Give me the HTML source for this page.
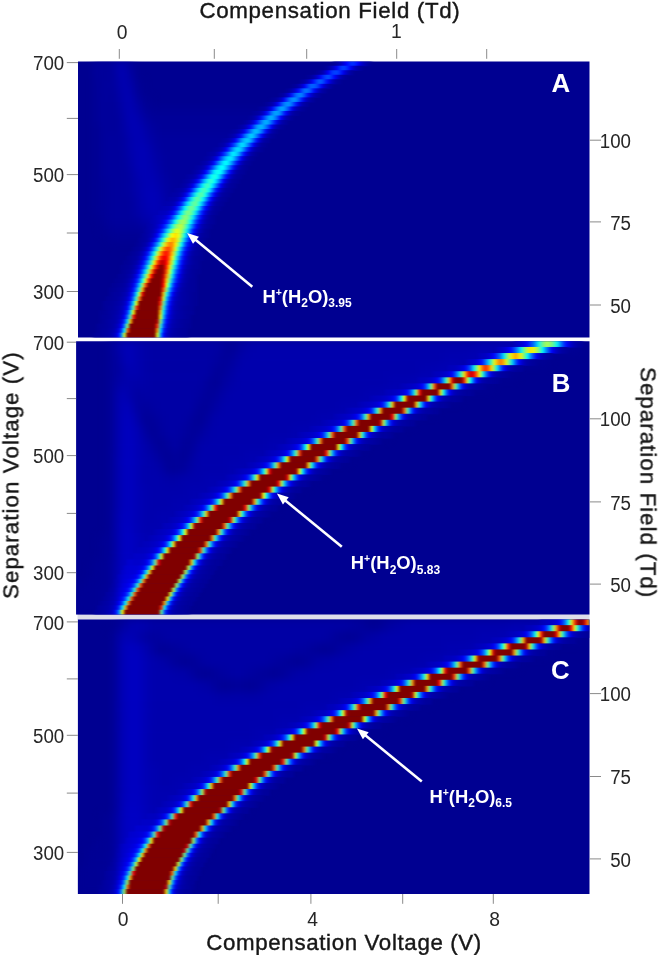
<!DOCTYPE html>
<html><head><meta charset="utf-8"><title>Dispersion plots</title>
<style>html,body{margin:0;padding:0;background:#fff}svg{display:block}text{font-family:"Liberation Sans",Arial,sans-serif}</style></head><body>
<svg width="660" height="958" viewBox="0 0 660 958">
<defs>
<clipPath id="cpA"><rect x="78.0" y="61.5" width="511.5" height="276.0"/></clipPath>
<clipPath id="cpB"><rect x="76.1" y="341.2" width="513.4" height="273.3"/></clipPath>
<clipPath id="cpC"><rect x="77.9" y="619.4" width="511.6" height="274.6"/></clipPath>
<filter id="bl" x="-5%" y="-5%" width="110%" height="110%" color-interpolation-filters="sRGB"><feGaussianBlur stdDeviation="1.6 0.7"/></filter>
<filter id="hb" x="-5%" y="-5%" width="110%" height="110%" color-interpolation-filters="sRGB"><feGaussianBlur stdDeviation="4"/></filter>
<filter id="tb" x="-10%" y="-10%" width="120%" height="120%"><feGaussianBlur stdDeviation="0.45"/></filter>
</defs>
<rect width="660" height="958" fill="#fff"/>
<rect x="77.5" y="614" width="512.0" height="6" fill="#dedeea"/>
<g clip-path="url(#cpA)">
<rect x="73.0" y="56.5" width="521.5" height="286.0" fill="#000091"/>
<g filter="url(#hb)">
<rect x="93.7" y="61.2" width="8.6" height="9.6" fill="#00009d"/>
<rect x="101.7" y="61.2" width="8.6" height="9.6" fill="#000099"/>
<rect x="109.7" y="61.2" width="8.6" height="9.6" fill="#0000a1"/>
<rect x="117.7" y="61.2" width="8.6" height="9.6" fill="#0000b5"/>
<rect x="125.7" y="61.2" width="8.6" height="9.6" fill="#00009d"/>
<rect x="93.7" y="70.2" width="8.6" height="9.6" fill="#00009d"/>
<rect x="101.7" y="70.2" width="8.6" height="9.6" fill="#000099"/>
<rect x="109.7" y="70.2" width="8.6" height="9.6" fill="#00009d"/>
<rect x="117.7" y="70.2" width="8.6" height="9.6" fill="#0000b5"/>
<rect x="125.7" y="70.2" width="8.6" height="9.6" fill="#0000a5"/>
<rect x="93.7" y="79.3" width="8.6" height="9.6" fill="#000099"/>
<rect x="101.7" y="79.3" width="16.6" height="9.6" fill="#00009d"/>
<rect x="117.7" y="79.3" width="8.6" height="9.6" fill="#0000b1"/>
<rect x="125.7" y="79.3" width="8.6" height="9.6" fill="#0000ad"/>
<rect x="133.7" y="79.3" width="8.6" height="9.6" fill="#000095"/>
<rect x="93.7" y="88.3" width="8.6" height="9.6" fill="#000099"/>
<rect x="101.7" y="88.3" width="8.6" height="9.6" fill="#00009d"/>
<rect x="109.7" y="88.3" width="8.6" height="9.6" fill="#000099"/>
<rect x="117.7" y="88.3" width="8.6" height="9.6" fill="#0000ad"/>
<rect x="125.7" y="88.3" width="8.6" height="9.6" fill="#0000b1"/>
<rect x="133.7" y="88.3" width="8.6" height="9.6" fill="#000099"/>
<rect x="93.7" y="97.4" width="8.6" height="9.6" fill="#000099"/>
<rect x="101.7" y="97.4" width="8.6" height="9.6" fill="#00009d"/>
<rect x="109.7" y="97.4" width="8.6" height="9.6" fill="#000099"/>
<rect x="117.7" y="97.4" width="8.6" height="9.6" fill="#0000a9"/>
<rect x="125.7" y="97.4" width="8.6" height="9.6" fill="#0000b5"/>
<rect x="133.7" y="97.4" width="8.6" height="9.6" fill="#0000a1"/>
<rect x="141.7" y="97.4" width="8.6" height="9.6" fill="#000095"/>
<rect x="93.7" y="106.4" width="8.6" height="9.6" fill="#000099"/>
<rect x="101.7" y="106.4" width="8.6" height="9.6" fill="#00009d"/>
<rect x="109.7" y="106.4" width="8.6" height="9.6" fill="#000099"/>
<rect x="117.7" y="106.4" width="8.6" height="9.6" fill="#0000a5"/>
<rect x="125.7" y="106.4" width="8.6" height="9.6" fill="#0000b5"/>
<rect x="133.7" y="106.4" width="8.6" height="9.6" fill="#0000a9"/>
<rect x="141.7" y="106.4" width="8.6" height="9.6" fill="#000099"/>
<rect x="149.7" y="106.4" width="120.6" height="9.6" fill="#000095"/>
<rect x="93.7" y="115.5" width="8.6" height="9.6" fill="#000099"/>
<rect x="101.7" y="115.5" width="8.6" height="9.6" fill="#00009d"/>
<rect x="109.7" y="115.5" width="8.6" height="9.6" fill="#000099"/>
<rect x="117.7" y="115.5" width="8.6" height="9.6" fill="#0000a1"/>
<rect x="125.7" y="115.5" width="8.6" height="9.6" fill="#0000b5"/>
<rect x="133.7" y="115.5" width="8.6" height="9.6" fill="#0000b1"/>
<rect x="141.7" y="115.5" width="8.6" height="9.6" fill="#0000a1"/>
<rect x="149.7" y="115.5" width="104.6" height="9.6" fill="#000099"/>
<rect x="253.7" y="115.5" width="8.6" height="9.6" fill="#000095"/>
<rect x="93.7" y="124.5" width="8.6" height="9.6" fill="#000095"/>
<rect x="101.7" y="124.5" width="8.6" height="9.6" fill="#00009d"/>
<rect x="109.7" y="124.5" width="8.6" height="9.6" fill="#000099"/>
<rect x="117.7" y="124.5" width="8.6" height="9.6" fill="#0000a1"/>
<rect x="125.7" y="124.5" width="8.6" height="9.6" fill="#0000b1"/>
<rect x="133.7" y="124.5" width="8.6" height="9.6" fill="#0000b5"/>
<rect x="141.7" y="124.5" width="8.6" height="9.6" fill="#0000a9"/>
<rect x="149.7" y="124.5" width="8.6" height="9.6" fill="#00009d"/>
<rect x="157.7" y="124.5" width="88.6" height="9.6" fill="#000099"/>
<rect x="245.7" y="124.5" width="8.6" height="9.6" fill="#000095"/>
<rect x="93.7" y="133.6" width="8.6" height="9.6" fill="#000095"/>
<rect x="101.7" y="133.6" width="24.6" height="9.6" fill="#00009d"/>
<rect x="125.7" y="133.6" width="8.6" height="9.6" fill="#0000ad"/>
<rect x="133.7" y="133.6" width="8.6" height="9.6" fill="#0000b5"/>
<rect x="141.7" y="133.6" width="8.6" height="9.6" fill="#0000ad"/>
<rect x="149.7" y="133.6" width="8.6" height="9.6" fill="#0000a1"/>
<rect x="157.7" y="133.6" width="80.6" height="9.6" fill="#00009d"/>
<rect x="237.7" y="133.6" width="8.6" height="9.6" fill="#000095"/>
<rect x="93.7" y="142.6" width="8.6" height="9.6" fill="#000095"/>
<rect x="101.7" y="142.6" width="24.6" height="9.6" fill="#00009d"/>
<rect x="125.7" y="142.6" width="8.6" height="9.6" fill="#0000ad"/>
<rect x="133.7" y="142.6" width="16.6" height="9.6" fill="#0000b5"/>
<rect x="149.7" y="142.6" width="8.6" height="9.6" fill="#0000a5"/>
<rect x="157.7" y="142.6" width="72.6" height="9.6" fill="#00009d"/>
<rect x="229.7" y="142.6" width="8.6" height="9.6" fill="#000095"/>
<rect x="93.7" y="151.7" width="8.6" height="9.6" fill="#000095"/>
<rect x="101.7" y="151.7" width="24.6" height="9.6" fill="#00009d"/>
<rect x="125.7" y="151.7" width="8.6" height="9.6" fill="#0000a9"/>
<rect x="133.7" y="151.7" width="16.6" height="9.6" fill="#0000b5"/>
<rect x="149.7" y="151.7" width="8.6" height="9.6" fill="#0000a9"/>
<rect x="157.7" y="151.7" width="8.6" height="9.6" fill="#0000a1"/>
<rect x="165.7" y="151.7" width="56.6" height="9.6" fill="#00009d"/>
<rect x="221.7" y="151.7" width="8.6" height="9.6" fill="#000095"/>
<rect x="93.7" y="160.7" width="8.6" height="9.6" fill="#000095"/>
<rect x="101.7" y="160.7" width="24.6" height="9.6" fill="#00009d"/>
<rect x="125.7" y="160.7" width="8.6" height="9.6" fill="#0000a5"/>
<rect x="133.7" y="160.7" width="16.6" height="9.6" fill="#0000b5"/>
<rect x="149.7" y="160.7" width="8.6" height="9.6" fill="#0000ad"/>
<rect x="157.7" y="160.7" width="8.6" height="9.6" fill="#0000a1"/>
<rect x="165.7" y="160.7" width="48.6" height="9.6" fill="#00009d"/>
<rect x="213.7" y="160.7" width="8.6" height="9.6" fill="#000095"/>
<rect x="93.7" y="169.8" width="8.6" height="9.6" fill="#000095"/>
<rect x="101.7" y="169.8" width="24.6" height="9.6" fill="#00009d"/>
<rect x="125.7" y="169.8" width="8.6" height="9.6" fill="#0000a1"/>
<rect x="133.7" y="169.8" width="8.6" height="9.6" fill="#0000b1"/>
<rect x="141.7" y="169.8" width="8.6" height="9.6" fill="#0000b5"/>
<rect x="149.7" y="169.8" width="8.6" height="9.6" fill="#0000b1"/>
<rect x="157.7" y="169.8" width="8.6" height="9.6" fill="#0000a5"/>
<rect x="165.7" y="169.8" width="40.6" height="9.6" fill="#00009d"/>
<rect x="205.7" y="169.8" width="8.6" height="9.6" fill="#000095"/>
<rect x="93.7" y="178.8" width="8.6" height="9.6" fill="#000095"/>
<rect x="101.7" y="178.8" width="8.6" height="9.6" fill="#000099"/>
<rect x="109.7" y="178.8" width="16.6" height="9.6" fill="#00009d"/>
<rect x="125.7" y="178.8" width="8.6" height="9.6" fill="#0000a1"/>
<rect x="133.7" y="178.8" width="8.6" height="9.6" fill="#0000ad"/>
<rect x="141.7" y="178.8" width="16.6" height="9.6" fill="#0000b5"/>
<rect x="157.7" y="178.8" width="8.6" height="9.6" fill="#0000a9"/>
<rect x="165.7" y="178.8" width="8.6" height="9.6" fill="#0000a1"/>
<rect x="173.7" y="178.8" width="24.6" height="9.6" fill="#00009d"/>
<rect x="197.7" y="178.8" width="8.6" height="9.6" fill="#000095"/>
<rect x="93.7" y="187.9" width="8.6" height="9.6" fill="#000095"/>
<rect x="101.7" y="187.9" width="8.6" height="9.6" fill="#000099"/>
<rect x="109.7" y="187.9" width="16.6" height="9.6" fill="#00009d"/>
<rect x="125.7" y="187.9" width="8.6" height="9.6" fill="#0000a1"/>
<rect x="133.7" y="187.9" width="8.6" height="9.6" fill="#0000ad"/>
<rect x="141.7" y="187.9" width="8.6" height="9.6" fill="#0000b5"/>
<rect x="149.7" y="187.9" width="8.6" height="9.6" fill="#0000b9"/>
<rect x="157.7" y="187.9" width="8.6" height="9.6" fill="#0000ad"/>
<rect x="165.7" y="187.9" width="8.6" height="9.6" fill="#0000a1"/>
<rect x="173.7" y="187.9" width="16.6" height="9.6" fill="#00009d"/>
<rect x="189.7" y="187.9" width="8.6" height="9.6" fill="#000099"/>
<rect x="93.7" y="196.9" width="8.6" height="9.6" fill="#000095"/>
<rect x="101.7" y="196.9" width="8.6" height="9.6" fill="#000099"/>
<rect x="109.7" y="196.9" width="24.6" height="9.6" fill="#00009d"/>
<rect x="133.7" y="196.9" width="8.6" height="9.6" fill="#0000a9"/>
<rect x="141.7" y="196.9" width="8.6" height="9.6" fill="#0000b5"/>
<rect x="149.7" y="196.9" width="8.6" height="9.6" fill="#0000b9"/>
<rect x="157.7" y="196.9" width="8.6" height="9.6" fill="#0000b1"/>
<rect x="165.7" y="196.9" width="8.6" height="9.6" fill="#0000a5"/>
<rect x="173.7" y="196.9" width="8.6" height="9.6" fill="#00009d"/>
<rect x="181.7" y="196.9" width="8.6" height="9.6" fill="#000099"/>
<rect x="93.7" y="206.0" width="8.6" height="9.6" fill="#000095"/>
<rect x="101.7" y="206.0" width="8.6" height="9.6" fill="#000099"/>
<rect x="109.7" y="206.0" width="24.6" height="9.6" fill="#00009d"/>
<rect x="133.7" y="206.0" width="8.6" height="9.6" fill="#0000a9"/>
<rect x="141.7" y="206.0" width="8.6" height="9.6" fill="#0000b1"/>
<rect x="149.7" y="206.0" width="8.6" height="9.6" fill="#0000b9"/>
<rect x="157.7" y="206.0" width="8.6" height="9.6" fill="#0000b5"/>
<rect x="165.7" y="206.0" width="8.6" height="9.6" fill="#0000a5"/>
<rect x="173.7" y="206.0" width="8.6" height="9.6" fill="#00009d"/>
<rect x="181.7" y="206.0" width="8.6" height="9.6" fill="#000095"/>
<rect x="101.7" y="215.0" width="8.6" height="9.6" fill="#000099"/>
<rect x="109.7" y="215.0" width="24.6" height="9.6" fill="#00009d"/>
<rect x="133.7" y="215.0" width="8.6" height="9.6" fill="#0000a1"/>
<rect x="141.7" y="215.0" width="8.6" height="9.6" fill="#0000ad"/>
<rect x="149.7" y="215.0" width="8.6" height="9.6" fill="#0000b1"/>
<rect x="157.7" y="215.0" width="8.6" height="9.6" fill="#0000b5"/>
<rect x="165.7" y="215.0" width="8.6" height="9.6" fill="#0000a9"/>
<rect x="173.7" y="215.0" width="8.6" height="9.6" fill="#000099"/>
<rect x="101.7" y="224.1" width="8.6" height="9.6" fill="#000095"/>
<rect x="109.7" y="224.1" width="32.6" height="9.6" fill="#000099"/>
<rect x="141.7" y="224.1" width="8.6" height="9.6" fill="#0000a1"/>
<rect x="149.7" y="224.1" width="8.6" height="9.6" fill="#0000a5"/>
<rect x="157.7" y="224.1" width="8.6" height="9.6" fill="#0000ad"/>
<rect x="165.7" y="224.1" width="8.6" height="9.6" fill="#0000a1"/>
<rect x="173.7" y="224.1" width="8.6" height="9.6" fill="#000095"/>
<rect x="109.7" y="233.1" width="32.6" height="9.6" fill="#000095"/>
<rect x="141.7" y="233.1" width="16.6" height="9.6" fill="#000099"/>
<rect x="157.7" y="233.1" width="8.6" height="9.6" fill="#0000a1"/>
<rect x="165.7" y="233.1" width="8.6" height="9.6" fill="#000099"/>
<rect x="157.7" y="242.2" width="8.6" height="9.6" fill="#000095"/>
</g>
<g filter="url(#bl)">
<rect x="333.0" y="61.20" width="3.0" height="5.12" fill="#000097"/>
<rect x="336.0" y="61.20" width="3.0" height="5.12" fill="#0000a3"/>
<rect x="339.0" y="61.20" width="3.0" height="5.12" fill="#0000b7"/>
<rect x="342.0" y="61.20" width="3.0" height="5.12" fill="#0000d7"/>
<rect x="345.0" y="61.20" width="3.0" height="5.12" fill="#0000ff"/>
<rect x="348.0" y="61.20" width="3.0" height="5.12" fill="#0020ff"/>
<rect x="351.0" y="61.20" width="3.0" height="5.12" fill="#0030ff"/>
<rect x="354.0" y="61.20" width="3.0" height="5.12" fill="#0020ff"/>
<rect x="357.0" y="61.20" width="3.0" height="5.12" fill="#0000fb"/>
<rect x="360.0" y="61.20" width="3.0" height="5.12" fill="#0000cf"/>
<rect x="363.0" y="61.20" width="3.0" height="5.12" fill="#0000b3"/>
<rect x="366.0" y="61.20" width="3.0" height="5.12" fill="#00009f"/>
<rect x="369.0" y="61.20" width="3.0" height="5.12" fill="#000097"/>
<rect x="324.0" y="65.72" width="3.0" height="5.12" fill="#000097"/>
<rect x="327.0" y="65.72" width="3.0" height="5.12" fill="#0000a3"/>
<rect x="330.0" y="65.72" width="3.0" height="5.12" fill="#0000b7"/>
<rect x="333.0" y="65.72" width="3.0" height="5.12" fill="#0000d7"/>
<rect x="336.0" y="65.72" width="3.0" height="5.12" fill="#0004ff"/>
<rect x="339.0" y="65.72" width="3.0" height="5.12" fill="#0030ff"/>
<rect x="342.0" y="65.72" width="3.0" height="5.12" fill="#0040ff"/>
<rect x="345.0" y="65.72" width="3.0" height="5.12" fill="#0030ff"/>
<rect x="348.0" y="65.72" width="3.0" height="5.12" fill="#0008ff"/>
<rect x="351.0" y="65.72" width="3.0" height="5.12" fill="#0000db"/>
<rect x="354.0" y="65.72" width="3.0" height="5.12" fill="#0000b7"/>
<rect x="357.0" y="65.72" width="3.0" height="5.12" fill="#0000a3"/>
<rect x="360.0" y="65.72" width="3.0" height="5.12" fill="#00009b"/>
<rect x="315.0" y="70.25" width="3.0" height="5.12" fill="#000097"/>
<rect x="318.0" y="70.25" width="3.0" height="5.12" fill="#00009f"/>
<rect x="321.0" y="70.25" width="3.0" height="5.12" fill="#0000af"/>
<rect x="324.0" y="70.25" width="3.0" height="5.12" fill="#0000cf"/>
<rect x="327.0" y="70.25" width="3.0" height="5.12" fill="#0000fb"/>
<rect x="330.0" y="70.25" width="3.0" height="5.12" fill="#0030ff"/>
<rect x="333.0" y="70.25" width="6.0" height="5.12" fill="#0040ff"/>
<rect x="339.0" y="70.25" width="3.0" height="5.12" fill="#0020ff"/>
<rect x="342.0" y="70.25" width="3.0" height="5.12" fill="#0000eb"/>
<rect x="345.0" y="70.25" width="3.0" height="5.12" fill="#0000c3"/>
<rect x="348.0" y="70.25" width="3.0" height="5.12" fill="#0000a7"/>
<rect x="351.0" y="70.25" width="3.0" height="5.12" fill="#00009b"/>
<rect x="306.0" y="74.77" width="3.0" height="5.12" fill="#000097"/>
<rect x="309.0" y="74.77" width="3.0" height="5.12" fill="#00009b"/>
<rect x="312.0" y="74.77" width="3.0" height="5.12" fill="#0000ab"/>
<rect x="315.0" y="74.77" width="3.0" height="5.12" fill="#0000c3"/>
<rect x="318.0" y="74.77" width="3.0" height="5.12" fill="#0000ef"/>
<rect x="321.0" y="74.77" width="3.0" height="5.12" fill="#0020ff"/>
<rect x="324.0" y="74.77" width="3.0" height="5.12" fill="#0040ff"/>
<rect x="327.0" y="74.77" width="3.0" height="5.12" fill="#0050ff"/>
<rect x="330.0" y="74.77" width="3.0" height="5.12" fill="#0030ff"/>
<rect x="333.0" y="74.77" width="3.0" height="5.12" fill="#0004ff"/>
<rect x="336.0" y="74.77" width="3.0" height="5.12" fill="#0000d3"/>
<rect x="339.0" y="74.77" width="3.0" height="5.12" fill="#0000b3"/>
<rect x="342.0" y="74.77" width="3.0" height="5.12" fill="#00009f"/>
<rect x="345.0" y="74.77" width="3.0" height="5.12" fill="#000097"/>
<rect x="300.0" y="79.30" width="3.0" height="5.12" fill="#00009b"/>
<rect x="303.0" y="79.30" width="3.0" height="5.12" fill="#0000a3"/>
<rect x="306.0" y="79.30" width="3.0" height="5.12" fill="#0000b7"/>
<rect x="309.0" y="79.30" width="3.0" height="5.12" fill="#0000db"/>
<rect x="312.0" y="79.30" width="3.0" height="5.12" fill="#0010ff"/>
<rect x="315.0" y="79.30" width="3.0" height="5.12" fill="#0040ff"/>
<rect x="318.0" y="79.30" width="3.0" height="5.12" fill="#0060ff"/>
<rect x="321.0" y="79.30" width="3.0" height="5.12" fill="#0050ff"/>
<rect x="324.0" y="79.30" width="3.0" height="5.12" fill="#0020ff"/>
<rect x="327.0" y="79.30" width="3.0" height="5.12" fill="#0000f3"/>
<rect x="330.0" y="79.30" width="3.0" height="5.12" fill="#0000c7"/>
<rect x="333.0" y="79.30" width="3.0" height="5.12" fill="#0000ab"/>
<rect x="336.0" y="79.30" width="3.0" height="5.12" fill="#00009b"/>
<rect x="339.0" y="79.30" width="3.0" height="5.12" fill="#000097"/>
<rect x="291.0" y="83.82" width="3.0" height="5.12" fill="#000097"/>
<rect x="294.0" y="83.82" width="3.0" height="5.12" fill="#00009b"/>
<rect x="297.0" y="83.82" width="3.0" height="5.12" fill="#0000ab"/>
<rect x="300.0" y="83.82" width="3.0" height="5.12" fill="#0000c7"/>
<rect x="303.0" y="83.82" width="3.0" height="5.12" fill="#0000f3"/>
<rect x="306.0" y="83.82" width="3.0" height="5.12" fill="#0030ff"/>
<rect x="309.0" y="83.82" width="6.0" height="5.12" fill="#0060ff"/>
<rect x="315.0" y="83.82" width="3.0" height="5.12" fill="#0050ff"/>
<rect x="318.0" y="83.82" width="3.0" height="5.12" fill="#0020ff"/>
<rect x="321.0" y="83.82" width="3.0" height="5.12" fill="#0000e7"/>
<rect x="324.0" y="83.82" width="3.0" height="5.12" fill="#0000bf"/>
<rect x="327.0" y="83.82" width="3.0" height="5.12" fill="#0000a7"/>
<rect x="330.0" y="83.82" width="3.0" height="5.12" fill="#00009b"/>
<rect x="285.0" y="88.35" width="3.0" height="5.12" fill="#000097"/>
<rect x="288.0" y="88.35" width="3.0" height="5.12" fill="#00009f"/>
<rect x="291.0" y="88.35" width="3.0" height="5.12" fill="#0000b3"/>
<rect x="294.0" y="88.35" width="3.0" height="5.12" fill="#0000d3"/>
<rect x="297.0" y="88.35" width="3.0" height="5.12" fill="#0008ff"/>
<rect x="300.0" y="88.35" width="3.0" height="5.12" fill="#0040ff"/>
<rect x="303.0" y="88.35" width="6.0" height="5.12" fill="#0070ff"/>
<rect x="309.0" y="88.35" width="3.0" height="5.12" fill="#0050ff"/>
<rect x="312.0" y="88.35" width="3.0" height="5.12" fill="#0010ff"/>
<rect x="315.0" y="88.35" width="3.0" height="5.12" fill="#0000df"/>
<rect x="318.0" y="88.35" width="3.0" height="5.12" fill="#0000b7"/>
<rect x="321.0" y="88.35" width="3.0" height="5.12" fill="#0000a3"/>
<rect x="324.0" y="88.35" width="3.0" height="5.12" fill="#00009b"/>
<rect x="279.0" y="92.87" width="3.0" height="5.12" fill="#00009b"/>
<rect x="282.0" y="92.87" width="3.0" height="5.12" fill="#0000a3"/>
<rect x="285.0" y="92.87" width="3.0" height="5.12" fill="#0000bb"/>
<rect x="288.0" y="92.87" width="3.0" height="5.12" fill="#0000e3"/>
<rect x="291.0" y="92.87" width="3.0" height="5.12" fill="#0020ff"/>
<rect x="294.0" y="92.87" width="3.0" height="5.12" fill="#0060ff"/>
<rect x="297.0" y="92.87" width="6.0" height="5.12" fill="#0080ff"/>
<rect x="303.0" y="92.87" width="3.0" height="5.12" fill="#0050ff"/>
<rect x="306.0" y="92.87" width="3.0" height="5.12" fill="#0010ff"/>
<rect x="309.0" y="92.87" width="3.0" height="5.12" fill="#0000db"/>
<rect x="312.0" y="92.87" width="3.0" height="5.12" fill="#0000b7"/>
<rect x="315.0" y="92.87" width="3.0" height="5.12" fill="#0000a3"/>
<rect x="318.0" y="92.87" width="3.0" height="5.12" fill="#00009b"/>
<rect x="270.0" y="97.40" width="3.0" height="5.12" fill="#000097"/>
<rect x="273.0" y="97.40" width="3.0" height="5.12" fill="#00009b"/>
<rect x="276.0" y="97.40" width="3.0" height="5.12" fill="#0000a7"/>
<rect x="279.0" y="97.40" width="3.0" height="5.12" fill="#0000bf"/>
<rect x="282.0" y="97.40" width="3.0" height="5.12" fill="#0000eb"/>
<rect x="285.0" y="97.40" width="3.0" height="5.12" fill="#0030ff"/>
<rect x="288.0" y="97.40" width="3.0" height="5.12" fill="#0070ff"/>
<rect x="291.0" y="97.40" width="6.0" height="5.12" fill="#008fff"/>
<rect x="297.0" y="97.40" width="3.0" height="5.12" fill="#0060ff"/>
<rect x="300.0" y="97.40" width="3.0" height="5.12" fill="#0020ff"/>
<rect x="303.0" y="97.40" width="3.0" height="5.12" fill="#0000df"/>
<rect x="306.0" y="97.40" width="3.0" height="5.12" fill="#0000b7"/>
<rect x="309.0" y="97.40" width="3.0" height="5.12" fill="#0000a3"/>
<rect x="312.0" y="97.40" width="3.0" height="5.12" fill="#00009b"/>
<rect x="264.0" y="101.92" width="3.0" height="5.12" fill="#000097"/>
<rect x="267.0" y="101.92" width="3.0" height="5.12" fill="#00009f"/>
<rect x="270.0" y="101.92" width="3.0" height="5.12" fill="#0000a7"/>
<rect x="273.0" y="101.92" width="3.0" height="5.12" fill="#0000c3"/>
<rect x="276.0" y="101.92" width="3.0" height="5.12" fill="#0000ef"/>
<rect x="279.0" y="101.92" width="3.0" height="5.12" fill="#0030ff"/>
<rect x="282.0" y="101.92" width="3.0" height="5.12" fill="#0070ff"/>
<rect x="285.0" y="101.92" width="6.0" height="5.12" fill="#008fff"/>
<rect x="291.0" y="101.92" width="3.0" height="5.12" fill="#0060ff"/>
<rect x="294.0" y="101.92" width="3.0" height="5.12" fill="#0020ff"/>
<rect x="297.0" y="101.92" width="3.0" height="5.12" fill="#0000e3"/>
<rect x="300.0" y="101.92" width="3.0" height="5.12" fill="#0000b7"/>
<rect x="303.0" y="101.92" width="3.0" height="5.12" fill="#0000a3"/>
<rect x="306.0" y="101.92" width="3.0" height="5.12" fill="#00009b"/>
<rect x="258.0" y="106.45" width="3.0" height="5.12" fill="#00009b"/>
<rect x="261.0" y="106.45" width="3.0" height="5.12" fill="#00009f"/>
<rect x="264.0" y="106.45" width="3.0" height="5.12" fill="#0000a7"/>
<rect x="267.0" y="106.45" width="3.0" height="5.12" fill="#0000c3"/>
<rect x="270.0" y="106.45" width="3.0" height="5.12" fill="#0000ef"/>
<rect x="273.0" y="106.45" width="3.0" height="5.12" fill="#0030ff"/>
<rect x="276.0" y="106.45" width="3.0" height="5.12" fill="#0070ff"/>
<rect x="279.0" y="106.45" width="6.0" height="5.12" fill="#009fff"/>
<rect x="285.0" y="106.45" width="3.0" height="5.12" fill="#0070ff"/>
<rect x="288.0" y="106.45" width="3.0" height="5.12" fill="#0030ff"/>
<rect x="291.0" y="106.45" width="3.0" height="5.12" fill="#0000e7"/>
<rect x="294.0" y="106.45" width="3.0" height="5.12" fill="#0000bb"/>
<rect x="297.0" y="106.45" width="3.0" height="5.12" fill="#0000a7"/>
<rect x="300.0" y="106.45" width="3.0" height="5.12" fill="#00009b"/>
<rect x="303.0" y="106.45" width="3.0" height="5.12" fill="#000097"/>
<rect x="252.0" y="110.97" width="3.0" height="5.12" fill="#00009b"/>
<rect x="255.0" y="110.97" width="3.0" height="5.12" fill="#00009f"/>
<rect x="258.0" y="110.97" width="3.0" height="5.12" fill="#0000a7"/>
<rect x="261.0" y="110.97" width="3.0" height="5.12" fill="#0000bf"/>
<rect x="264.0" y="110.97" width="3.0" height="5.12" fill="#0000e7"/>
<rect x="267.0" y="110.97" width="3.0" height="5.12" fill="#0020ff"/>
<rect x="270.0" y="110.97" width="3.0" height="5.12" fill="#0070ff"/>
<rect x="273.0" y="110.97" width="6.0" height="5.12" fill="#009fff"/>
<rect x="279.0" y="110.97" width="3.0" height="5.12" fill="#0080ff"/>
<rect x="282.0" y="110.97" width="3.0" height="5.12" fill="#0030ff"/>
<rect x="285.0" y="110.97" width="3.0" height="5.12" fill="#0000f3"/>
<rect x="288.0" y="110.97" width="3.0" height="5.12" fill="#0000c3"/>
<rect x="291.0" y="110.97" width="3.0" height="5.12" fill="#0000a7"/>
<rect x="294.0" y="110.97" width="3.0" height="5.12" fill="#00009b"/>
<rect x="297.0" y="110.97" width="3.0" height="5.12" fill="#000097"/>
<rect x="249.0" y="115.50" width="3.0" height="5.12" fill="#00009f"/>
<rect x="252.0" y="115.50" width="3.0" height="5.12" fill="#0000a7"/>
<rect x="255.0" y="115.50" width="3.0" height="5.12" fill="#0000bb"/>
<rect x="258.0" y="115.50" width="3.0" height="5.12" fill="#0000e3"/>
<rect x="261.0" y="115.50" width="3.0" height="5.12" fill="#0020ff"/>
<rect x="264.0" y="115.50" width="3.0" height="5.12" fill="#0060ff"/>
<rect x="267.0" y="115.50" width="3.0" height="5.12" fill="#009fff"/>
<rect x="270.0" y="115.50" width="3.0" height="5.12" fill="#00afff"/>
<rect x="273.0" y="115.50" width="3.0" height="5.12" fill="#008fff"/>
<rect x="276.0" y="115.50" width="3.0" height="5.12" fill="#0050ff"/>
<rect x="279.0" y="115.50" width="3.0" height="5.12" fill="#0004ff"/>
<rect x="282.0" y="115.50" width="3.0" height="5.12" fill="#0000cf"/>
<rect x="285.0" y="115.50" width="3.0" height="5.12" fill="#0000af"/>
<rect x="288.0" y="115.50" width="3.0" height="5.12" fill="#00009f"/>
<rect x="291.0" y="115.50" width="3.0" height="5.12" fill="#000097"/>
<rect x="243.0" y="120.02" width="3.0" height="5.12" fill="#00009f"/>
<rect x="246.0" y="120.02" width="3.0" height="5.12" fill="#0000a7"/>
<rect x="249.0" y="120.02" width="3.0" height="5.12" fill="#0000b7"/>
<rect x="252.0" y="120.02" width="3.0" height="5.12" fill="#0000d7"/>
<rect x="255.0" y="120.02" width="3.0" height="5.12" fill="#0010ff"/>
<rect x="258.0" y="120.02" width="3.0" height="5.12" fill="#0050ff"/>
<rect x="261.0" y="120.02" width="3.0" height="5.12" fill="#008fff"/>
<rect x="264.0" y="120.02" width="3.0" height="5.12" fill="#00afff"/>
<rect x="267.0" y="120.02" width="3.0" height="5.12" fill="#009fff"/>
<rect x="270.0" y="120.02" width="3.0" height="5.12" fill="#0060ff"/>
<rect x="273.0" y="120.02" width="3.0" height="5.12" fill="#0020ff"/>
<rect x="276.0" y="120.02" width="3.0" height="5.12" fill="#0000df"/>
<rect x="279.0" y="120.02" width="3.0" height="5.12" fill="#0000b7"/>
<rect x="282.0" y="120.02" width="3.0" height="5.12" fill="#0000a3"/>
<rect x="285.0" y="120.02" width="3.0" height="5.12" fill="#00009b"/>
<rect x="237.0" y="124.54" width="3.0" height="5.12" fill="#00009f"/>
<rect x="240.0" y="124.54" width="3.0" height="5.12" fill="#0000a7"/>
<rect x="243.0" y="124.54" width="3.0" height="5.12" fill="#0000b3"/>
<rect x="246.0" y="124.54" width="3.0" height="5.12" fill="#0000cf"/>
<rect x="249.0" y="124.54" width="3.0" height="5.12" fill="#0000ff"/>
<rect x="252.0" y="124.54" width="3.0" height="5.12" fill="#0040ff"/>
<rect x="255.0" y="124.54" width="3.0" height="5.12" fill="#008fff"/>
<rect x="258.0" y="124.54" width="6.0" height="5.12" fill="#00afff"/>
<rect x="264.0" y="124.54" width="3.0" height="5.12" fill="#0080ff"/>
<rect x="267.0" y="124.54" width="3.0" height="5.12" fill="#0040ff"/>
<rect x="270.0" y="124.54" width="3.0" height="5.12" fill="#0000f3"/>
<rect x="273.0" y="124.54" width="3.0" height="5.12" fill="#0000c3"/>
<rect x="276.0" y="124.54" width="3.0" height="5.12" fill="#0000a7"/>
<rect x="279.0" y="124.54" width="3.0" height="5.12" fill="#00009b"/>
<rect x="282.0" y="124.54" width="3.0" height="5.12" fill="#000097"/>
<rect x="231.0" y="129.07" width="3.0" height="5.12" fill="#00009f"/>
<rect x="234.0" y="129.07" width="3.0" height="5.12" fill="#0000a3"/>
<rect x="237.0" y="129.07" width="3.0" height="5.12" fill="#0000af"/>
<rect x="240.0" y="129.07" width="3.0" height="5.12" fill="#0000c3"/>
<rect x="243.0" y="129.07" width="3.0" height="5.12" fill="#0000eb"/>
<rect x="246.0" y="129.07" width="3.0" height="5.12" fill="#0030ff"/>
<rect x="249.0" y="129.07" width="3.0" height="5.12" fill="#0070ff"/>
<rect x="252.0" y="129.07" width="3.0" height="5.12" fill="#00afff"/>
<rect x="255.0" y="129.07" width="3.0" height="5.12" fill="#00bfff"/>
<rect x="258.0" y="129.07" width="3.0" height="5.12" fill="#009fff"/>
<rect x="261.0" y="129.07" width="3.0" height="5.12" fill="#0060ff"/>
<rect x="264.0" y="129.07" width="3.0" height="5.12" fill="#0010ff"/>
<rect x="267.0" y="129.07" width="3.0" height="5.12" fill="#0000d3"/>
<rect x="270.0" y="129.07" width="3.0" height="5.12" fill="#0000af"/>
<rect x="273.0" y="129.07" width="3.0" height="5.12" fill="#00009f"/>
<rect x="276.0" y="129.07" width="3.0" height="5.12" fill="#000097"/>
<rect x="228.0" y="133.59" width="3.0" height="5.12" fill="#0000a3"/>
<rect x="231.0" y="133.59" width="3.0" height="5.12" fill="#0000ab"/>
<rect x="234.0" y="133.59" width="3.0" height="5.12" fill="#0000bb"/>
<rect x="237.0" y="133.59" width="3.0" height="5.12" fill="#0000db"/>
<rect x="240.0" y="133.59" width="3.0" height="5.12" fill="#0010ff"/>
<rect x="243.0" y="133.59" width="3.0" height="5.12" fill="#0060ff"/>
<rect x="246.0" y="133.59" width="3.0" height="5.12" fill="#009fff"/>
<rect x="249.0" y="133.59" width="3.0" height="5.12" fill="#00cfff"/>
<rect x="252.0" y="133.59" width="3.0" height="5.12" fill="#00bfff"/>
<rect x="255.0" y="133.59" width="3.0" height="5.12" fill="#0080ff"/>
<rect x="258.0" y="133.59" width="3.0" height="5.12" fill="#0030ff"/>
<rect x="261.0" y="133.59" width="3.0" height="5.12" fill="#0000ef"/>
<rect x="264.0" y="133.59" width="3.0" height="5.12" fill="#0000bf"/>
<rect x="267.0" y="133.59" width="3.0" height="5.12" fill="#0000a7"/>
<rect x="270.0" y="133.59" width="3.0" height="5.12" fill="#00009b"/>
<rect x="273.0" y="133.59" width="3.0" height="5.12" fill="#000097"/>
<rect x="222.0" y="138.12" width="3.0" height="5.12" fill="#0000a3"/>
<rect x="225.0" y="138.12" width="3.0" height="5.12" fill="#0000a7"/>
<rect x="228.0" y="138.12" width="3.0" height="5.12" fill="#0000b3"/>
<rect x="231.0" y="138.12" width="3.0" height="5.12" fill="#0000cb"/>
<rect x="234.0" y="138.12" width="3.0" height="5.12" fill="#0000f7"/>
<rect x="237.0" y="138.12" width="3.0" height="5.12" fill="#0040ff"/>
<rect x="240.0" y="138.12" width="3.0" height="5.12" fill="#008fff"/>
<rect x="243.0" y="138.12" width="3.0" height="5.12" fill="#00bfff"/>
<rect x="246.0" y="138.12" width="3.0" height="5.12" fill="#00cfff"/>
<rect x="249.0" y="138.12" width="3.0" height="5.12" fill="#00afff"/>
<rect x="252.0" y="138.12" width="3.0" height="5.12" fill="#0060ff"/>
<rect x="255.0" y="138.12" width="3.0" height="5.12" fill="#0010ff"/>
<rect x="258.0" y="138.12" width="3.0" height="5.12" fill="#0000d3"/>
<rect x="261.0" y="138.12" width="3.0" height="5.12" fill="#0000af"/>
<rect x="264.0" y="138.12" width="3.0" height="5.12" fill="#00009f"/>
<rect x="267.0" y="138.12" width="3.0" height="5.12" fill="#00009b"/>
<rect x="219.0" y="142.64" width="3.0" height="5.12" fill="#0000a7"/>
<rect x="222.0" y="142.64" width="3.0" height="5.12" fill="#0000ab"/>
<rect x="225.0" y="142.64" width="3.0" height="5.12" fill="#0000bf"/>
<rect x="228.0" y="142.64" width="3.0" height="5.12" fill="#0000df"/>
<rect x="231.0" y="142.64" width="3.0" height="5.12" fill="#0020ff"/>
<rect x="234.0" y="142.64" width="3.0" height="5.12" fill="#0060ff"/>
<rect x="237.0" y="142.64" width="3.0" height="5.12" fill="#00afff"/>
<rect x="240.0" y="142.64" width="3.0" height="5.12" fill="#00dfff"/>
<rect x="243.0" y="142.64" width="3.0" height="5.12" fill="#00cfff"/>
<rect x="246.0" y="142.64" width="3.0" height="5.12" fill="#008fff"/>
<rect x="249.0" y="142.64" width="3.0" height="5.12" fill="#0040ff"/>
<rect x="252.0" y="142.64" width="3.0" height="5.12" fill="#0000f3"/>
<rect x="255.0" y="142.64" width="3.0" height="5.12" fill="#0000c3"/>
<rect x="258.0" y="142.64" width="3.0" height="5.12" fill="#0000a7"/>
<rect x="261.0" y="142.64" width="3.0" height="5.12" fill="#00009b"/>
<rect x="264.0" y="142.64" width="3.0" height="5.12" fill="#000097"/>
<rect x="213.0" y="147.17" width="3.0" height="5.12" fill="#0000a3"/>
<rect x="216.0" y="147.17" width="3.0" height="5.12" fill="#0000a7"/>
<rect x="219.0" y="147.17" width="3.0" height="5.12" fill="#0000b3"/>
<rect x="222.0" y="147.17" width="3.0" height="5.12" fill="#0000cb"/>
<rect x="225.0" y="147.17" width="3.0" height="5.12" fill="#0000fb"/>
<rect x="228.0" y="147.17" width="3.0" height="5.12" fill="#0040ff"/>
<rect x="231.0" y="147.17" width="3.0" height="5.12" fill="#008fff"/>
<rect x="234.0" y="147.17" width="3.0" height="5.12" fill="#00cfff"/>
<rect x="237.0" y="147.17" width="3.0" height="5.12" fill="#00dfff"/>
<rect x="240.0" y="147.17" width="3.0" height="5.12" fill="#00bfff"/>
<rect x="243.0" y="147.17" width="3.0" height="5.12" fill="#0070ff"/>
<rect x="246.0" y="147.17" width="3.0" height="5.12" fill="#0020ff"/>
<rect x="249.0" y="147.17" width="3.0" height="5.12" fill="#0000df"/>
<rect x="252.0" y="147.17" width="3.0" height="5.12" fill="#0000b7"/>
<rect x="255.0" y="147.17" width="3.0" height="5.12" fill="#0000a3"/>
<rect x="258.0" y="147.17" width="3.0" height="5.12" fill="#00009b"/>
<rect x="261.0" y="147.17" width="3.0" height="5.12" fill="#000097"/>
<rect x="207.0" y="151.69" width="3.0" height="5.12" fill="#0000a3"/>
<rect x="210.0" y="151.69" width="3.0" height="5.12" fill="#0000a7"/>
<rect x="213.0" y="151.69" width="3.0" height="5.12" fill="#0000ab"/>
<rect x="216.0" y="151.69" width="3.0" height="5.12" fill="#0000bf"/>
<rect x="219.0" y="151.69" width="3.0" height="5.12" fill="#0000df"/>
<rect x="222.0" y="151.69" width="3.0" height="5.12" fill="#0020ff"/>
<rect x="225.0" y="151.69" width="3.0" height="5.12" fill="#0060ff"/>
<rect x="228.0" y="151.69" width="3.0" height="5.12" fill="#00afff"/>
<rect x="231.0" y="151.69" width="3.0" height="5.12" fill="#00efff"/>
<rect x="234.0" y="151.69" width="3.0" height="5.12" fill="#00dfff"/>
<rect x="237.0" y="151.69" width="3.0" height="5.12" fill="#00afff"/>
<rect x="240.0" y="151.69" width="3.0" height="5.12" fill="#0050ff"/>
<rect x="243.0" y="151.69" width="3.0" height="5.12" fill="#0008ff"/>
<rect x="246.0" y="151.69" width="3.0" height="5.12" fill="#0000cf"/>
<rect x="249.0" y="151.69" width="3.0" height="5.12" fill="#0000af"/>
<rect x="252.0" y="151.69" width="3.0" height="5.12" fill="#00009f"/>
<rect x="255.0" y="151.69" width="3.0" height="5.12" fill="#000097"/>
<rect x="204.0" y="156.22" width="3.0" height="5.12" fill="#0000a3"/>
<rect x="207.0" y="156.22" width="3.0" height="5.12" fill="#0000a7"/>
<rect x="210.0" y="156.22" width="3.0" height="5.12" fill="#0000b3"/>
<rect x="213.0" y="156.22" width="3.0" height="5.12" fill="#0000cb"/>
<rect x="216.0" y="156.22" width="3.0" height="5.12" fill="#0000f7"/>
<rect x="219.0" y="156.22" width="3.0" height="5.12" fill="#0040ff"/>
<rect x="222.0" y="156.22" width="3.0" height="5.12" fill="#008fff"/>
<rect x="225.0" y="156.22" width="3.0" height="5.12" fill="#00cfff"/>
<rect x="228.0" y="156.22" width="3.0" height="5.12" fill="#00efff"/>
<rect x="231.0" y="156.22" width="3.0" height="5.12" fill="#00dfff"/>
<rect x="234.0" y="156.22" width="3.0" height="5.12" fill="#008fff"/>
<rect x="237.0" y="156.22" width="3.0" height="5.12" fill="#0040ff"/>
<rect x="240.0" y="156.22" width="3.0" height="5.12" fill="#0000f3"/>
<rect x="243.0" y="156.22" width="3.0" height="5.12" fill="#0000c3"/>
<rect x="246.0" y="156.22" width="3.0" height="5.12" fill="#0000a7"/>
<rect x="249.0" y="156.22" width="3.0" height="5.12" fill="#00009b"/>
<rect x="252.0" y="156.22" width="3.0" height="5.12" fill="#000097"/>
<rect x="201.0" y="160.74" width="3.0" height="5.12" fill="#0000a7"/>
<rect x="204.0" y="160.74" width="3.0" height="5.12" fill="#0000ab"/>
<rect x="207.0" y="160.74" width="3.0" height="5.12" fill="#0000bb"/>
<rect x="210.0" y="160.74" width="3.0" height="5.12" fill="#0000d7"/>
<rect x="213.0" y="160.74" width="3.0" height="5.12" fill="#0010ff"/>
<rect x="216.0" y="160.74" width="3.0" height="5.12" fill="#0060ff"/>
<rect x="219.0" y="160.74" width="3.0" height="5.12" fill="#00afff"/>
<rect x="222.0" y="160.74" width="3.0" height="5.12" fill="#00efff"/>
<rect x="225.0" y="160.74" width="3.0" height="5.12" fill="#00ffff"/>
<rect x="228.0" y="160.74" width="3.0" height="5.12" fill="#00cfff"/>
<rect x="231.0" y="160.74" width="3.0" height="5.12" fill="#0080ff"/>
<rect x="234.0" y="160.74" width="3.0" height="5.12" fill="#0030ff"/>
<rect x="237.0" y="160.74" width="3.0" height="5.12" fill="#0000e7"/>
<rect x="240.0" y="160.74" width="3.0" height="5.12" fill="#0000bb"/>
<rect x="243.0" y="160.74" width="3.0" height="5.12" fill="#0000a3"/>
<rect x="246.0" y="160.74" width="3.0" height="5.12" fill="#00009b"/>
<rect x="249.0" y="160.74" width="3.0" height="5.12" fill="#000097"/>
<rect x="195.0" y="165.27" width="3.0" height="5.12" fill="#0000a3"/>
<rect x="198.0" y="165.27" width="3.0" height="5.12" fill="#0000a7"/>
<rect x="201.0" y="165.27" width="3.0" height="5.12" fill="#0000af"/>
<rect x="204.0" y="165.27" width="3.0" height="5.12" fill="#0000c3"/>
<rect x="207.0" y="165.27" width="3.0" height="5.12" fill="#0000eb"/>
<rect x="210.0" y="165.27" width="3.0" height="5.12" fill="#0030ff"/>
<rect x="213.0" y="165.27" width="3.0" height="5.12" fill="#0080ff"/>
<rect x="216.0" y="165.27" width="3.0" height="5.12" fill="#00cfff"/>
<rect x="219.0" y="165.27" width="6.0" height="5.12" fill="#00ffff"/>
<rect x="225.0" y="165.27" width="3.0" height="5.12" fill="#00bfff"/>
<rect x="228.0" y="165.27" width="3.0" height="5.12" fill="#0070ff"/>
<rect x="231.0" y="165.27" width="3.0" height="5.12" fill="#0020ff"/>
<rect x="234.0" y="165.27" width="3.0" height="5.12" fill="#0000db"/>
<rect x="237.0" y="165.27" width="3.0" height="5.12" fill="#0000b3"/>
<rect x="240.0" y="165.27" width="3.0" height="5.12" fill="#0000a3"/>
<rect x="243.0" y="165.27" width="3.0" height="5.12" fill="#00009b"/>
<rect x="246.0" y="165.27" width="3.0" height="5.12" fill="#000097"/>
<rect x="192.0" y="169.79" width="3.0" height="5.12" fill="#0000a3"/>
<rect x="195.0" y="169.79" width="3.0" height="5.12" fill="#0000ab"/>
<rect x="198.0" y="169.79" width="3.0" height="5.12" fill="#0000b3"/>
<rect x="201.0" y="169.79" width="3.0" height="5.12" fill="#0000cf"/>
<rect x="204.0" y="169.79" width="3.0" height="5.12" fill="#0000fb"/>
<rect x="207.0" y="169.79" width="3.0" height="5.12" fill="#0040ff"/>
<rect x="210.0" y="169.79" width="3.0" height="5.12" fill="#009fff"/>
<rect x="213.0" y="169.79" width="3.0" height="5.12" fill="#00efff"/>
<rect x="216.0" y="169.79" width="3.0" height="5.12" fill="#10ffef"/>
<rect x="219.0" y="169.79" width="3.0" height="5.12" fill="#00ffff"/>
<rect x="222.0" y="169.79" width="3.0" height="5.12" fill="#00bfff"/>
<rect x="225.0" y="169.79" width="3.0" height="5.12" fill="#0060ff"/>
<rect x="228.0" y="169.79" width="3.0" height="5.12" fill="#000cff"/>
<rect x="231.0" y="169.79" width="3.0" height="5.12" fill="#0000d3"/>
<rect x="234.0" y="169.79" width="3.0" height="5.12" fill="#0000af"/>
<rect x="237.0" y="169.79" width="3.0" height="5.12" fill="#00009f"/>
<rect x="240.0" y="169.79" width="3.0" height="5.12" fill="#00009b"/>
<rect x="243.0" y="169.79" width="3.0" height="5.12" fill="#000097"/>
<rect x="186.0" y="174.31" width="3.0" height="5.12" fill="#0000a3"/>
<rect x="189.0" y="174.31" width="3.0" height="5.12" fill="#0000a7"/>
<rect x="192.0" y="174.31" width="3.0" height="5.12" fill="#0000ab"/>
<rect x="195.0" y="174.31" width="3.0" height="5.12" fill="#0000bb"/>
<rect x="198.0" y="174.31" width="3.0" height="5.12" fill="#0000db"/>
<rect x="201.0" y="174.31" width="3.0" height="5.12" fill="#0010ff"/>
<rect x="204.0" y="174.31" width="3.0" height="5.12" fill="#0060ff"/>
<rect x="207.0" y="174.31" width="3.0" height="5.12" fill="#00bfff"/>
<rect x="210.0" y="174.31" width="3.0" height="5.12" fill="#00ffff"/>
<rect x="213.0" y="174.31" width="3.0" height="5.12" fill="#20ffdf"/>
<rect x="216.0" y="174.31" width="3.0" height="5.12" fill="#00ffff"/>
<rect x="219.0" y="174.31" width="3.0" height="5.12" fill="#00afff"/>
<rect x="222.0" y="174.31" width="3.0" height="5.12" fill="#0050ff"/>
<rect x="225.0" y="174.31" width="3.0" height="5.12" fill="#0004ff"/>
<rect x="228.0" y="174.31" width="3.0" height="5.12" fill="#0000cb"/>
<rect x="231.0" y="174.31" width="3.0" height="5.12" fill="#0000af"/>
<rect x="234.0" y="174.31" width="3.0" height="5.12" fill="#00009f"/>
<rect x="237.0" y="174.31" width="3.0" height="5.12" fill="#00009b"/>
<rect x="240.0" y="174.31" width="3.0" height="5.12" fill="#000097"/>
<rect x="183.0" y="178.84" width="3.0" height="5.12" fill="#0000a3"/>
<rect x="186.0" y="178.84" width="3.0" height="5.12" fill="#0000a7"/>
<rect x="189.0" y="178.84" width="3.0" height="5.12" fill="#0000af"/>
<rect x="192.0" y="178.84" width="3.0" height="5.12" fill="#0000c3"/>
<rect x="195.0" y="178.84" width="3.0" height="5.12" fill="#0000e7"/>
<rect x="198.0" y="178.84" width="3.0" height="5.12" fill="#0020ff"/>
<rect x="201.0" y="178.84" width="3.0" height="5.12" fill="#0080ff"/>
<rect x="204.0" y="178.84" width="3.0" height="5.12" fill="#00cfff"/>
<rect x="207.0" y="178.84" width="3.0" height="5.12" fill="#20ffdf"/>
<rect x="210.0" y="178.84" width="3.0" height="5.12" fill="#30ffcf"/>
<rect x="213.0" y="178.84" width="3.0" height="5.12" fill="#00ffff"/>
<rect x="216.0" y="178.84" width="3.0" height="5.12" fill="#00afff"/>
<rect x="219.0" y="178.84" width="3.0" height="5.12" fill="#0050ff"/>
<rect x="222.0" y="178.84" width="3.0" height="5.12" fill="#0000fb"/>
<rect x="225.0" y="178.84" width="3.0" height="5.12" fill="#0000c7"/>
<rect x="228.0" y="178.84" width="3.0" height="5.12" fill="#0000ab"/>
<rect x="231.0" y="178.84" width="3.0" height="5.12" fill="#00009f"/>
<rect x="234.0" y="178.84" width="3.0" height="5.12" fill="#00009b"/>
<rect x="237.0" y="178.84" width="3.0" height="5.12" fill="#000097"/>
<rect x="180.0" y="183.36" width="3.0" height="5.12" fill="#0000a3"/>
<rect x="183.0" y="183.36" width="3.0" height="5.12" fill="#0000a7"/>
<rect x="186.0" y="183.36" width="3.0" height="5.12" fill="#0000b3"/>
<rect x="189.0" y="183.36" width="3.0" height="5.12" fill="#0000cb"/>
<rect x="192.0" y="183.36" width="3.0" height="5.12" fill="#0000f3"/>
<rect x="195.0" y="183.36" width="3.0" height="5.12" fill="#0040ff"/>
<rect x="198.0" y="183.36" width="3.0" height="5.12" fill="#008fff"/>
<rect x="201.0" y="183.36" width="3.0" height="5.12" fill="#00efff"/>
<rect x="204.0" y="183.36" width="3.0" height="5.12" fill="#30ffcf"/>
<rect x="207.0" y="183.36" width="3.0" height="5.12" fill="#40ffbf"/>
<rect x="210.0" y="183.36" width="3.0" height="5.12" fill="#00ffff"/>
<rect x="213.0" y="183.36" width="3.0" height="5.12" fill="#00afff"/>
<rect x="216.0" y="183.36" width="3.0" height="5.12" fill="#0050ff"/>
<rect x="219.0" y="183.36" width="3.0" height="5.12" fill="#0000f7"/>
<rect x="222.0" y="183.36" width="3.0" height="5.12" fill="#0000c7"/>
<rect x="225.0" y="183.36" width="3.0" height="5.12" fill="#0000ab"/>
<rect x="228.0" y="183.36" width="3.0" height="5.12" fill="#00009f"/>
<rect x="231.0" y="183.36" width="3.0" height="5.12" fill="#00009b"/>
<rect x="234.0" y="183.36" width="3.0" height="5.12" fill="#000097"/>
<rect x="174.0" y="187.89" width="3.0" height="5.12" fill="#0000a3"/>
<rect x="177.0" y="187.89" width="3.0" height="5.12" fill="#0000a7"/>
<rect x="180.0" y="187.89" width="3.0" height="5.12" fill="#0000ab"/>
<rect x="183.0" y="187.89" width="3.0" height="5.12" fill="#0000b7"/>
<rect x="186.0" y="187.89" width="3.0" height="5.12" fill="#0000cf"/>
<rect x="189.0" y="187.89" width="3.0" height="5.12" fill="#0004ff"/>
<rect x="192.0" y="187.89" width="3.0" height="5.12" fill="#0050ff"/>
<rect x="195.0" y="187.89" width="3.0" height="5.12" fill="#00afff"/>
<rect x="198.0" y="187.89" width="3.0" height="5.12" fill="#10ffef"/>
<rect x="201.0" y="187.89" width="6.0" height="5.12" fill="#40ffbf"/>
<rect x="207.0" y="187.89" width="3.0" height="5.12" fill="#10ffef"/>
<rect x="210.0" y="187.89" width="3.0" height="5.12" fill="#00afff"/>
<rect x="213.0" y="187.89" width="3.0" height="5.12" fill="#0040ff"/>
<rect x="216.0" y="187.89" width="3.0" height="5.12" fill="#0000f7"/>
<rect x="219.0" y="187.89" width="3.0" height="5.12" fill="#0000c7"/>
<rect x="222.0" y="187.89" width="3.0" height="5.12" fill="#0000ab"/>
<rect x="225.0" y="187.89" width="3.0" height="5.12" fill="#00009f"/>
<rect x="228.0" y="187.89" width="3.0" height="5.12" fill="#00009b"/>
<rect x="231.0" y="187.89" width="3.0" height="5.12" fill="#000097"/>
<rect x="171.0" y="192.41" width="6.0" height="5.12" fill="#0000a7"/>
<rect x="177.0" y="192.41" width="3.0" height="5.12" fill="#0000ab"/>
<rect x="180.0" y="192.41" width="3.0" height="5.12" fill="#0000bb"/>
<rect x="183.0" y="192.41" width="3.0" height="5.12" fill="#0000d7"/>
<rect x="186.0" y="192.41" width="3.0" height="5.12" fill="#000cff"/>
<rect x="189.0" y="192.41" width="3.0" height="5.12" fill="#0060ff"/>
<rect x="192.0" y="192.41" width="3.0" height="5.12" fill="#00bfff"/>
<rect x="195.0" y="192.41" width="3.0" height="5.12" fill="#20ffdf"/>
<rect x="198.0" y="192.41" width="6.0" height="5.12" fill="#50ffaf"/>
<rect x="204.0" y="192.41" width="3.0" height="5.12" fill="#10ffef"/>
<rect x="207.0" y="192.41" width="3.0" height="5.12" fill="#009fff"/>
<rect x="210.0" y="192.41" width="3.0" height="5.12" fill="#0040ff"/>
<rect x="213.0" y="192.41" width="3.0" height="5.12" fill="#0000f7"/>
<rect x="216.0" y="192.41" width="3.0" height="5.12" fill="#0000c3"/>
<rect x="219.0" y="192.41" width="3.0" height="5.12" fill="#0000ab"/>
<rect x="222.0" y="192.41" width="3.0" height="5.12" fill="#00009f"/>
<rect x="225.0" y="192.41" width="3.0" height="5.12" fill="#00009b"/>
<rect x="228.0" y="192.41" width="3.0" height="5.12" fill="#000097"/>
<rect x="168.0" y="196.94" width="6.0" height="5.12" fill="#0000ab"/>
<rect x="174.0" y="196.94" width="3.0" height="5.12" fill="#0000af"/>
<rect x="177.0" y="196.94" width="3.0" height="5.12" fill="#0000bf"/>
<rect x="180.0" y="196.94" width="3.0" height="5.12" fill="#0000df"/>
<rect x="183.0" y="196.94" width="3.0" height="5.12" fill="#0010ff"/>
<rect x="186.0" y="196.94" width="3.0" height="5.12" fill="#0070ff"/>
<rect x="189.0" y="196.94" width="3.0" height="5.12" fill="#00cfff"/>
<rect x="192.0" y="196.94" width="3.0" height="5.12" fill="#30ffcf"/>
<rect x="195.0" y="196.94" width="3.0" height="5.12" fill="#60ff9f"/>
<rect x="198.0" y="196.94" width="3.0" height="5.12" fill="#50ffaf"/>
<rect x="201.0" y="196.94" width="3.0" height="5.12" fill="#10ffef"/>
<rect x="204.0" y="196.94" width="3.0" height="5.12" fill="#00afff"/>
<rect x="207.0" y="196.94" width="3.0" height="5.12" fill="#0040ff"/>
<rect x="210.0" y="196.94" width="3.0" height="5.12" fill="#0000f7"/>
<rect x="213.0" y="196.94" width="3.0" height="5.12" fill="#0000c3"/>
<rect x="216.0" y="196.94" width="3.0" height="5.12" fill="#0000ab"/>
<rect x="219.0" y="196.94" width="3.0" height="5.12" fill="#00009f"/>
<rect x="222.0" y="196.94" width="3.0" height="5.12" fill="#00009b"/>
<rect x="225.0" y="196.94" width="3.0" height="5.12" fill="#000097"/>
<rect x="165.0" y="201.46" width="6.0" height="5.12" fill="#0000af"/>
<rect x="171.0" y="201.46" width="3.0" height="5.12" fill="#0000b3"/>
<rect x="174.0" y="201.46" width="3.0" height="5.12" fill="#0000c3"/>
<rect x="177.0" y="201.46" width="3.0" height="5.12" fill="#0000e7"/>
<rect x="180.0" y="201.46" width="3.0" height="5.12" fill="#0020ff"/>
<rect x="183.0" y="201.46" width="3.0" height="5.12" fill="#0080ff"/>
<rect x="186.0" y="201.46" width="3.0" height="5.12" fill="#00dfff"/>
<rect x="189.0" y="201.46" width="3.0" height="5.12" fill="#30ffcf"/>
<rect x="192.0" y="201.46" width="6.0" height="5.12" fill="#60ff9f"/>
<rect x="198.0" y="201.46" width="3.0" height="5.12" fill="#10ffef"/>
<rect x="201.0" y="201.46" width="3.0" height="5.12" fill="#00afff"/>
<rect x="204.0" y="201.46" width="3.0" height="5.12" fill="#0050ff"/>
<rect x="207.0" y="201.46" width="3.0" height="5.12" fill="#0000fb"/>
<rect x="210.0" y="201.46" width="3.0" height="5.12" fill="#0000c7"/>
<rect x="213.0" y="201.46" width="3.0" height="5.12" fill="#0000ab"/>
<rect x="216.0" y="201.46" width="3.0" height="5.12" fill="#00009f"/>
<rect x="219.0" y="201.46" width="3.0" height="5.12" fill="#00009b"/>
<rect x="222.0" y="201.46" width="3.0" height="5.12" fill="#000097"/>
<rect x="162.0" y="205.99" width="6.0" height="5.12" fill="#0000b7"/>
<rect x="168.0" y="205.99" width="3.0" height="5.12" fill="#0000bb"/>
<rect x="171.0" y="205.99" width="3.0" height="5.12" fill="#0000cb"/>
<rect x="174.0" y="205.99" width="3.0" height="5.12" fill="#0000ef"/>
<rect x="177.0" y="205.99" width="3.0" height="5.12" fill="#0030ff"/>
<rect x="180.0" y="205.99" width="3.0" height="5.12" fill="#0080ff"/>
<rect x="183.0" y="205.99" width="3.0" height="5.12" fill="#00efff"/>
<rect x="186.0" y="205.99" width="3.0" height="5.12" fill="#40ffbf"/>
<rect x="189.0" y="205.99" width="3.0" height="5.12" fill="#70ff8f"/>
<rect x="192.0" y="205.99" width="3.0" height="5.12" fill="#60ff9f"/>
<rect x="195.0" y="205.99" width="3.0" height="5.12" fill="#20ffdf"/>
<rect x="198.0" y="205.99" width="3.0" height="5.12" fill="#00bfff"/>
<rect x="201.0" y="205.99" width="3.0" height="5.12" fill="#0050ff"/>
<rect x="204.0" y="205.99" width="3.0" height="5.12" fill="#0004ff"/>
<rect x="207.0" y="205.99" width="3.0" height="5.12" fill="#0000cf"/>
<rect x="210.0" y="205.99" width="3.0" height="5.12" fill="#0000af"/>
<rect x="213.0" y="205.99" width="3.0" height="5.12" fill="#00009f"/>
<rect x="216.0" y="205.99" width="3.0" height="5.12" fill="#00009b"/>
<rect x="219.0" y="205.99" width="3.0" height="5.12" fill="#000097"/>
<rect x="159.0" y="210.51" width="6.0" height="5.12" fill="#0000bf"/>
<rect x="165.0" y="210.51" width="3.0" height="5.12" fill="#0000c3"/>
<rect x="168.0" y="210.51" width="3.0" height="5.12" fill="#0000d3"/>
<rect x="171.0" y="210.51" width="3.0" height="5.12" fill="#0000f7"/>
<rect x="174.0" y="210.51" width="3.0" height="5.12" fill="#0030ff"/>
<rect x="177.0" y="210.51" width="3.0" height="5.12" fill="#008fff"/>
<rect x="180.0" y="210.51" width="3.0" height="5.12" fill="#00efff"/>
<rect x="183.0" y="210.51" width="3.0" height="5.12" fill="#50ffaf"/>
<rect x="186.0" y="210.51" width="3.0" height="5.12" fill="#80ff80"/>
<rect x="189.0" y="210.51" width="3.0" height="5.12" fill="#70ff8f"/>
<rect x="192.0" y="210.51" width="3.0" height="5.12" fill="#30ffcf"/>
<rect x="195.0" y="210.51" width="3.0" height="5.12" fill="#00cfff"/>
<rect x="198.0" y="210.51" width="3.0" height="5.12" fill="#0060ff"/>
<rect x="201.0" y="210.51" width="3.0" height="5.12" fill="#0010ff"/>
<rect x="204.0" y="210.51" width="3.0" height="5.12" fill="#0000d3"/>
<rect x="207.0" y="210.51" width="3.0" height="5.12" fill="#0000b3"/>
<rect x="210.0" y="210.51" width="3.0" height="5.12" fill="#0000a3"/>
<rect x="213.0" y="210.51" width="3.0" height="5.12" fill="#00009b"/>
<rect x="216.0" y="210.51" width="3.0" height="5.12" fill="#000097"/>
<rect x="153.0" y="215.04" width="3.0" height="5.12" fill="#0000b7"/>
<rect x="156.0" y="215.04" width="3.0" height="5.12" fill="#0000bf"/>
<rect x="159.0" y="215.04" width="3.0" height="5.12" fill="#0000c3"/>
<rect x="162.0" y="215.04" width="3.0" height="5.12" fill="#0000cb"/>
<rect x="165.0" y="215.04" width="3.0" height="5.12" fill="#0000db"/>
<rect x="168.0" y="215.04" width="3.0" height="5.12" fill="#0004ff"/>
<rect x="171.0" y="215.04" width="3.0" height="5.12" fill="#0040ff"/>
<rect x="174.0" y="215.04" width="3.0" height="5.12" fill="#009fff"/>
<rect x="177.0" y="215.04" width="3.0" height="5.12" fill="#00ffff"/>
<rect x="180.0" y="215.04" width="3.0" height="5.12" fill="#50ffaf"/>
<rect x="183.0" y="215.04" width="3.0" height="5.12" fill="#8fff70"/>
<rect x="186.0" y="215.04" width="3.0" height="5.12" fill="#80ff80"/>
<rect x="189.0" y="215.04" width="3.0" height="5.12" fill="#40ffbf"/>
<rect x="192.0" y="215.04" width="3.0" height="5.12" fill="#00dfff"/>
<rect x="195.0" y="215.04" width="3.0" height="5.12" fill="#0070ff"/>
<rect x="198.0" y="215.04" width="3.0" height="5.12" fill="#0020ff"/>
<rect x="201.0" y="215.04" width="3.0" height="5.12" fill="#0000df"/>
<rect x="204.0" y="215.04" width="3.0" height="5.12" fill="#0000bb"/>
<rect x="207.0" y="215.04" width="3.0" height="5.12" fill="#0000a7"/>
<rect x="210.0" y="215.04" width="3.0" height="5.12" fill="#00009b"/>
<rect x="213.0" y="215.04" width="3.0" height="5.12" fill="#000097"/>
<rect x="150.0" y="219.56" width="3.0" height="5.12" fill="#0000b3"/>
<rect x="153.0" y="219.56" width="3.0" height="5.12" fill="#0000b7"/>
<rect x="156.0" y="219.56" width="3.0" height="5.12" fill="#0000bf"/>
<rect x="159.0" y="219.56" width="3.0" height="5.12" fill="#0000cb"/>
<rect x="162.0" y="219.56" width="3.0" height="5.12" fill="#0000e3"/>
<rect x="165.0" y="219.56" width="3.0" height="5.12" fill="#000cff"/>
<rect x="168.0" y="219.56" width="3.0" height="5.12" fill="#0050ff"/>
<rect x="171.0" y="219.56" width="3.0" height="5.12" fill="#009fff"/>
<rect x="174.0" y="219.56" width="3.0" height="5.12" fill="#10ffef"/>
<rect x="177.0" y="219.56" width="3.0" height="5.12" fill="#70ff8f"/>
<rect x="180.0" y="219.56" width="6.0" height="5.12" fill="#9fff60"/>
<rect x="186.0" y="219.56" width="3.0" height="5.12" fill="#60ff9f"/>
<rect x="189.0" y="219.56" width="3.0" height="5.12" fill="#00ffff"/>
<rect x="192.0" y="219.56" width="3.0" height="5.12" fill="#008fff"/>
<rect x="195.0" y="219.56" width="3.0" height="5.12" fill="#0030ff"/>
<rect x="198.0" y="219.56" width="3.0" height="5.12" fill="#0000eb"/>
<rect x="201.0" y="219.56" width="3.0" height="5.12" fill="#0000c3"/>
<rect x="204.0" y="219.56" width="3.0" height="5.12" fill="#0000ab"/>
<rect x="207.0" y="219.56" width="3.0" height="5.12" fill="#00009f"/>
<rect x="210.0" y="219.56" width="3.0" height="5.12" fill="#00009b"/>
<rect x="213.0" y="219.56" width="3.0" height="5.12" fill="#000097"/>
<rect x="147.0" y="224.09" width="3.0" height="5.12" fill="#0000ab"/>
<rect x="150.0" y="224.09" width="3.0" height="5.12" fill="#0000af"/>
<rect x="153.0" y="224.09" width="3.0" height="5.12" fill="#0000b7"/>
<rect x="156.0" y="224.09" width="3.0" height="5.12" fill="#0000c7"/>
<rect x="159.0" y="224.09" width="3.0" height="5.12" fill="#0000e3"/>
<rect x="162.0" y="224.09" width="3.0" height="5.12" fill="#0010ff"/>
<rect x="165.0" y="224.09" width="3.0" height="5.12" fill="#0050ff"/>
<rect x="168.0" y="224.09" width="3.0" height="5.12" fill="#00afff"/>
<rect x="171.0" y="224.09" width="3.0" height="5.12" fill="#20ffdf"/>
<rect x="174.0" y="224.09" width="3.0" height="5.12" fill="#80ff80"/>
<rect x="177.0" y="224.09" width="3.0" height="5.12" fill="#afff50"/>
<rect x="180.0" y="224.09" width="3.0" height="5.12" fill="#bfff40"/>
<rect x="183.0" y="224.09" width="3.0" height="5.12" fill="#80ff80"/>
<rect x="186.0" y="224.09" width="3.0" height="5.12" fill="#20ffdf"/>
<rect x="189.0" y="224.09" width="3.0" height="5.12" fill="#00afff"/>
<rect x="192.0" y="224.09" width="3.0" height="5.12" fill="#0050ff"/>
<rect x="195.0" y="224.09" width="3.0" height="5.12" fill="#0000fb"/>
<rect x="198.0" y="224.09" width="3.0" height="5.12" fill="#0000cb"/>
<rect x="201.0" y="224.09" width="3.0" height="5.12" fill="#0000af"/>
<rect x="204.0" y="224.09" width="3.0" height="5.12" fill="#0000a3"/>
<rect x="207.0" y="224.09" width="3.0" height="5.12" fill="#00009b"/>
<rect x="210.0" y="224.09" width="3.0" height="5.12" fill="#000097"/>
<rect x="144.0" y="228.61" width="3.0" height="5.12" fill="#0000a3"/>
<rect x="147.0" y="228.61" width="3.0" height="5.12" fill="#0000ab"/>
<rect x="150.0" y="228.61" width="3.0" height="5.12" fill="#0000af"/>
<rect x="153.0" y="228.61" width="3.0" height="5.12" fill="#0000bf"/>
<rect x="156.0" y="228.61" width="3.0" height="5.12" fill="#0000db"/>
<rect x="159.0" y="228.61" width="3.0" height="5.12" fill="#000cff"/>
<rect x="162.0" y="228.61" width="3.0" height="5.12" fill="#0050ff"/>
<rect x="165.0" y="228.61" width="3.0" height="5.12" fill="#00bfff"/>
<rect x="168.0" y="228.61" width="3.0" height="5.12" fill="#30ffcf"/>
<rect x="171.0" y="228.61" width="3.0" height="5.12" fill="#8fff70"/>
<rect x="174.0" y="228.61" width="6.0" height="5.12" fill="#dfff20"/>
<rect x="180.0" y="228.61" width="3.0" height="5.12" fill="#afff50"/>
<rect x="183.0" y="228.61" width="3.0" height="5.12" fill="#50ffaf"/>
<rect x="186.0" y="228.61" width="3.0" height="5.12" fill="#00dfff"/>
<rect x="189.0" y="228.61" width="3.0" height="5.12" fill="#0070ff"/>
<rect x="192.0" y="228.61" width="3.0" height="5.12" fill="#0010ff"/>
<rect x="195.0" y="228.61" width="3.0" height="5.12" fill="#0000db"/>
<rect x="198.0" y="228.61" width="3.0" height="5.12" fill="#0000b7"/>
<rect x="201.0" y="228.61" width="3.0" height="5.12" fill="#0000a7"/>
<rect x="204.0" y="228.61" width="3.0" height="5.12" fill="#00009b"/>
<rect x="207.0" y="228.61" width="3.0" height="5.12" fill="#000097"/>
<rect x="141.0" y="233.13" width="3.0" height="5.12" fill="#00009f"/>
<rect x="144.0" y="233.13" width="3.0" height="5.12" fill="#0000a3"/>
<rect x="147.0" y="233.13" width="3.0" height="5.12" fill="#0000ab"/>
<rect x="150.0" y="233.13" width="3.0" height="5.12" fill="#0000b7"/>
<rect x="153.0" y="233.13" width="3.0" height="5.12" fill="#0000cf"/>
<rect x="156.0" y="233.13" width="3.0" height="5.12" fill="#0000ff"/>
<rect x="159.0" y="233.13" width="3.0" height="5.12" fill="#0050ff"/>
<rect x="162.0" y="233.13" width="3.0" height="5.12" fill="#00bfff"/>
<rect x="165.0" y="233.13" width="3.0" height="5.12" fill="#30ffcf"/>
<rect x="168.0" y="233.13" width="3.0" height="5.12" fill="#afff50"/>
<rect x="171.0" y="233.13" width="3.0" height="5.12" fill="#ffff00"/>
<rect x="174.0" y="233.13" width="3.0" height="5.12" fill="#ffdf00"/>
<rect x="177.0" y="233.13" width="3.0" height="5.12" fill="#efff10"/>
<rect x="180.0" y="233.13" width="3.0" height="5.12" fill="#8fff70"/>
<rect x="183.0" y="233.13" width="3.0" height="5.12" fill="#10ffef"/>
<rect x="186.0" y="233.13" width="3.0" height="5.12" fill="#008fff"/>
<rect x="189.0" y="233.13" width="3.0" height="5.12" fill="#0030ff"/>
<rect x="192.0" y="233.13" width="3.0" height="5.12" fill="#0000eb"/>
<rect x="195.0" y="233.13" width="3.0" height="5.12" fill="#0000bf"/>
<rect x="198.0" y="233.13" width="3.0" height="5.12" fill="#0000ab"/>
<rect x="201.0" y="233.13" width="3.0" height="5.12" fill="#00009f"/>
<rect x="204.0" y="233.13" width="3.0" height="5.12" fill="#00009b"/>
<rect x="207.0" y="233.13" width="3.0" height="5.12" fill="#000097"/>
<rect x="138.0" y="237.66" width="3.0" height="5.12" fill="#00009b"/>
<rect x="141.0" y="237.66" width="3.0" height="5.12" fill="#00009f"/>
<rect x="144.0" y="237.66" width="3.0" height="5.12" fill="#0000a3"/>
<rect x="147.0" y="237.66" width="3.0" height="5.12" fill="#0000af"/>
<rect x="150.0" y="237.66" width="3.0" height="5.12" fill="#0000c7"/>
<rect x="153.0" y="237.66" width="3.0" height="5.12" fill="#0000f3"/>
<rect x="156.0" y="237.66" width="3.0" height="5.12" fill="#0040ff"/>
<rect x="159.0" y="237.66" width="3.0" height="5.12" fill="#00afff"/>
<rect x="162.0" y="237.66" width="3.0" height="5.12" fill="#30ffcf"/>
<rect x="165.0" y="237.66" width="3.0" height="5.12" fill="#bfff40"/>
<rect x="168.0" y="237.66" width="3.0" height="5.12" fill="#ffdf00"/>
<rect x="171.0" y="237.66" width="3.0" height="5.12" fill="#ffaf00"/>
<rect x="174.0" y="237.66" width="3.0" height="5.12" fill="#ffcf00"/>
<rect x="177.0" y="237.66" width="3.0" height="5.12" fill="#cfff30"/>
<rect x="180.0" y="237.66" width="3.0" height="5.12" fill="#50ffaf"/>
<rect x="183.0" y="237.66" width="3.0" height="5.12" fill="#00bfff"/>
<rect x="186.0" y="237.66" width="3.0" height="5.12" fill="#0050ff"/>
<rect x="189.0" y="237.66" width="3.0" height="5.12" fill="#0000ff"/>
<rect x="192.0" y="237.66" width="3.0" height="5.12" fill="#0000cb"/>
<rect x="195.0" y="237.66" width="3.0" height="5.12" fill="#0000af"/>
<rect x="198.0" y="237.66" width="3.0" height="5.12" fill="#0000a3"/>
<rect x="201.0" y="237.66" width="3.0" height="5.12" fill="#00009b"/>
<rect x="204.0" y="237.66" width="3.0" height="5.12" fill="#000097"/>
<rect x="135.0" y="242.18" width="3.0" height="5.12" fill="#000097"/>
<rect x="138.0" y="242.18" width="3.0" height="5.12" fill="#00009b"/>
<rect x="141.0" y="242.18" width="3.0" height="5.12" fill="#0000a3"/>
<rect x="144.0" y="242.18" width="3.0" height="5.12" fill="#0000ab"/>
<rect x="147.0" y="242.18" width="3.0" height="5.12" fill="#0000c3"/>
<rect x="150.0" y="242.18" width="3.0" height="5.12" fill="#0000ef"/>
<rect x="153.0" y="242.18" width="3.0" height="5.12" fill="#0040ff"/>
<rect x="156.0" y="242.18" width="3.0" height="5.12" fill="#009fff"/>
<rect x="159.0" y="242.18" width="3.0" height="5.12" fill="#30ffcf"/>
<rect x="162.0" y="242.18" width="3.0" height="5.12" fill="#bfff40"/>
<rect x="165.0" y="242.18" width="3.0" height="5.12" fill="#ffbf00"/>
<rect x="168.0" y="242.18" width="3.0" height="5.12" fill="#ff8000"/>
<rect x="171.0" y="242.18" width="3.0" height="5.12" fill="#ff8f00"/>
<rect x="174.0" y="242.18" width="3.0" height="5.12" fill="#ffef00"/>
<rect x="177.0" y="242.18" width="3.0" height="5.12" fill="#8fff70"/>
<rect x="180.0" y="242.18" width="3.0" height="5.12" fill="#00ffff"/>
<rect x="183.0" y="242.18" width="3.0" height="5.12" fill="#0070ff"/>
<rect x="186.0" y="242.18" width="3.0" height="5.12" fill="#0010ff"/>
<rect x="189.0" y="242.18" width="3.0" height="5.12" fill="#0000db"/>
<rect x="192.0" y="242.18" width="3.0" height="5.12" fill="#0000b7"/>
<rect x="195.0" y="242.18" width="3.0" height="5.12" fill="#0000a7"/>
<rect x="198.0" y="242.18" width="3.0" height="5.12" fill="#00009f"/>
<rect x="201.0" y="242.18" width="3.0" height="5.12" fill="#00009b"/>
<rect x="204.0" y="242.18" width="3.0" height="5.12" fill="#000097"/>
<rect x="132.0" y="246.71" width="3.0" height="5.12" fill="#000097"/>
<rect x="135.0" y="246.71" width="3.0" height="5.12" fill="#00009b"/>
<rect x="138.0" y="246.71" width="3.0" height="5.12" fill="#00009f"/>
<rect x="141.0" y="246.71" width="3.0" height="5.12" fill="#0000ab"/>
<rect x="144.0" y="246.71" width="3.0" height="5.12" fill="#0000bf"/>
<rect x="147.0" y="246.71" width="3.0" height="5.12" fill="#0000e7"/>
<rect x="150.0" y="246.71" width="3.0" height="5.12" fill="#0030ff"/>
<rect x="153.0" y="246.71" width="3.0" height="5.12" fill="#009fff"/>
<rect x="156.0" y="246.71" width="3.0" height="5.12" fill="#30ffcf"/>
<rect x="159.0" y="246.71" width="3.0" height="5.12" fill="#cfff30"/>
<rect x="162.0" y="246.71" width="3.0" height="5.12" fill="#ff9f00"/>
<rect x="165.0" y="246.71" width="6.0" height="5.12" fill="#ff5000"/>
<rect x="171.0" y="246.71" width="3.0" height="5.12" fill="#ff9f00"/>
<rect x="174.0" y="246.71" width="3.0" height="5.12" fill="#cfff30"/>
<rect x="177.0" y="246.71" width="3.0" height="5.12" fill="#30ffcf"/>
<rect x="180.0" y="246.71" width="3.0" height="5.12" fill="#009fff"/>
<rect x="183.0" y="246.71" width="3.0" height="5.12" fill="#0030ff"/>
<rect x="186.0" y="246.71" width="3.0" height="5.12" fill="#0000eb"/>
<rect x="189.0" y="246.71" width="3.0" height="5.12" fill="#0000c3"/>
<rect x="192.0" y="246.71" width="3.0" height="5.12" fill="#0000ab"/>
<rect x="195.0" y="246.71" width="3.0" height="5.12" fill="#00009f"/>
<rect x="198.0" y="246.71" width="3.0" height="5.12" fill="#00009b"/>
<rect x="201.0" y="246.71" width="3.0" height="5.12" fill="#000097"/>
<rect x="129.0" y="251.23" width="3.0" height="5.12" fill="#000097"/>
<rect x="132.0" y="251.23" width="3.0" height="5.12" fill="#00009b"/>
<rect x="135.0" y="251.23" width="3.0" height="5.12" fill="#00009f"/>
<rect x="138.0" y="251.23" width="3.0" height="5.12" fill="#0000a7"/>
<rect x="141.0" y="251.23" width="3.0" height="5.12" fill="#0000bb"/>
<rect x="144.0" y="251.23" width="3.0" height="5.12" fill="#0000df"/>
<rect x="147.0" y="251.23" width="3.0" height="5.12" fill="#0020ff"/>
<rect x="150.0" y="251.23" width="3.0" height="5.12" fill="#008fff"/>
<rect x="153.0" y="251.23" width="3.0" height="5.12" fill="#10ffef"/>
<rect x="156.0" y="251.23" width="3.0" height="5.12" fill="#bfff40"/>
<rect x="159.0" y="251.23" width="3.0" height="5.12" fill="#ff9f00"/>
<rect x="162.0" y="251.23" width="3.0" height="5.12" fill="#ff3000"/>
<rect x="165.0" y="251.23" width="3.0" height="5.12" fill="#ff1000"/>
<rect x="168.0" y="251.23" width="3.0" height="5.12" fill="#ff5000"/>
<rect x="171.0" y="251.23" width="3.0" height="5.12" fill="#ffcf00"/>
<rect x="174.0" y="251.23" width="3.0" height="5.12" fill="#80ff80"/>
<rect x="177.0" y="251.23" width="3.0" height="5.12" fill="#00dfff"/>
<rect x="180.0" y="251.23" width="3.0" height="5.12" fill="#0060ff"/>
<rect x="183.0" y="251.23" width="3.0" height="5.12" fill="#0008ff"/>
<rect x="186.0" y="251.23" width="3.0" height="5.12" fill="#0000cf"/>
<rect x="189.0" y="251.23" width="3.0" height="5.12" fill="#0000b3"/>
<rect x="192.0" y="251.23" width="3.0" height="5.12" fill="#0000a3"/>
<rect x="195.0" y="251.23" width="3.0" height="5.12" fill="#00009f"/>
<rect x="198.0" y="251.23" width="3.0" height="5.12" fill="#00009b"/>
<rect x="201.0" y="251.23" width="3.0" height="5.12" fill="#000097"/>
<rect x="126.0" y="255.76" width="3.0" height="5.12" fill="#000097"/>
<rect x="129.0" y="255.76" width="3.0" height="5.12" fill="#00009b"/>
<rect x="132.0" y="255.76" width="3.0" height="5.12" fill="#00009f"/>
<rect x="135.0" y="255.76" width="3.0" height="5.12" fill="#0000a3"/>
<rect x="138.0" y="255.76" width="3.0" height="5.12" fill="#0000b3"/>
<rect x="141.0" y="255.76" width="3.0" height="5.12" fill="#0000cf"/>
<rect x="144.0" y="255.76" width="3.0" height="5.12" fill="#0008ff"/>
<rect x="147.0" y="255.76" width="3.0" height="5.12" fill="#0060ff"/>
<rect x="150.0" y="255.76" width="3.0" height="5.12" fill="#00dfff"/>
<rect x="153.0" y="255.76" width="3.0" height="5.12" fill="#8fff70"/>
<rect x="156.0" y="255.76" width="3.0" height="5.12" fill="#ffbf00"/>
<rect x="159.0" y="255.76" width="3.0" height="5.12" fill="#ff3000"/>
<rect x="162.0" y="255.76" width="3.0" height="5.12" fill="#ef0000"/>
<rect x="165.0" y="255.76" width="3.0" height="5.12" fill="#ff0000"/>
<rect x="168.0" y="255.76" width="3.0" height="5.12" fill="#ff7000"/>
<rect x="171.0" y="255.76" width="3.0" height="5.12" fill="#efff10"/>
<rect x="174.0" y="255.76" width="3.0" height="5.12" fill="#40ffbf"/>
<rect x="177.0" y="255.76" width="3.0" height="5.12" fill="#009fff"/>
<rect x="180.0" y="255.76" width="3.0" height="5.12" fill="#0030ff"/>
<rect x="183.0" y="255.76" width="3.0" height="5.12" fill="#0000eb"/>
<rect x="186.0" y="255.76" width="3.0" height="5.12" fill="#0000bf"/>
<rect x="189.0" y="255.76" width="3.0" height="5.12" fill="#0000ab"/>
<rect x="192.0" y="255.76" width="3.0" height="5.12" fill="#00009f"/>
<rect x="195.0" y="255.76" width="3.0" height="5.12" fill="#00009b"/>
<rect x="198.0" y="255.76" width="6.0" height="5.12" fill="#000097"/>
<rect x="123.0" y="260.28" width="6.0" height="5.12" fill="#000097"/>
<rect x="129.0" y="260.28" width="3.0" height="5.12" fill="#00009b"/>
<rect x="132.0" y="260.28" width="3.0" height="5.12" fill="#0000a3"/>
<rect x="135.0" y="260.28" width="3.0" height="5.12" fill="#0000ab"/>
<rect x="138.0" y="260.28" width="3.0" height="5.12" fill="#0000c3"/>
<rect x="141.0" y="260.28" width="3.0" height="5.12" fill="#0000ef"/>
<rect x="144.0" y="260.28" width="3.0" height="5.12" fill="#0040ff"/>
<rect x="147.0" y="260.28" width="3.0" height="5.12" fill="#00afff"/>
<rect x="150.0" y="260.28" width="3.0" height="5.12" fill="#50ffaf"/>
<rect x="153.0" y="260.28" width="3.0" height="5.12" fill="#ffef00"/>
<rect x="156.0" y="260.28" width="3.0" height="5.12" fill="#ff4000"/>
<rect x="159.0" y="260.28" width="3.0" height="5.12" fill="#cf0000"/>
<rect x="162.0" y="260.28" width="3.0" height="5.12" fill="#bf0000"/>
<rect x="165.0" y="260.28" width="3.0" height="5.12" fill="#ff0000"/>
<rect x="168.0" y="260.28" width="3.0" height="5.12" fill="#ff9f00"/>
<rect x="171.0" y="260.28" width="3.0" height="5.12" fill="#afff50"/>
<rect x="174.0" y="260.28" width="3.0" height="5.12" fill="#00ffff"/>
<rect x="177.0" y="260.28" width="3.0" height="5.12" fill="#0070ff"/>
<rect x="180.0" y="260.28" width="3.0" height="5.12" fill="#0010ff"/>
<rect x="183.0" y="260.28" width="3.0" height="5.12" fill="#0000d3"/>
<rect x="186.0" y="260.28" width="3.0" height="5.12" fill="#0000b7"/>
<rect x="189.0" y="260.28" width="3.0" height="5.12" fill="#0000a7"/>
<rect x="192.0" y="260.28" width="3.0" height="5.12" fill="#00009f"/>
<rect x="195.0" y="260.28" width="3.0" height="5.12" fill="#00009b"/>
<rect x="198.0" y="260.28" width="3.0" height="5.12" fill="#000097"/>
<rect x="120.0" y="264.81" width="6.0" height="5.12" fill="#000097"/>
<rect x="126.0" y="264.81" width="3.0" height="5.12" fill="#00009b"/>
<rect x="129.0" y="264.81" width="3.0" height="5.12" fill="#00009f"/>
<rect x="132.0" y="264.81" width="3.0" height="5.12" fill="#0000a7"/>
<rect x="135.0" y="264.81" width="3.0" height="5.12" fill="#0000bb"/>
<rect x="138.0" y="264.81" width="3.0" height="5.12" fill="#0000db"/>
<rect x="141.0" y="264.81" width="3.0" height="5.12" fill="#0020ff"/>
<rect x="144.0" y="264.81" width="3.0" height="5.12" fill="#0080ff"/>
<rect x="147.0" y="264.81" width="3.0" height="5.12" fill="#20ffdf"/>
<rect x="150.0" y="264.81" width="3.0" height="5.12" fill="#dfff20"/>
<rect x="153.0" y="264.81" width="3.0" height="5.12" fill="#ff6000"/>
<rect x="156.0" y="264.81" width="3.0" height="5.12" fill="#cf0000"/>
<rect x="159.0" y="264.81" width="3.0" height="5.12" fill="#800000"/>
<rect x="162.0" y="264.81" width="3.0" height="5.12" fill="#9f0000"/>
<rect x="165.0" y="264.81" width="3.0" height="5.12" fill="#ff2000"/>
<rect x="168.0" y="264.81" width="3.0" height="5.12" fill="#ffdf00"/>
<rect x="171.0" y="264.81" width="3.0" height="5.12" fill="#60ff9f"/>
<rect x="174.0" y="264.81" width="3.0" height="5.12" fill="#00bfff"/>
<rect x="177.0" y="264.81" width="3.0" height="5.12" fill="#0040ff"/>
<rect x="180.0" y="264.81" width="3.0" height="5.12" fill="#0000ef"/>
<rect x="183.0" y="264.81" width="3.0" height="5.12" fill="#0000c3"/>
<rect x="186.0" y="264.81" width="3.0" height="5.12" fill="#0000ab"/>
<rect x="189.0" y="264.81" width="3.0" height="5.12" fill="#0000a3"/>
<rect x="192.0" y="264.81" width="6.0" height="5.12" fill="#00009b"/>
<rect x="198.0" y="264.81" width="3.0" height="5.12" fill="#000097"/>
<rect x="120.0" y="269.33" width="3.0" height="5.12" fill="#000097"/>
<rect x="123.0" y="269.33" width="3.0" height="5.12" fill="#00009b"/>
<rect x="126.0" y="269.33" width="3.0" height="5.12" fill="#00009f"/>
<rect x="129.0" y="269.33" width="3.0" height="5.12" fill="#0000a3"/>
<rect x="132.0" y="269.33" width="3.0" height="5.12" fill="#0000b3"/>
<rect x="135.0" y="269.33" width="3.0" height="5.12" fill="#0000cb"/>
<rect x="138.0" y="269.33" width="3.0" height="5.12" fill="#0004ff"/>
<rect x="141.0" y="269.33" width="3.0" height="5.12" fill="#0060ff"/>
<rect x="144.0" y="269.33" width="3.0" height="5.12" fill="#00dfff"/>
<rect x="147.0" y="269.33" width="3.0" height="5.12" fill="#9fff60"/>
<rect x="150.0" y="269.33" width="3.0" height="5.12" fill="#ff8f00"/>
<rect x="153.0" y="269.33" width="3.0" height="5.12" fill="#cf0000"/>
<rect x="156.0" y="269.33" width="6.0" height="5.12" fill="#800000"/>
<rect x="162.0" y="269.33" width="3.0" height="5.12" fill="#9f0000"/>
<rect x="165.0" y="269.33" width="3.0" height="5.12" fill="#ff5000"/>
<rect x="168.0" y="269.33" width="3.0" height="5.12" fill="#dfff20"/>
<rect x="171.0" y="269.33" width="3.0" height="5.12" fill="#20ffdf"/>
<rect x="174.0" y="269.33" width="3.0" height="5.12" fill="#0080ff"/>
<rect x="177.0" y="269.33" width="3.0" height="5.12" fill="#0020ff"/>
<rect x="180.0" y="269.33" width="3.0" height="5.12" fill="#0000db"/>
<rect x="183.0" y="269.33" width="3.0" height="5.12" fill="#0000b7"/>
<rect x="186.0" y="269.33" width="3.0" height="5.12" fill="#0000a7"/>
<rect x="189.0" y="269.33" width="3.0" height="5.12" fill="#00009f"/>
<rect x="192.0" y="269.33" width="3.0" height="5.12" fill="#00009b"/>
<rect x="195.0" y="269.33" width="6.0" height="5.12" fill="#000097"/>
<rect x="117.0" y="273.86" width="3.0" height="5.12" fill="#000097"/>
<rect x="120.0" y="273.86" width="6.0" height="5.12" fill="#00009b"/>
<rect x="126.0" y="273.86" width="3.0" height="5.12" fill="#0000a3"/>
<rect x="129.0" y="273.86" width="3.0" height="5.12" fill="#0000ab"/>
<rect x="132.0" y="273.86" width="3.0" height="5.12" fill="#0000bf"/>
<rect x="135.0" y="273.86" width="3.0" height="5.12" fill="#0000eb"/>
<rect x="138.0" y="273.86" width="3.0" height="5.12" fill="#0030ff"/>
<rect x="141.0" y="273.86" width="3.0" height="5.12" fill="#00afff"/>
<rect x="144.0" y="273.86" width="3.0" height="5.12" fill="#60ff9f"/>
<rect x="147.0" y="273.86" width="3.0" height="5.12" fill="#ffcf00"/>
<rect x="150.0" y="273.86" width="3.0" height="5.12" fill="#ff0000"/>
<rect x="153.0" y="273.86" width="9.0" height="5.12" fill="#800000"/>
<rect x="162.0" y="273.86" width="3.0" height="5.12" fill="#bf0000"/>
<rect x="165.0" y="273.86" width="3.0" height="5.12" fill="#ff8f00"/>
<rect x="168.0" y="273.86" width="3.0" height="5.12" fill="#9fff60"/>
<rect x="171.0" y="273.86" width="3.0" height="5.12" fill="#00dfff"/>
<rect x="174.0" y="273.86" width="3.0" height="5.12" fill="#0050ff"/>
<rect x="177.0" y="273.86" width="3.0" height="5.12" fill="#0000fb"/>
<rect x="180.0" y="273.86" width="3.0" height="5.12" fill="#0000cb"/>
<rect x="183.0" y="273.86" width="3.0" height="5.12" fill="#0000af"/>
<rect x="186.0" y="273.86" width="3.0" height="5.12" fill="#0000a3"/>
<rect x="189.0" y="273.86" width="3.0" height="5.12" fill="#00009f"/>
<rect x="192.0" y="273.86" width="3.0" height="5.12" fill="#00009b"/>
<rect x="195.0" y="273.86" width="3.0" height="5.12" fill="#000097"/>
<rect x="114.0" y="278.38" width="6.0" height="5.12" fill="#000097"/>
<rect x="120.0" y="278.38" width="3.0" height="5.12" fill="#00009b"/>
<rect x="123.0" y="278.38" width="3.0" height="5.12" fill="#00009f"/>
<rect x="126.0" y="278.38" width="3.0" height="5.12" fill="#0000a7"/>
<rect x="129.0" y="278.38" width="3.0" height="5.12" fill="#0000b7"/>
<rect x="132.0" y="278.38" width="3.0" height="5.12" fill="#0000d3"/>
<rect x="135.0" y="278.38" width="3.0" height="5.12" fill="#0010ff"/>
<rect x="138.0" y="278.38" width="3.0" height="5.12" fill="#0070ff"/>
<rect x="141.0" y="278.38" width="3.0" height="5.12" fill="#10ffef"/>
<rect x="144.0" y="278.38" width="3.0" height="5.12" fill="#dfff20"/>
<rect x="147.0" y="278.38" width="3.0" height="5.12" fill="#ff3000"/>
<rect x="150.0" y="278.38" width="12.0" height="5.12" fill="#800000"/>
<rect x="162.0" y="278.38" width="3.0" height="5.12" fill="#df0000"/>
<rect x="165.0" y="278.38" width="3.0" height="5.12" fill="#ffcf00"/>
<rect x="168.0" y="278.38" width="3.0" height="5.12" fill="#60ff9f"/>
<rect x="171.0" y="278.38" width="3.0" height="5.12" fill="#009fff"/>
<rect x="174.0" y="278.38" width="3.0" height="5.12" fill="#0030ff"/>
<rect x="177.0" y="278.38" width="3.0" height="5.12" fill="#0000e3"/>
<rect x="180.0" y="278.38" width="3.0" height="5.12" fill="#0000bf"/>
<rect x="183.0" y="278.38" width="3.0" height="5.12" fill="#0000ab"/>
<rect x="186.0" y="278.38" width="3.0" height="5.12" fill="#0000a3"/>
<rect x="189.0" y="278.38" width="6.0" height="5.12" fill="#00009b"/>
<rect x="195.0" y="278.38" width="3.0" height="5.12" fill="#000097"/>
<rect x="111.0" y="282.90" width="6.0" height="5.12" fill="#000097"/>
<rect x="117.0" y="282.90" width="3.0" height="5.12" fill="#00009b"/>
<rect x="120.0" y="282.90" width="3.0" height="5.12" fill="#00009f"/>
<rect x="123.0" y="282.90" width="3.0" height="5.12" fill="#0000a3"/>
<rect x="126.0" y="282.90" width="3.0" height="5.12" fill="#0000af"/>
<rect x="129.0" y="282.90" width="3.0" height="5.12" fill="#0000c3"/>
<rect x="132.0" y="282.90" width="3.0" height="5.12" fill="#0000ef"/>
<rect x="135.0" y="282.90" width="3.0" height="5.12" fill="#0040ff"/>
<rect x="138.0" y="282.90" width="3.0" height="5.12" fill="#00cfff"/>
<rect x="141.0" y="282.90" width="3.0" height="5.12" fill="#9fff60"/>
<rect x="144.0" y="282.90" width="3.0" height="5.12" fill="#ff5000"/>
<rect x="147.0" y="282.90" width="15.0" height="5.12" fill="#800000"/>
<rect x="162.0" y="282.90" width="3.0" height="5.12" fill="#ff0000"/>
<rect x="165.0" y="282.90" width="3.0" height="5.12" fill="#efff10"/>
<rect x="168.0" y="282.90" width="3.0" height="5.12" fill="#10ffef"/>
<rect x="171.0" y="282.90" width="3.0" height="5.12" fill="#0060ff"/>
<rect x="174.0" y="282.90" width="3.0" height="5.12" fill="#0004ff"/>
<rect x="177.0" y="282.90" width="3.0" height="5.12" fill="#0000cb"/>
<rect x="180.0" y="282.90" width="3.0" height="5.12" fill="#0000b3"/>
<rect x="183.0" y="282.90" width="3.0" height="5.12" fill="#0000a7"/>
<rect x="186.0" y="282.90" width="3.0" height="5.12" fill="#00009f"/>
<rect x="189.0" y="282.90" width="6.0" height="5.12" fill="#00009b"/>
<rect x="195.0" y="282.90" width="3.0" height="5.12" fill="#000097"/>
<rect x="108.0" y="287.43" width="6.0" height="5.12" fill="#000097"/>
<rect x="114.0" y="287.43" width="3.0" height="5.12" fill="#00009b"/>
<rect x="117.0" y="287.43" width="3.0" height="5.12" fill="#00009f"/>
<rect x="120.0" y="287.43" width="3.0" height="5.12" fill="#0000a3"/>
<rect x="123.0" y="287.43" width="3.0" height="5.12" fill="#0000a7"/>
<rect x="126.0" y="287.43" width="3.0" height="5.12" fill="#0000b7"/>
<rect x="129.0" y="287.43" width="3.0" height="5.12" fill="#0000d3"/>
<rect x="132.0" y="287.43" width="3.0" height="5.12" fill="#0010ff"/>
<rect x="135.0" y="287.43" width="3.0" height="5.12" fill="#0080ff"/>
<rect x="138.0" y="287.43" width="3.0" height="5.12" fill="#40ffbf"/>
<rect x="141.0" y="287.43" width="3.0" height="5.12" fill="#ffaf00"/>
<rect x="144.0" y="287.43" width="18.0" height="5.12" fill="#800000"/>
<rect x="162.0" y="287.43" width="3.0" height="5.12" fill="#ff5000"/>
<rect x="165.0" y="287.43" width="3.0" height="5.12" fill="#8fff70"/>
<rect x="168.0" y="287.43" width="3.0" height="5.12" fill="#00afff"/>
<rect x="171.0" y="287.43" width="3.0" height="5.12" fill="#0030ff"/>
<rect x="174.0" y="287.43" width="3.0" height="5.12" fill="#0000e3"/>
<rect x="177.0" y="287.43" width="3.0" height="5.12" fill="#0000bb"/>
<rect x="180.0" y="287.43" width="3.0" height="5.12" fill="#0000ab"/>
<rect x="183.0" y="287.43" width="3.0" height="5.12" fill="#0000a3"/>
<rect x="186.0" y="287.43" width="3.0" height="5.12" fill="#00009f"/>
<rect x="189.0" y="287.43" width="6.0" height="5.12" fill="#00009b"/>
<rect x="195.0" y="287.43" width="3.0" height="5.12" fill="#000097"/>
<rect x="108.0" y="291.95" width="3.0" height="5.12" fill="#000097"/>
<rect x="111.0" y="291.95" width="3.0" height="5.12" fill="#00009b"/>
<rect x="114.0" y="291.95" width="6.0" height="5.12" fill="#00009f"/>
<rect x="120.0" y="291.95" width="3.0" height="5.12" fill="#0000a7"/>
<rect x="123.0" y="291.95" width="3.0" height="5.12" fill="#0000af"/>
<rect x="126.0" y="291.95" width="3.0" height="5.12" fill="#0000bf"/>
<rect x="129.0" y="291.95" width="3.0" height="5.12" fill="#0000eb"/>
<rect x="132.0" y="291.95" width="3.0" height="5.12" fill="#0040ff"/>
<rect x="135.0" y="291.95" width="3.0" height="5.12" fill="#00dfff"/>
<rect x="138.0" y="291.95" width="3.0" height="5.12" fill="#cfff30"/>
<rect x="141.0" y="291.95" width="3.0" height="5.12" fill="#df0000"/>
<rect x="144.0" y="291.95" width="18.0" height="5.12" fill="#800000"/>
<rect x="162.0" y="291.95" width="3.0" height="5.12" fill="#ffbf00"/>
<rect x="165.0" y="291.95" width="3.0" height="5.12" fill="#20ffdf"/>
<rect x="168.0" y="291.95" width="3.0" height="5.12" fill="#0070ff"/>
<rect x="171.0" y="291.95" width="3.0" height="5.12" fill="#0000ff"/>
<rect x="174.0" y="291.95" width="3.0" height="5.12" fill="#0000cb"/>
<rect x="177.0" y="291.95" width="3.0" height="5.12" fill="#0000b3"/>
<rect x="180.0" y="291.95" width="3.0" height="5.12" fill="#0000a7"/>
<rect x="183.0" y="291.95" width="3.0" height="5.12" fill="#0000a3"/>
<rect x="186.0" y="291.95" width="3.0" height="5.12" fill="#00009f"/>
<rect x="189.0" y="291.95" width="3.0" height="5.12" fill="#00009b"/>
<rect x="192.0" y="291.95" width="6.0" height="5.12" fill="#000097"/>
<rect x="105.0" y="296.48" width="3.0" height="5.12" fill="#000097"/>
<rect x="108.0" y="296.48" width="6.0" height="5.12" fill="#00009b"/>
<rect x="114.0" y="296.48" width="3.0" height="5.12" fill="#00009f"/>
<rect x="117.0" y="296.48" width="3.0" height="5.12" fill="#0000a3"/>
<rect x="120.0" y="296.48" width="3.0" height="5.12" fill="#0000ab"/>
<rect x="123.0" y="296.48" width="3.0" height="5.12" fill="#0000b7"/>
<rect x="126.0" y="296.48" width="3.0" height="5.12" fill="#0000cf"/>
<rect x="129.0" y="296.48" width="3.0" height="5.12" fill="#0008ff"/>
<rect x="132.0" y="296.48" width="3.0" height="5.12" fill="#0080ff"/>
<rect x="135.0" y="296.48" width="3.0" height="5.12" fill="#50ffaf"/>
<rect x="138.0" y="296.48" width="3.0" height="5.12" fill="#ff7000"/>
<rect x="141.0" y="296.48" width="18.0" height="5.12" fill="#800000"/>
<rect x="159.0" y="296.48" width="3.0" height="5.12" fill="#cf0000"/>
<rect x="162.0" y="296.48" width="3.0" height="5.12" fill="#cfff30"/>
<rect x="165.0" y="296.48" width="3.0" height="5.12" fill="#00bfff"/>
<rect x="168.0" y="296.48" width="3.0" height="5.12" fill="#0030ff"/>
<rect x="171.0" y="296.48" width="3.0" height="5.12" fill="#0000df"/>
<rect x="174.0" y="296.48" width="3.0" height="5.12" fill="#0000bf"/>
<rect x="177.0" y="296.48" width="3.0" height="5.12" fill="#0000af"/>
<rect x="180.0" y="296.48" width="3.0" height="5.12" fill="#0000a7"/>
<rect x="183.0" y="296.48" width="3.0" height="5.12" fill="#0000a3"/>
<rect x="186.0" y="296.48" width="3.0" height="5.12" fill="#00009f"/>
<rect x="189.0" y="296.48" width="3.0" height="5.12" fill="#00009b"/>
<rect x="192.0" y="296.48" width="6.0" height="5.12" fill="#000097"/>
<rect x="102.0" y="301.00" width="3.0" height="5.12" fill="#000097"/>
<rect x="105.0" y="301.00" width="6.0" height="5.12" fill="#00009b"/>
<rect x="111.0" y="301.00" width="3.0" height="5.12" fill="#00009f"/>
<rect x="114.0" y="301.00" width="3.0" height="5.12" fill="#0000a3"/>
<rect x="117.0" y="301.00" width="3.0" height="5.12" fill="#0000a7"/>
<rect x="120.0" y="301.00" width="3.0" height="5.12" fill="#0000af"/>
<rect x="123.0" y="301.00" width="3.0" height="5.12" fill="#0000bf"/>
<rect x="126.0" y="301.00" width="3.0" height="5.12" fill="#0000e7"/>
<rect x="129.0" y="301.00" width="3.0" height="5.12" fill="#0040ff"/>
<rect x="132.0" y="301.00" width="3.0" height="5.12" fill="#00dfff"/>
<rect x="135.0" y="301.00" width="3.0" height="5.12" fill="#efff10"/>
<rect x="138.0" y="301.00" width="21.0" height="5.12" fill="#800000"/>
<rect x="159.0" y="301.00" width="3.0" height="5.12" fill="#ff2000"/>
<rect x="162.0" y="301.00" width="3.0" height="5.12" fill="#70ff8f"/>
<rect x="165.0" y="301.00" width="3.0" height="5.12" fill="#008fff"/>
<rect x="168.0" y="301.00" width="3.0" height="5.12" fill="#0010ff"/>
<rect x="171.0" y="301.00" width="3.0" height="5.12" fill="#0000d3"/>
<rect x="174.0" y="301.00" width="3.0" height="5.12" fill="#0000b7"/>
<rect x="177.0" y="301.00" width="3.0" height="5.12" fill="#0000ab"/>
<rect x="180.0" y="301.00" width="3.0" height="5.12" fill="#0000a7"/>
<rect x="183.0" y="301.00" width="3.0" height="5.12" fill="#0000a3"/>
<rect x="186.0" y="301.00" width="3.0" height="5.12" fill="#00009f"/>
<rect x="189.0" y="301.00" width="3.0" height="5.12" fill="#00009b"/>
<rect x="192.0" y="301.00" width="6.0" height="5.12" fill="#000097"/>
<rect x="102.0" y="305.53" width="3.0" height="5.12" fill="#000097"/>
<rect x="105.0" y="305.53" width="3.0" height="5.12" fill="#00009b"/>
<rect x="108.0" y="305.53" width="6.0" height="5.12" fill="#00009f"/>
<rect x="114.0" y="305.53" width="3.0" height="5.12" fill="#0000a7"/>
<rect x="117.0" y="305.53" width="3.0" height="5.12" fill="#0000ab"/>
<rect x="120.0" y="305.53" width="3.0" height="5.12" fill="#0000b7"/>
<rect x="123.0" y="305.53" width="3.0" height="5.12" fill="#0000cf"/>
<rect x="126.0" y="305.53" width="3.0" height="5.12" fill="#0004ff"/>
<rect x="129.0" y="305.53" width="3.0" height="5.12" fill="#0080ff"/>
<rect x="132.0" y="305.53" width="3.0" height="5.12" fill="#60ff9f"/>
<rect x="135.0" y="305.53" width="3.0" height="5.12" fill="#ff3000"/>
<rect x="138.0" y="305.53" width="21.0" height="5.12" fill="#800000"/>
<rect x="159.0" y="305.53" width="3.0" height="5.12" fill="#ff7000"/>
<rect x="162.0" y="305.53" width="3.0" height="5.12" fill="#30ffcf"/>
<rect x="165.0" y="305.53" width="3.0" height="5.12" fill="#0060ff"/>
<rect x="168.0" y="305.53" width="3.0" height="5.12" fill="#0000f7"/>
<rect x="171.0" y="305.53" width="3.0" height="5.12" fill="#0000c7"/>
<rect x="174.0" y="305.53" width="3.0" height="5.12" fill="#0000b3"/>
<rect x="177.0" y="305.53" width="3.0" height="5.12" fill="#0000ab"/>
<rect x="180.0" y="305.53" width="3.0" height="5.12" fill="#0000a3"/>
<rect x="183.0" y="305.53" width="3.0" height="5.12" fill="#00009f"/>
<rect x="186.0" y="305.53" width="6.0" height="5.12" fill="#00009b"/>
<rect x="192.0" y="305.53" width="3.0" height="5.12" fill="#000097"/>
<rect x="99.0" y="310.05" width="6.0" height="5.12" fill="#000097"/>
<rect x="105.0" y="310.05" width="3.0" height="5.12" fill="#00009b"/>
<rect x="108.0" y="310.05" width="3.0" height="5.12" fill="#00009f"/>
<rect x="111.0" y="310.05" width="3.0" height="5.12" fill="#0000a3"/>
<rect x="114.0" y="310.05" width="3.0" height="5.12" fill="#0000a7"/>
<rect x="117.0" y="310.05" width="3.0" height="5.12" fill="#0000af"/>
<rect x="120.0" y="310.05" width="3.0" height="5.12" fill="#0000bf"/>
<rect x="123.0" y="310.05" width="3.0" height="5.12" fill="#0000df"/>
<rect x="126.0" y="310.05" width="3.0" height="5.12" fill="#0030ff"/>
<rect x="129.0" y="310.05" width="3.0" height="5.12" fill="#00dfff"/>
<rect x="132.0" y="310.05" width="3.0" height="5.12" fill="#ffef00"/>
<rect x="135.0" y="310.05" width="24.0" height="5.12" fill="#800000"/>
<rect x="159.0" y="310.05" width="3.0" height="5.12" fill="#ffbf00"/>
<rect x="162.0" y="310.05" width="3.0" height="5.12" fill="#00efff"/>
<rect x="165.0" y="310.05" width="3.0" height="5.12" fill="#0040ff"/>
<rect x="168.0" y="310.05" width="3.0" height="5.12" fill="#0000e7"/>
<rect x="171.0" y="310.05" width="3.0" height="5.12" fill="#0000bf"/>
<rect x="174.0" y="310.05" width="3.0" height="5.12" fill="#0000af"/>
<rect x="177.0" y="310.05" width="3.0" height="5.12" fill="#0000a7"/>
<rect x="180.0" y="310.05" width="3.0" height="5.12" fill="#0000a3"/>
<rect x="183.0" y="310.05" width="3.0" height="5.12" fill="#00009f"/>
<rect x="186.0" y="310.05" width="6.0" height="5.12" fill="#00009b"/>
<rect x="192.0" y="310.05" width="3.0" height="5.12" fill="#000097"/>
<rect x="99.0" y="314.58" width="3.0" height="5.12" fill="#000097"/>
<rect x="102.0" y="314.58" width="6.0" height="5.12" fill="#00009b"/>
<rect x="108.0" y="314.58" width="3.0" height="5.12" fill="#00009f"/>
<rect x="111.0" y="314.58" width="3.0" height="5.12" fill="#0000a3"/>
<rect x="114.0" y="314.58" width="3.0" height="5.12" fill="#0000ab"/>
<rect x="117.0" y="314.58" width="3.0" height="5.12" fill="#0000b3"/>
<rect x="120.0" y="314.58" width="3.0" height="5.12" fill="#0000c7"/>
<rect x="123.0" y="314.58" width="3.0" height="5.12" fill="#0000fb"/>
<rect x="126.0" y="314.58" width="3.0" height="5.12" fill="#0070ff"/>
<rect x="129.0" y="314.58" width="3.0" height="5.12" fill="#60ff9f"/>
<rect x="132.0" y="314.58" width="3.0" height="5.12" fill="#ff1000"/>
<rect x="135.0" y="314.58" width="24.0" height="5.12" fill="#800000"/>
<rect x="159.0" y="314.58" width="3.0" height="5.12" fill="#efff10"/>
<rect x="162.0" y="314.58" width="3.0" height="5.12" fill="#00bfff"/>
<rect x="165.0" y="314.58" width="3.0" height="5.12" fill="#0020ff"/>
<rect x="168.0" y="314.58" width="3.0" height="5.12" fill="#0000d7"/>
<rect x="171.0" y="314.58" width="3.0" height="5.12" fill="#0000bb"/>
<rect x="174.0" y="314.58" width="3.0" height="5.12" fill="#0000ab"/>
<rect x="177.0" y="314.58" width="3.0" height="5.12" fill="#0000a7"/>
<rect x="180.0" y="314.58" width="3.0" height="5.12" fill="#0000a3"/>
<rect x="183.0" y="314.58" width="3.0" height="5.12" fill="#00009f"/>
<rect x="186.0" y="314.58" width="3.0" height="5.12" fill="#00009b"/>
<rect x="189.0" y="314.58" width="3.0" height="5.12" fill="#000097"/>
<rect x="99.0" y="319.10" width="3.0" height="5.12" fill="#000097"/>
<rect x="102.0" y="319.10" width="3.0" height="5.12" fill="#00009b"/>
<rect x="105.0" y="319.10" width="3.0" height="5.12" fill="#00009f"/>
<rect x="108.0" y="319.10" width="3.0" height="5.12" fill="#0000a3"/>
<rect x="111.0" y="319.10" width="3.0" height="5.12" fill="#0000a7"/>
<rect x="114.0" y="319.10" width="3.0" height="5.12" fill="#0000ab"/>
<rect x="117.0" y="319.10" width="3.0" height="5.12" fill="#0000bb"/>
<rect x="120.0" y="319.10" width="3.0" height="5.12" fill="#0000db"/>
<rect x="123.0" y="319.10" width="3.0" height="5.12" fill="#0030ff"/>
<rect x="126.0" y="319.10" width="3.0" height="5.12" fill="#00dfff"/>
<rect x="129.0" y="319.10" width="3.0" height="5.12" fill="#ffbf00"/>
<rect x="132.0" y="319.10" width="24.0" height="5.12" fill="#800000"/>
<rect x="156.0" y="319.10" width="3.0" height="5.12" fill="#af0000"/>
<rect x="159.0" y="319.10" width="3.0" height="5.12" fill="#8fff70"/>
<rect x="162.0" y="319.10" width="3.0" height="5.12" fill="#0080ff"/>
<rect x="165.0" y="319.10" width="3.0" height="5.12" fill="#0004ff"/>
<rect x="168.0" y="319.10" width="3.0" height="5.12" fill="#0000cb"/>
<rect x="171.0" y="319.10" width="3.0" height="5.12" fill="#0000b3"/>
<rect x="174.0" y="319.10" width="3.0" height="5.12" fill="#0000ab"/>
<rect x="177.0" y="319.10" width="3.0" height="5.12" fill="#0000a3"/>
<rect x="180.0" y="319.10" width="3.0" height="5.12" fill="#00009f"/>
<rect x="183.0" y="319.10" width="6.0" height="5.12" fill="#00009b"/>
<rect x="189.0" y="319.10" width="3.0" height="5.12" fill="#000097"/>
<rect x="96.0" y="323.63" width="3.0" height="5.12" fill="#000097"/>
<rect x="99.0" y="323.63" width="6.0" height="5.12" fill="#00009b"/>
<rect x="105.0" y="323.63" width="3.0" height="5.12" fill="#00009f"/>
<rect x="108.0" y="323.63" width="3.0" height="5.12" fill="#0000a3"/>
<rect x="111.0" y="323.63" width="3.0" height="5.12" fill="#0000a7"/>
<rect x="114.0" y="323.63" width="3.0" height="5.12" fill="#0000b3"/>
<rect x="117.0" y="323.63" width="3.0" height="5.12" fill="#0000c7"/>
<rect x="120.0" y="323.63" width="3.0" height="5.12" fill="#0000ff"/>
<rect x="123.0" y="323.63" width="3.0" height="5.12" fill="#0080ff"/>
<rect x="126.0" y="323.63" width="3.0" height="5.12" fill="#8fff70"/>
<rect x="129.0" y="323.63" width="27.0" height="5.12" fill="#800000"/>
<rect x="156.0" y="323.63" width="3.0" height="5.12" fill="#ff3000"/>
<rect x="159.0" y="323.63" width="3.0" height="5.12" fill="#30ffcf"/>
<rect x="162.0" y="323.63" width="3.0" height="5.12" fill="#0050ff"/>
<rect x="165.0" y="323.63" width="3.0" height="5.12" fill="#0000e7"/>
<rect x="168.0" y="323.63" width="3.0" height="5.12" fill="#0000bf"/>
<rect x="171.0" y="323.63" width="3.0" height="5.12" fill="#0000af"/>
<rect x="174.0" y="323.63" width="3.0" height="5.12" fill="#0000a7"/>
<rect x="177.0" y="323.63" width="3.0" height="5.12" fill="#0000a3"/>
<rect x="180.0" y="323.63" width="3.0" height="5.12" fill="#00009f"/>
<rect x="183.0" y="323.63" width="3.0" height="5.12" fill="#00009b"/>
<rect x="186.0" y="323.63" width="6.0" height="5.12" fill="#000097"/>
<rect x="96.0" y="328.15" width="3.0" height="5.12" fill="#000097"/>
<rect x="99.0" y="328.15" width="3.0" height="5.12" fill="#00009b"/>
<rect x="102.0" y="328.15" width="6.0" height="5.12" fill="#00009f"/>
<rect x="108.0" y="328.15" width="3.0" height="5.12" fill="#0000a7"/>
<rect x="111.0" y="328.15" width="3.0" height="5.12" fill="#0000ab"/>
<rect x="114.0" y="328.15" width="3.0" height="5.12" fill="#0000bb"/>
<rect x="117.0" y="328.15" width="3.0" height="5.12" fill="#0000df"/>
<rect x="120.0" y="328.15" width="3.0" height="5.12" fill="#0030ff"/>
<rect x="123.0" y="328.15" width="3.0" height="5.12" fill="#00ffff"/>
<rect x="126.0" y="328.15" width="3.0" height="5.12" fill="#ff6000"/>
<rect x="129.0" y="328.15" width="27.0" height="5.12" fill="#800000"/>
<rect x="156.0" y="328.15" width="3.0" height="5.12" fill="#ff9f00"/>
<rect x="159.0" y="328.15" width="3.0" height="5.12" fill="#00dfff"/>
<rect x="162.0" y="328.15" width="3.0" height="5.12" fill="#0020ff"/>
<rect x="165.0" y="328.15" width="3.0" height="5.12" fill="#0000d7"/>
<rect x="168.0" y="328.15" width="3.0" height="5.12" fill="#0000b7"/>
<rect x="171.0" y="328.15" width="3.0" height="5.12" fill="#0000ab"/>
<rect x="174.0" y="328.15" width="3.0" height="5.12" fill="#0000a3"/>
<rect x="177.0" y="328.15" width="3.0" height="5.12" fill="#00009f"/>
<rect x="180.0" y="328.15" width="6.0" height="5.12" fill="#00009b"/>
<rect x="186.0" y="328.15" width="3.0" height="5.12" fill="#000097"/>
<rect x="93.0" y="332.68" width="3.0" height="5.12" fill="#000097"/>
<rect x="96.0" y="332.68" width="6.0" height="5.12" fill="#00009b"/>
<rect x="102.0" y="332.68" width="3.0" height="5.12" fill="#00009f"/>
<rect x="105.0" y="332.68" width="3.0" height="5.12" fill="#0000a3"/>
<rect x="108.0" y="332.68" width="3.0" height="5.12" fill="#0000a7"/>
<rect x="111.0" y="332.68" width="3.0" height="5.12" fill="#0000b3"/>
<rect x="114.0" y="332.68" width="3.0" height="5.12" fill="#0000c7"/>
<rect x="117.0" y="332.68" width="3.0" height="5.12" fill="#0004ff"/>
<rect x="120.0" y="332.68" width="3.0" height="5.12" fill="#008fff"/>
<rect x="123.0" y="332.68" width="3.0" height="5.12" fill="#cfff30"/>
<rect x="126.0" y="332.68" width="30.0" height="5.12" fill="#800000"/>
<rect x="156.0" y="332.68" width="3.0" height="5.12" fill="#dfff20"/>
<rect x="159.0" y="332.68" width="3.0" height="5.12" fill="#009fff"/>
<rect x="162.0" y="332.68" width="3.0" height="5.12" fill="#0004ff"/>
<rect x="165.0" y="332.68" width="3.0" height="5.12" fill="#0000c7"/>
<rect x="168.0" y="332.68" width="3.0" height="5.12" fill="#0000b3"/>
<rect x="171.0" y="332.68" width="3.0" height="5.12" fill="#0000a7"/>
<rect x="174.0" y="332.68" width="3.0" height="5.12" fill="#0000a3"/>
<rect x="177.0" y="332.68" width="3.0" height="5.12" fill="#00009f"/>
<rect x="180.0" y="332.68" width="6.0" height="5.12" fill="#00009b"/>
<rect x="186.0" y="332.68" width="3.0" height="5.12" fill="#000097"/>
</g></g>
<g clip-path="url(#cpB)">
<rect x="71.1" y="336.2" width="523.4" height="283.3" fill="#000091"/>
<g filter="url(#hb)">
<rect x="107.8" y="340.9" width="8.6" height="12.7" fill="#000099"/>
<rect x="115.8" y="340.9" width="8.6" height="12.7" fill="#0000ad"/>
<rect x="123.8" y="340.9" width="8.6" height="12.7" fill="#0000b9"/>
<rect x="131.8" y="340.9" width="8.6" height="12.7" fill="#0000b1"/>
<rect x="139.8" y="340.9" width="8.6" height="12.7" fill="#0000a9"/>
<rect x="147.8" y="340.9" width="72.6" height="12.7" fill="#0000a5"/>
<rect x="219.8" y="340.9" width="8.6" height="12.7" fill="#00009d"/>
<rect x="227.8" y="340.9" width="8.6" height="12.7" fill="#000095"/>
<rect x="235.8" y="340.9" width="8.6" height="12.7" fill="#0000a1"/>
<rect x="243.8" y="340.9" width="8.6" height="12.7" fill="#0000a9"/>
<rect x="251.8" y="340.9" width="224.6" height="12.7" fill="#0000ad"/>
<rect x="475.8" y="340.9" width="24.6" height="12.7" fill="#0000b1"/>
<rect x="499.8" y="340.9" width="16.6" height="12.7" fill="#0000b5"/>
<rect x="515.8" y="340.9" width="8.6" height="12.7" fill="#0000b9"/>
<rect x="523.8" y="340.9" width="8.6" height="12.7" fill="#0000a5"/>
<rect x="531.8" y="340.9" width="8.6" height="12.7" fill="#0000ad"/>
<rect x="539.8" y="340.9" width="8.6" height="12.7" fill="#000099"/>
<rect x="547.8" y="340.9" width="32.6" height="12.7" fill="#000095"/>
<rect x="107.8" y="353.0" width="8.6" height="12.7" fill="#000099"/>
<rect x="115.8" y="353.0" width="8.6" height="12.7" fill="#0000a5"/>
<rect x="123.8" y="353.0" width="8.6" height="12.7" fill="#0000b9"/>
<rect x="131.8" y="353.0" width="8.6" height="12.7" fill="#0000b1"/>
<rect x="139.8" y="353.0" width="8.6" height="12.7" fill="#0000a9"/>
<rect x="147.8" y="353.0" width="64.6" height="12.7" fill="#0000a5"/>
<rect x="211.8" y="353.0" width="8.6" height="12.7" fill="#0000a1"/>
<rect x="219.8" y="353.0" width="8.6" height="12.7" fill="#000099"/>
<rect x="227.8" y="353.0" width="8.6" height="12.7" fill="#00009d"/>
<rect x="235.8" y="353.0" width="8.6" height="12.7" fill="#0000a9"/>
<rect x="243.8" y="353.0" width="200.6" height="12.7" fill="#0000ad"/>
<rect x="443.8" y="353.0" width="24.6" height="12.7" fill="#0000b1"/>
<rect x="467.8" y="353.0" width="16.6" height="12.7" fill="#0000b5"/>
<rect x="483.8" y="353.0" width="8.6" height="12.7" fill="#0000b9"/>
<rect x="491.8" y="353.0" width="8.6" height="12.7" fill="#0000a5"/>
<rect x="499.8" y="353.0" width="8.6" height="12.7" fill="#0000ad"/>
<rect x="507.8" y="353.0" width="8.6" height="12.7" fill="#000099"/>
<rect x="515.8" y="353.0" width="32.6" height="12.7" fill="#000095"/>
<rect x="107.8" y="365.2" width="8.6" height="12.7" fill="#000099"/>
<rect x="115.8" y="365.2" width="8.6" height="12.7" fill="#0000a1"/>
<rect x="123.8" y="365.2" width="16.6" height="12.7" fill="#0000b1"/>
<rect x="139.8" y="365.2" width="8.6" height="12.7" fill="#0000a9"/>
<rect x="147.8" y="365.2" width="64.6" height="12.7" fill="#0000a5"/>
<rect x="211.8" y="365.2" width="16.6" height="12.7" fill="#000099"/>
<rect x="227.8" y="365.2" width="8.6" height="12.7" fill="#0000a5"/>
<rect x="235.8" y="365.2" width="184.6" height="12.7" fill="#0000ad"/>
<rect x="419.8" y="365.2" width="16.6" height="12.7" fill="#0000b1"/>
<rect x="435.8" y="365.2" width="16.6" height="12.7" fill="#0000b5"/>
<rect x="451.8" y="365.2" width="8.6" height="12.7" fill="#0000b9"/>
<rect x="459.8" y="365.2" width="16.6" height="12.7" fill="#0000a9"/>
<rect x="475.8" y="365.2" width="8.6" height="12.7" fill="#000099"/>
<rect x="483.8" y="365.2" width="32.6" height="12.7" fill="#000095"/>
<rect x="107.8" y="377.3" width="8.6" height="12.7" fill="#000099"/>
<rect x="115.8" y="377.3" width="8.6" height="12.7" fill="#0000a9"/>
<rect x="123.8" y="377.3" width="8.6" height="12.7" fill="#0000ad"/>
<rect x="131.8" y="377.3" width="16.6" height="12.7" fill="#0000a9"/>
<rect x="147.8" y="377.3" width="56.6" height="12.7" fill="#0000a5"/>
<rect x="203.8" y="377.3" width="8.6" height="12.7" fill="#00009d"/>
<rect x="211.8" y="377.3" width="8.6" height="12.7" fill="#000095"/>
<rect x="219.8" y="377.3" width="8.6" height="12.7" fill="#0000a1"/>
<rect x="227.8" y="377.3" width="8.6" height="12.7" fill="#0000a9"/>
<rect x="235.8" y="377.3" width="152.6" height="12.7" fill="#0000ad"/>
<rect x="387.8" y="377.3" width="24.6" height="12.7" fill="#0000b1"/>
<rect x="411.8" y="377.3" width="8.6" height="12.7" fill="#0000b5"/>
<rect x="419.8" y="377.3" width="8.6" height="12.7" fill="#0000b9"/>
<rect x="427.8" y="377.3" width="8.6" height="12.7" fill="#0000b5"/>
<rect x="435.8" y="377.3" width="8.6" height="12.7" fill="#0000a5"/>
<rect x="443.8" y="377.3" width="8.6" height="12.7" fill="#0000ad"/>
<rect x="451.8" y="377.3" width="8.6" height="12.7" fill="#000099"/>
<rect x="459.8" y="377.3" width="32.6" height="12.7" fill="#000095"/>
<rect x="107.8" y="389.5" width="8.6" height="12.7" fill="#000099"/>
<rect x="115.8" y="389.5" width="8.6" height="12.7" fill="#0000b5"/>
<rect x="123.8" y="389.5" width="8.6" height="12.7" fill="#0000b1"/>
<rect x="131.8" y="389.5" width="8.6" height="12.7" fill="#0000a1"/>
<rect x="139.8" y="389.5" width="56.6" height="12.7" fill="#0000a5"/>
<rect x="195.8" y="389.5" width="8.6" height="12.7" fill="#0000a1"/>
<rect x="203.8" y="389.5" width="8.6" height="12.7" fill="#000099"/>
<rect x="211.8" y="389.5" width="8.6" height="12.7" fill="#00009d"/>
<rect x="219.8" y="389.5" width="8.6" height="12.7" fill="#0000a9"/>
<rect x="227.8" y="389.5" width="136.6" height="12.7" fill="#0000ad"/>
<rect x="363.8" y="389.5" width="16.6" height="12.7" fill="#0000b1"/>
<rect x="379.8" y="389.5" width="16.6" height="12.7" fill="#0000b5"/>
<rect x="395.8" y="389.5" width="8.6" height="12.7" fill="#0000b9"/>
<rect x="403.8" y="389.5" width="16.6" height="12.7" fill="#0000a9"/>
<rect x="419.8" y="389.5" width="8.6" height="12.7" fill="#000099"/>
<rect x="427.8" y="389.5" width="32.6" height="12.7" fill="#000095"/>
<rect x="107.8" y="401.6" width="8.6" height="12.7" fill="#000099"/>
<rect x="115.8" y="401.6" width="8.6" height="12.7" fill="#0000b5"/>
<rect x="123.8" y="401.6" width="8.6" height="12.7" fill="#0000bd"/>
<rect x="131.8" y="401.6" width="8.6" height="12.7" fill="#0000a5"/>
<rect x="139.8" y="401.6" width="8.6" height="12.7" fill="#00009d"/>
<rect x="147.8" y="401.6" width="8.6" height="12.7" fill="#0000a1"/>
<rect x="155.8" y="401.6" width="40.6" height="12.7" fill="#0000a5"/>
<rect x="195.8" y="401.6" width="16.6" height="12.7" fill="#000099"/>
<rect x="211.8" y="401.6" width="8.6" height="12.7" fill="#0000a5"/>
<rect x="219.8" y="401.6" width="120.6" height="12.7" fill="#0000ad"/>
<rect x="339.8" y="401.6" width="16.6" height="12.7" fill="#0000b1"/>
<rect x="355.8" y="401.6" width="16.6" height="12.7" fill="#0000b5"/>
<rect x="371.8" y="401.6" width="8.6" height="12.7" fill="#0000b9"/>
<rect x="379.8" y="401.6" width="16.6" height="12.7" fill="#0000a9"/>
<rect x="395.8" y="401.6" width="8.6" height="12.7" fill="#000099"/>
<rect x="403.8" y="401.6" width="32.6" height="12.7" fill="#000095"/>
<rect x="107.8" y="413.7" width="8.6" height="12.7" fill="#000099"/>
<rect x="115.8" y="413.7" width="8.6" height="12.7" fill="#0000b5"/>
<rect x="123.8" y="413.7" width="8.6" height="12.7" fill="#0000c1"/>
<rect x="131.8" y="413.7" width="8.6" height="12.7" fill="#0000b1"/>
<rect x="139.8" y="413.7" width="16.6" height="12.7" fill="#000099"/>
<rect x="155.8" y="413.7" width="8.6" height="12.7" fill="#0000a1"/>
<rect x="163.8" y="413.7" width="24.6" height="12.7" fill="#0000a5"/>
<rect x="187.8" y="413.7" width="8.6" height="12.7" fill="#00009d"/>
<rect x="195.8" y="413.7" width="8.6" height="12.7" fill="#000095"/>
<rect x="203.8" y="413.7" width="8.6" height="12.7" fill="#0000a1"/>
<rect x="211.8" y="413.7" width="104.6" height="12.7" fill="#0000ad"/>
<rect x="315.8" y="413.7" width="16.6" height="12.7" fill="#0000b1"/>
<rect x="331.8" y="413.7" width="16.6" height="12.7" fill="#0000b5"/>
<rect x="347.8" y="413.7" width="8.6" height="12.7" fill="#0000b9"/>
<rect x="355.8" y="413.7" width="16.6" height="12.7" fill="#0000a9"/>
<rect x="371.8" y="413.7" width="8.6" height="12.7" fill="#000099"/>
<rect x="379.8" y="413.7" width="32.6" height="12.7" fill="#000095"/>
<rect x="107.8" y="425.9" width="8.6" height="12.7" fill="#000099"/>
<rect x="115.8" y="425.9" width="8.6" height="12.7" fill="#0000b5"/>
<rect x="123.8" y="425.9" width="8.6" height="12.7" fill="#0000c1"/>
<rect x="131.8" y="425.9" width="8.6" height="12.7" fill="#0000b9"/>
<rect x="139.8" y="425.9" width="8.6" height="12.7" fill="#0000a5"/>
<rect x="147.8" y="425.9" width="8.6" height="12.7" fill="#000095"/>
<rect x="155.8" y="425.9" width="8.6" height="12.7" fill="#00009d"/>
<rect x="163.8" y="425.9" width="16.6" height="12.7" fill="#0000a5"/>
<rect x="179.8" y="425.9" width="8.6" height="12.7" fill="#0000a1"/>
<rect x="187.8" y="425.9" width="8.6" height="12.7" fill="#000099"/>
<rect x="195.8" y="425.9" width="8.6" height="12.7" fill="#00009d"/>
<rect x="203.8" y="425.9" width="8.6" height="12.7" fill="#0000a9"/>
<rect x="211.8" y="425.9" width="80.6" height="12.7" fill="#0000ad"/>
<rect x="291.8" y="425.9" width="16.6" height="12.7" fill="#0000b1"/>
<rect x="307.8" y="425.9" width="16.6" height="12.7" fill="#0000b5"/>
<rect x="323.8" y="425.9" width="8.6" height="12.7" fill="#0000b9"/>
<rect x="331.8" y="425.9" width="16.6" height="12.7" fill="#0000a9"/>
<rect x="347.8" y="425.9" width="8.6" height="12.7" fill="#000099"/>
<rect x="355.8" y="425.9" width="32.6" height="12.7" fill="#000095"/>
<rect x="107.8" y="438.0" width="8.6" height="12.7" fill="#000099"/>
<rect x="115.8" y="438.0" width="8.6" height="12.7" fill="#0000b5"/>
<rect x="123.8" y="438.0" width="8.6" height="12.7" fill="#0000c1"/>
<rect x="131.8" y="438.0" width="8.6" height="12.7" fill="#0000b9"/>
<rect x="139.8" y="438.0" width="8.6" height="12.7" fill="#0000ad"/>
<rect x="147.8" y="438.0" width="8.6" height="12.7" fill="#0000a1"/>
<rect x="155.8" y="438.0" width="8.6" height="12.7" fill="#000095"/>
<rect x="163.8" y="438.0" width="8.6" height="12.7" fill="#00009d"/>
<rect x="171.8" y="438.0" width="8.6" height="12.7" fill="#0000a5"/>
<rect x="179.8" y="438.0" width="16.6" height="12.7" fill="#000099"/>
<rect x="195.8" y="438.0" width="8.6" height="12.7" fill="#0000a9"/>
<rect x="203.8" y="438.0" width="64.6" height="12.7" fill="#0000ad"/>
<rect x="267.8" y="438.0" width="24.6" height="12.7" fill="#0000b1"/>
<rect x="291.8" y="438.0" width="8.6" height="12.7" fill="#0000b5"/>
<rect x="299.8" y="438.0" width="8.6" height="12.7" fill="#0000b9"/>
<rect x="307.8" y="438.0" width="8.6" height="12.7" fill="#0000ad"/>
<rect x="315.8" y="438.0" width="8.6" height="12.7" fill="#0000a9"/>
<rect x="323.8" y="438.0" width="8.6" height="12.7" fill="#0000ad"/>
<rect x="331.8" y="438.0" width="32.6" height="12.7" fill="#000095"/>
<rect x="107.8" y="450.2" width="8.6" height="12.7" fill="#000099"/>
<rect x="115.8" y="450.2" width="8.6" height="12.7" fill="#0000b5"/>
<rect x="123.8" y="450.2" width="8.6" height="12.7" fill="#0000c1"/>
<rect x="131.8" y="450.2" width="8.6" height="12.7" fill="#0000b9"/>
<rect x="139.8" y="450.2" width="8.6" height="12.7" fill="#0000ad"/>
<rect x="147.8" y="450.2" width="8.6" height="12.7" fill="#0000a9"/>
<rect x="155.8" y="450.2" width="8.6" height="12.7" fill="#00009d"/>
<rect x="163.8" y="450.2" width="8.6" height="12.7" fill="#000095"/>
<rect x="171.8" y="450.2" width="8.6" height="12.7" fill="#00009d"/>
<rect x="179.8" y="450.2" width="8.6" height="12.7" fill="#000095"/>
<rect x="187.8" y="450.2" width="8.6" height="12.7" fill="#0000a1"/>
<rect x="195.8" y="450.2" width="48.6" height="12.7" fill="#0000ad"/>
<rect x="243.8" y="450.2" width="24.6" height="12.7" fill="#0000b1"/>
<rect x="267.8" y="450.2" width="16.6" height="12.7" fill="#0000b5"/>
<rect x="283.8" y="450.2" width="8.6" height="12.7" fill="#0000b9"/>
<rect x="291.8" y="450.2" width="8.6" height="12.7" fill="#0000a5"/>
<rect x="299.8" y="450.2" width="8.6" height="12.7" fill="#0000ad"/>
<rect x="307.8" y="450.2" width="8.6" height="12.7" fill="#000099"/>
<rect x="315.8" y="450.2" width="32.6" height="12.7" fill="#000095"/>
<rect x="107.8" y="462.3" width="8.6" height="12.7" fill="#000099"/>
<rect x="115.8" y="462.3" width="8.6" height="12.7" fill="#0000b5"/>
<rect x="123.8" y="462.3" width="8.6" height="12.7" fill="#0000c1"/>
<rect x="131.8" y="462.3" width="8.6" height="12.7" fill="#0000b9"/>
<rect x="139.8" y="462.3" width="16.6" height="12.7" fill="#0000ad"/>
<rect x="155.8" y="462.3" width="8.6" height="12.7" fill="#0000a9"/>
<rect x="163.8" y="462.3" width="16.6" height="12.7" fill="#000099"/>
<rect x="179.8" y="462.3" width="8.6" height="12.7" fill="#00009d"/>
<rect x="187.8" y="462.3" width="8.6" height="12.7" fill="#0000a9"/>
<rect x="195.8" y="462.3" width="32.6" height="12.7" fill="#0000ad"/>
<rect x="227.8" y="462.3" width="24.6" height="12.7" fill="#0000b1"/>
<rect x="251.8" y="462.3" width="8.6" height="12.7" fill="#0000b5"/>
<rect x="259.8" y="462.3" width="8.6" height="12.7" fill="#0000b9"/>
<rect x="267.8" y="462.3" width="8.6" height="12.7" fill="#0000ad"/>
<rect x="275.8" y="462.3" width="8.6" height="12.7" fill="#0000a9"/>
<rect x="283.8" y="462.3" width="8.6" height="12.7" fill="#0000b1"/>
<rect x="291.8" y="462.3" width="32.6" height="12.7" fill="#000095"/>
<rect x="107.8" y="474.4" width="8.6" height="12.7" fill="#000099"/>
<rect x="115.8" y="474.4" width="8.6" height="12.7" fill="#0000b5"/>
<rect x="123.8" y="474.4" width="8.6" height="12.7" fill="#0000c1"/>
<rect x="131.8" y="474.4" width="8.6" height="12.7" fill="#0000b9"/>
<rect x="139.8" y="474.4" width="24.6" height="12.7" fill="#0000ad"/>
<rect x="163.8" y="474.4" width="16.6" height="12.7" fill="#0000a9"/>
<rect x="179.8" y="474.4" width="24.6" height="12.7" fill="#0000ad"/>
<rect x="203.8" y="474.4" width="24.6" height="12.7" fill="#0000b1"/>
<rect x="227.8" y="474.4" width="16.6" height="12.7" fill="#0000b5"/>
<rect x="243.8" y="474.4" width="8.6" height="12.7" fill="#0000b9"/>
<rect x="251.8" y="474.4" width="8.6" height="12.7" fill="#0000a5"/>
<rect x="259.8" y="474.4" width="8.6" height="12.7" fill="#0000a9"/>
<rect x="267.8" y="474.4" width="8.6" height="12.7" fill="#000099"/>
<rect x="275.8" y="474.4" width="32.6" height="12.7" fill="#000095"/>
<rect x="107.8" y="486.6" width="8.6" height="12.7" fill="#000099"/>
<rect x="115.8" y="486.6" width="8.6" height="12.7" fill="#0000b5"/>
<rect x="123.8" y="486.6" width="8.6" height="12.7" fill="#0000c1"/>
<rect x="131.8" y="486.6" width="8.6" height="12.7" fill="#0000b9"/>
<rect x="139.8" y="486.6" width="8.6" height="12.7" fill="#0000b1"/>
<rect x="147.8" y="486.6" width="40.6" height="12.7" fill="#0000ad"/>
<rect x="187.8" y="486.6" width="24.6" height="12.7" fill="#0000b1"/>
<rect x="211.8" y="486.6" width="8.6" height="12.7" fill="#0000b5"/>
<rect x="219.8" y="486.6" width="8.6" height="12.7" fill="#0000b9"/>
<rect x="227.8" y="486.6" width="8.6" height="12.7" fill="#0000b5"/>
<rect x="235.8" y="486.6" width="8.6" height="12.7" fill="#0000a5"/>
<rect x="243.8" y="486.6" width="8.6" height="12.7" fill="#0000ad"/>
<rect x="251.8" y="486.6" width="8.6" height="12.7" fill="#000099"/>
<rect x="259.8" y="486.6" width="32.6" height="12.7" fill="#000095"/>
<rect x="107.8" y="498.7" width="8.6" height="12.7" fill="#000099"/>
<rect x="115.8" y="498.7" width="8.6" height="12.7" fill="#0000b5"/>
<rect x="123.8" y="498.7" width="8.6" height="12.7" fill="#0000c1"/>
<rect x="131.8" y="498.7" width="8.6" height="12.7" fill="#0000b9"/>
<rect x="139.8" y="498.7" width="8.6" height="12.7" fill="#0000b1"/>
<rect x="147.8" y="498.7" width="24.6" height="12.7" fill="#0000ad"/>
<rect x="171.8" y="498.7" width="24.6" height="12.7" fill="#0000b1"/>
<rect x="195.8" y="498.7" width="8.6" height="12.7" fill="#0000b5"/>
<rect x="203.8" y="498.7" width="8.6" height="12.7" fill="#0000b9"/>
<rect x="211.8" y="498.7" width="8.6" height="12.7" fill="#0000b5"/>
<rect x="219.8" y="498.7" width="8.6" height="12.7" fill="#0000a5"/>
<rect x="227.8" y="498.7" width="8.6" height="12.7" fill="#0000ad"/>
<rect x="235.8" y="498.7" width="8.6" height="12.7" fill="#000099"/>
<rect x="243.8" y="498.7" width="32.6" height="12.7" fill="#000095"/>
<rect x="107.8" y="510.9" width="8.6" height="12.7" fill="#000099"/>
<rect x="115.8" y="510.9" width="8.6" height="12.7" fill="#0000b9"/>
<rect x="123.8" y="510.9" width="8.6" height="12.7" fill="#0000c1"/>
<rect x="131.8" y="510.9" width="8.6" height="12.7" fill="#0000b9"/>
<rect x="139.8" y="510.9" width="8.6" height="12.7" fill="#0000b1"/>
<rect x="147.8" y="510.9" width="8.6" height="12.7" fill="#0000ad"/>
<rect x="155.8" y="510.9" width="24.6" height="12.7" fill="#0000b1"/>
<rect x="179.8" y="510.9" width="8.6" height="12.7" fill="#0000b5"/>
<rect x="187.8" y="510.9" width="8.6" height="12.7" fill="#0000b9"/>
<rect x="195.8" y="510.9" width="8.6" height="12.7" fill="#0000b5"/>
<rect x="203.8" y="510.9" width="8.6" height="12.7" fill="#0000a5"/>
<rect x="211.8" y="510.9" width="8.6" height="12.7" fill="#0000ad"/>
<rect x="219.8" y="510.9" width="8.6" height="12.7" fill="#000099"/>
<rect x="227.8" y="510.9" width="32.6" height="12.7" fill="#000095"/>
<rect x="107.8" y="523.0" width="8.6" height="12.7" fill="#000099"/>
<rect x="115.8" y="523.0" width="8.6" height="12.7" fill="#0000b9"/>
<rect x="123.8" y="523.0" width="8.6" height="12.7" fill="#0000c5"/>
<rect x="131.8" y="523.0" width="8.6" height="12.7" fill="#0000b9"/>
<rect x="139.8" y="523.0" width="24.6" height="12.7" fill="#0000b1"/>
<rect x="163.8" y="523.0" width="16.6" height="12.7" fill="#0000b5"/>
<rect x="179.8" y="523.0" width="8.6" height="12.7" fill="#0000b9"/>
<rect x="187.8" y="523.0" width="8.6" height="12.7" fill="#0000a5"/>
<rect x="195.8" y="523.0" width="8.6" height="12.7" fill="#0000a9"/>
<rect x="203.8" y="523.0" width="8.6" height="12.7" fill="#000099"/>
<rect x="211.8" y="523.0" width="32.6" height="12.7" fill="#000095"/>
<rect x="99.8" y="535.1" width="8.6" height="12.7" fill="#000095"/>
<rect x="107.8" y="535.1" width="8.6" height="12.7" fill="#000099"/>
<rect x="115.8" y="535.1" width="8.6" height="12.7" fill="#0000b9"/>
<rect x="123.8" y="535.1" width="8.6" height="12.7" fill="#0000c5"/>
<rect x="131.8" y="535.1" width="8.6" height="12.7" fill="#0000bd"/>
<rect x="139.8" y="535.1" width="8.6" height="12.7" fill="#0000b5"/>
<rect x="147.8" y="535.1" width="8.6" height="12.7" fill="#0000b1"/>
<rect x="155.8" y="535.1" width="8.6" height="12.7" fill="#0000b5"/>
<rect x="163.8" y="535.1" width="8.6" height="12.7" fill="#0000b9"/>
<rect x="171.8" y="535.1" width="8.6" height="12.7" fill="#0000b1"/>
<rect x="179.8" y="535.1" width="8.6" height="12.7" fill="#0000a5"/>
<rect x="187.8" y="535.1" width="8.6" height="12.7" fill="#0000ad"/>
<rect x="195.8" y="535.1" width="8.6" height="12.7" fill="#000099"/>
<rect x="203.8" y="535.1" width="24.6" height="12.7" fill="#000095"/>
<rect x="99.8" y="547.3" width="8.6" height="12.7" fill="#000095"/>
<rect x="107.8" y="547.3" width="8.6" height="12.7" fill="#000099"/>
<rect x="115.8" y="547.3" width="8.6" height="12.7" fill="#0000b9"/>
<rect x="123.8" y="547.3" width="8.6" height="12.7" fill="#0000c5"/>
<rect x="131.8" y="547.3" width="8.6" height="12.7" fill="#0000bd"/>
<rect x="139.8" y="547.3" width="16.6" height="12.7" fill="#0000b5"/>
<rect x="155.8" y="547.3" width="8.6" height="12.7" fill="#0000b9"/>
<rect x="163.8" y="547.3" width="8.6" height="12.7" fill="#0000a5"/>
<rect x="171.8" y="547.3" width="8.6" height="12.7" fill="#0000a9"/>
<rect x="179.8" y="547.3" width="8.6" height="12.7" fill="#000099"/>
<rect x="187.8" y="547.3" width="32.6" height="12.7" fill="#000095"/>
<rect x="91.8" y="559.4" width="16.6" height="11.1" fill="#000095"/>
<rect x="107.8" y="559.4" width="8.6" height="11.1" fill="#00009d"/>
<rect x="115.8" y="559.4" width="8.6" height="11.1" fill="#0000b9"/>
<rect x="123.8" y="559.4" width="8.6" height="11.1" fill="#0000c9"/>
<rect x="131.8" y="559.4" width="8.6" height="11.1" fill="#0000c1"/>
<rect x="139.8" y="559.4" width="16.6" height="11.1" fill="#0000b9"/>
<rect x="155.8" y="559.4" width="8.6" height="11.1" fill="#0000a5"/>
<rect x="163.8" y="559.4" width="8.6" height="11.1" fill="#0000a9"/>
<rect x="171.8" y="559.4" width="8.6" height="11.1" fill="#000099"/>
<rect x="179.8" y="559.4" width="32.6" height="11.1" fill="#000095"/>
<rect x="91.8" y="569.9" width="16.6" height="9.5" fill="#000095"/>
<rect x="107.8" y="569.9" width="8.6" height="9.5" fill="#00009d"/>
<rect x="115.8" y="569.9" width="8.6" height="9.5" fill="#0000bd"/>
<rect x="123.8" y="569.9" width="8.6" height="9.5" fill="#0000c9"/>
<rect x="131.8" y="569.9" width="8.6" height="9.5" fill="#0000c1"/>
<rect x="139.8" y="569.9" width="8.6" height="9.5" fill="#0000bd"/>
<rect x="147.8" y="569.9" width="8.6" height="9.5" fill="#0000a5"/>
<rect x="155.8" y="569.9" width="8.6" height="9.5" fill="#0000a9"/>
<rect x="163.8" y="569.9" width="8.6" height="9.5" fill="#000099"/>
<rect x="171.8" y="569.9" width="32.6" height="9.5" fill="#000095"/>
<rect x="83.8" y="578.8" width="24.6" height="9.5" fill="#000095"/>
<rect x="107.8" y="578.8" width="8.6" height="9.5" fill="#00009d"/>
<rect x="115.8" y="578.8" width="8.6" height="9.5" fill="#0000bd"/>
<rect x="123.8" y="578.8" width="8.6" height="9.5" fill="#0000cd"/>
<rect x="131.8" y="578.8" width="8.6" height="9.5" fill="#0000c5"/>
<rect x="139.8" y="578.8" width="8.6" height="9.5" fill="#0000ad"/>
<rect x="147.8" y="578.8" width="8.6" height="9.5" fill="#0000a9"/>
<rect x="155.8" y="578.8" width="8.6" height="9.5" fill="#000099"/>
<rect x="163.8" y="578.8" width="32.6" height="9.5" fill="#000095"/>
<rect x="75.8" y="587.6" width="24.6" height="9.5" fill="#000095"/>
<rect x="99.8" y="587.6" width="8.6" height="9.5" fill="#000099"/>
<rect x="107.8" y="587.6" width="8.6" height="9.5" fill="#00009d"/>
<rect x="115.8" y="587.6" width="8.6" height="9.5" fill="#0000c1"/>
<rect x="123.8" y="587.6" width="8.6" height="9.5" fill="#0000cd"/>
<rect x="131.8" y="587.6" width="8.6" height="9.5" fill="#0000bd"/>
<rect x="139.8" y="587.6" width="8.6" height="9.5" fill="#0000a9"/>
<rect x="147.8" y="587.6" width="8.6" height="9.5" fill="#0000ad"/>
<rect x="155.8" y="587.6" width="8.6" height="9.5" fill="#000099"/>
<rect x="163.8" y="587.6" width="24.6" height="9.5" fill="#000095"/>
<rect x="75.8" y="596.5" width="24.6" height="9.5" fill="#000095"/>
<rect x="99.8" y="596.5" width="8.6" height="9.5" fill="#000099"/>
<rect x="107.8" y="596.5" width="8.6" height="9.5" fill="#0000a1"/>
<rect x="115.8" y="596.5" width="8.6" height="9.5" fill="#0000c1"/>
<rect x="123.8" y="596.5" width="8.6" height="9.5" fill="#0000cd"/>
<rect x="131.8" y="596.5" width="8.6" height="9.5" fill="#0000b1"/>
<rect x="139.8" y="596.5" width="8.6" height="9.5" fill="#0000ad"/>
<rect x="147.8" y="596.5" width="8.6" height="9.5" fill="#000099"/>
<rect x="155.8" y="596.5" width="32.6" height="9.5" fill="#000095"/>
<rect x="75.8" y="605.3" width="24.6" height="9.5" fill="#000095"/>
<rect x="99.8" y="605.3" width="8.6" height="9.5" fill="#000099"/>
<rect x="107.8" y="605.3" width="8.6" height="9.5" fill="#0000a1"/>
<rect x="115.8" y="605.3" width="8.6" height="9.5" fill="#0000c5"/>
<rect x="123.8" y="605.3" width="8.6" height="9.5" fill="#0000bd"/>
<rect x="131.8" y="605.3" width="8.6" height="9.5" fill="#0000b5"/>
<rect x="139.8" y="605.3" width="8.6" height="9.5" fill="#00009d"/>
<rect x="147.8" y="605.3" width="32.6" height="9.5" fill="#000095"/>
</g>
<g filter="url(#bl)">
<rect x="514.1" y="340.90" width="3.0" height="6.67" fill="#0000bf"/>
<rect x="517.1" y="340.90" width="3.0" height="6.67" fill="#0000c7"/>
<rect x="520.1" y="340.90" width="3.0" height="6.67" fill="#0000d3"/>
<rect x="523.1" y="340.90" width="3.0" height="6.67" fill="#0000eb"/>
<rect x="526.1" y="340.90" width="3.0" height="6.67" fill="#000cff"/>
<rect x="529.1" y="340.90" width="3.0" height="6.67" fill="#0040ff"/>
<rect x="532.1" y="340.90" width="3.0" height="6.67" fill="#0070ff"/>
<rect x="535.1" y="340.90" width="3.0" height="6.67" fill="#00bfff"/>
<rect x="538.1" y="340.90" width="3.0" height="6.67" fill="#20ffdf"/>
<rect x="541.1" y="340.90" width="3.0" height="6.67" fill="#70ff8f"/>
<rect x="544.1" y="340.90" width="6.0" height="6.67" fill="#9fff60"/>
<rect x="550.1" y="340.90" width="3.0" height="6.67" fill="#80ff80"/>
<rect x="553.1" y="340.90" width="3.0" height="6.67" fill="#40ffbf"/>
<rect x="556.1" y="340.90" width="3.0" height="6.67" fill="#00efff"/>
<rect x="559.1" y="340.90" width="3.0" height="6.67" fill="#008fff"/>
<rect x="562.1" y="340.90" width="3.0" height="6.67" fill="#0040ff"/>
<rect x="565.1" y="340.90" width="3.0" height="6.67" fill="#0008ff"/>
<rect x="568.1" y="340.90" width="3.0" height="6.67" fill="#0000db"/>
<rect x="571.1" y="340.90" width="3.0" height="6.67" fill="#0000bb"/>
<rect x="574.1" y="340.90" width="3.0" height="6.67" fill="#0000ab"/>
<rect x="577.1" y="340.90" width="3.0" height="6.67" fill="#00009f"/>
<rect x="580.1" y="340.90" width="3.0" height="6.67" fill="#00009b"/>
<rect x="496.1" y="346.97" width="3.0" height="6.67" fill="#0000bb"/>
<rect x="499.1" y="346.97" width="3.0" height="6.67" fill="#0000c3"/>
<rect x="502.1" y="346.97" width="3.0" height="6.67" fill="#0000cb"/>
<rect x="505.1" y="346.97" width="3.0" height="6.67" fill="#0000df"/>
<rect x="508.1" y="346.97" width="3.0" height="6.67" fill="#0000fb"/>
<rect x="511.1" y="346.97" width="3.0" height="6.67" fill="#0020ff"/>
<rect x="514.1" y="346.97" width="3.0" height="6.67" fill="#0060ff"/>
<rect x="517.1" y="346.97" width="3.0" height="6.67" fill="#00afff"/>
<rect x="520.1" y="346.97" width="3.0" height="6.67" fill="#10ffef"/>
<rect x="523.1" y="346.97" width="3.0" height="6.67" fill="#80ff80"/>
<rect x="526.1" y="346.97" width="3.0" height="6.67" fill="#cfff30"/>
<rect x="529.1" y="346.97" width="3.0" height="6.67" fill="#ffef00"/>
<rect x="532.1" y="346.97" width="3.0" height="6.67" fill="#efff10"/>
<rect x="535.1" y="346.97" width="3.0" height="6.67" fill="#bfff40"/>
<rect x="538.1" y="346.97" width="3.0" height="6.67" fill="#70ff8f"/>
<rect x="541.1" y="346.97" width="3.0" height="6.67" fill="#00ffff"/>
<rect x="544.1" y="346.97" width="3.0" height="6.67" fill="#009fff"/>
<rect x="547.1" y="346.97" width="3.0" height="6.67" fill="#0050ff"/>
<rect x="550.1" y="346.97" width="3.0" height="6.67" fill="#0004ff"/>
<rect x="553.1" y="346.97" width="3.0" height="6.67" fill="#0000d7"/>
<rect x="556.1" y="346.97" width="3.0" height="6.67" fill="#0000bb"/>
<rect x="559.1" y="346.97" width="3.0" height="6.67" fill="#0000a7"/>
<rect x="562.1" y="346.97" width="3.0" height="6.67" fill="#00009f"/>
<rect x="565.1" y="346.97" width="3.0" height="6.67" fill="#00009b"/>
<rect x="478.1" y="353.04" width="3.0" height="6.67" fill="#0000bb"/>
<rect x="481.1" y="353.04" width="3.0" height="6.67" fill="#0000bf"/>
<rect x="484.1" y="353.04" width="3.0" height="6.67" fill="#0000c3"/>
<rect x="487.1" y="353.04" width="3.0" height="6.67" fill="#0000cf"/>
<rect x="490.1" y="353.04" width="3.0" height="6.67" fill="#0000e7"/>
<rect x="493.1" y="353.04" width="3.0" height="6.67" fill="#000cff"/>
<rect x="496.1" y="353.04" width="3.0" height="6.67" fill="#0040ff"/>
<rect x="499.1" y="353.04" width="3.0" height="6.67" fill="#0080ff"/>
<rect x="502.1" y="353.04" width="3.0" height="6.67" fill="#00dfff"/>
<rect x="505.1" y="353.04" width="3.0" height="6.67" fill="#60ff9f"/>
<rect x="508.1" y="353.04" width="3.0" height="6.67" fill="#cfff30"/>
<rect x="511.1" y="353.04" width="3.0" height="6.67" fill="#ffdf00"/>
<rect x="514.1" y="353.04" width="3.0" height="6.67" fill="#ffaf00"/>
<rect x="517.1" y="353.04" width="3.0" height="6.67" fill="#ffdf00"/>
<rect x="520.1" y="353.04" width="3.0" height="6.67" fill="#dfff20"/>
<rect x="523.1" y="353.04" width="3.0" height="6.67" fill="#70ff8f"/>
<rect x="526.1" y="353.04" width="3.0" height="6.67" fill="#00ffff"/>
<rect x="529.1" y="353.04" width="3.0" height="6.67" fill="#008fff"/>
<rect x="532.1" y="353.04" width="3.0" height="6.67" fill="#0040ff"/>
<rect x="535.1" y="353.04" width="3.0" height="6.67" fill="#0000f7"/>
<rect x="538.1" y="353.04" width="3.0" height="6.67" fill="#0000cf"/>
<rect x="541.1" y="353.04" width="3.0" height="6.67" fill="#0000b3"/>
<rect x="544.1" y="353.04" width="3.0" height="6.67" fill="#0000a7"/>
<rect x="547.1" y="353.04" width="3.0" height="6.67" fill="#00009f"/>
<rect x="550.1" y="353.04" width="3.0" height="6.67" fill="#00009b"/>
<rect x="466.1" y="359.11" width="3.0" height="6.67" fill="#0000bb"/>
<rect x="469.1" y="359.11" width="3.0" height="6.67" fill="#0000c3"/>
<rect x="472.1" y="359.11" width="3.0" height="6.67" fill="#0000cb"/>
<rect x="475.1" y="359.11" width="3.0" height="6.67" fill="#0000d7"/>
<rect x="478.1" y="359.11" width="3.0" height="6.67" fill="#0000f7"/>
<rect x="481.1" y="359.11" width="3.0" height="6.67" fill="#0020ff"/>
<rect x="484.1" y="359.11" width="3.0" height="6.67" fill="#0070ff"/>
<rect x="487.1" y="359.11" width="3.0" height="6.67" fill="#00cfff"/>
<rect x="490.1" y="359.11" width="3.0" height="6.67" fill="#60ff9f"/>
<rect x="493.1" y="359.11" width="3.0" height="6.67" fill="#efff10"/>
<rect x="496.1" y="359.11" width="3.0" height="6.67" fill="#ffaf00"/>
<rect x="499.1" y="359.11" width="3.0" height="6.67" fill="#ff8000"/>
<rect x="502.1" y="359.11" width="3.0" height="6.67" fill="#ffaf00"/>
<rect x="505.1" y="359.11" width="3.0" height="6.67" fill="#dfff20"/>
<rect x="508.1" y="359.11" width="3.0" height="6.67" fill="#60ff9f"/>
<rect x="511.1" y="359.11" width="3.0" height="6.67" fill="#00cfff"/>
<rect x="514.1" y="359.11" width="3.0" height="6.67" fill="#0060ff"/>
<rect x="517.1" y="359.11" width="3.0" height="6.67" fill="#000cff"/>
<rect x="520.1" y="359.11" width="3.0" height="6.67" fill="#0000d7"/>
<rect x="523.1" y="359.11" width="3.0" height="6.67" fill="#0000b7"/>
<rect x="526.1" y="359.11" width="3.0" height="6.67" fill="#0000a7"/>
<rect x="529.1" y="359.11" width="3.0" height="6.67" fill="#00009f"/>
<rect x="532.1" y="359.11" width="3.0" height="6.67" fill="#00009b"/>
<rect x="535.1" y="359.11" width="3.0" height="6.67" fill="#000097"/>
<rect x="448.1" y="365.18" width="6.0" height="6.67" fill="#0000bb"/>
<rect x="454.1" y="365.18" width="3.0" height="6.67" fill="#0000bf"/>
<rect x="457.1" y="365.18" width="3.0" height="6.67" fill="#0000c7"/>
<rect x="460.1" y="365.18" width="3.0" height="6.67" fill="#0000d7"/>
<rect x="463.1" y="365.18" width="3.0" height="6.67" fill="#0000ef"/>
<rect x="466.1" y="365.18" width="3.0" height="6.67" fill="#0020ff"/>
<rect x="469.1" y="365.18" width="3.0" height="6.67" fill="#0060ff"/>
<rect x="472.1" y="365.18" width="3.0" height="6.67" fill="#00dfff"/>
<rect x="475.1" y="365.18" width="3.0" height="6.67" fill="#70ff8f"/>
<rect x="478.1" y="365.18" width="3.0" height="6.67" fill="#ffef00"/>
<rect x="481.1" y="365.18" width="3.0" height="6.67" fill="#ff7000"/>
<rect x="484.1" y="365.18" width="3.0" height="6.67" fill="#ff3000"/>
<rect x="487.1" y="365.18" width="3.0" height="6.67" fill="#ff7000"/>
<rect x="490.1" y="365.18" width="3.0" height="6.67" fill="#ffdf00"/>
<rect x="493.1" y="365.18" width="3.0" height="6.67" fill="#80ff80"/>
<rect x="496.1" y="365.18" width="3.0" height="6.67" fill="#00dfff"/>
<rect x="499.1" y="365.18" width="3.0" height="6.67" fill="#0060ff"/>
<rect x="502.1" y="365.18" width="3.0" height="6.67" fill="#000cff"/>
<rect x="505.1" y="365.18" width="3.0" height="6.67" fill="#0000d3"/>
<rect x="508.1" y="365.18" width="3.0" height="6.67" fill="#0000b3"/>
<rect x="511.1" y="365.18" width="3.0" height="6.67" fill="#0000a7"/>
<rect x="514.1" y="365.18" width="3.0" height="6.67" fill="#00009f"/>
<rect x="517.1" y="365.18" width="6.0" height="6.67" fill="#00009b"/>
<rect x="433.1" y="371.25" width="6.0" height="6.67" fill="#0000bb"/>
<rect x="439.1" y="371.25" width="3.0" height="6.67" fill="#0000bf"/>
<rect x="442.1" y="371.25" width="3.0" height="6.67" fill="#0000c7"/>
<rect x="445.1" y="371.25" width="3.0" height="6.67" fill="#0000cf"/>
<rect x="448.1" y="371.25" width="3.0" height="6.67" fill="#0000e3"/>
<rect x="451.1" y="371.25" width="3.0" height="6.67" fill="#0008ff"/>
<rect x="454.1" y="371.25" width="3.0" height="6.67" fill="#0050ff"/>
<rect x="457.1" y="371.25" width="3.0" height="6.67" fill="#00bfff"/>
<rect x="460.1" y="371.25" width="3.0" height="6.67" fill="#60ff9f"/>
<rect x="463.1" y="371.25" width="3.0" height="6.67" fill="#ffdf00"/>
<rect x="466.1" y="371.25" width="3.0" height="6.67" fill="#ff3000"/>
<rect x="469.1" y="371.25" width="3.0" height="6.67" fill="#cf0000"/>
<rect x="472.1" y="371.25" width="3.0" height="6.67" fill="#ef0000"/>
<rect x="475.1" y="371.25" width="3.0" height="6.67" fill="#ff6000"/>
<rect x="478.1" y="371.25" width="3.0" height="6.67" fill="#efff10"/>
<rect x="481.1" y="371.25" width="3.0" height="6.67" fill="#30ffcf"/>
<rect x="484.1" y="371.25" width="3.0" height="6.67" fill="#008fff"/>
<rect x="487.1" y="371.25" width="3.0" height="6.67" fill="#0020ff"/>
<rect x="490.1" y="371.25" width="3.0" height="6.67" fill="#0000db"/>
<rect x="493.1" y="371.25" width="3.0" height="6.67" fill="#0000bb"/>
<rect x="496.1" y="371.25" width="3.0" height="6.67" fill="#0000ab"/>
<rect x="499.1" y="371.25" width="3.0" height="6.67" fill="#0000a3"/>
<rect x="502.1" y="371.25" width="3.0" height="6.67" fill="#00009f"/>
<rect x="505.1" y="371.25" width="3.0" height="6.67" fill="#00009b"/>
<rect x="508.1" y="371.25" width="3.0" height="6.67" fill="#000097"/>
<rect x="418.1" y="377.32" width="6.0" height="6.67" fill="#0000bb"/>
<rect x="424.1" y="377.32" width="3.0" height="6.67" fill="#0000bf"/>
<rect x="427.1" y="377.32" width="3.0" height="6.67" fill="#0000c3"/>
<rect x="430.1" y="377.32" width="3.0" height="6.67" fill="#0000cb"/>
<rect x="433.1" y="377.32" width="3.0" height="6.67" fill="#0000db"/>
<rect x="436.1" y="377.32" width="3.0" height="6.67" fill="#0000fb"/>
<rect x="439.1" y="377.32" width="3.0" height="6.67" fill="#0030ff"/>
<rect x="442.1" y="377.32" width="3.0" height="6.67" fill="#009fff"/>
<rect x="445.1" y="377.32" width="3.0" height="6.67" fill="#50ffaf"/>
<rect x="448.1" y="377.32" width="3.0" height="6.67" fill="#ffbf00"/>
<rect x="451.1" y="377.32" width="3.0" height="6.67" fill="#cf0000"/>
<rect x="454.1" y="377.32" width="9.0" height="6.67" fill="#800000"/>
<rect x="463.1" y="377.32" width="3.0" height="6.67" fill="#ff3000"/>
<rect x="466.1" y="377.32" width="3.0" height="6.67" fill="#cfff30"/>
<rect x="469.1" y="377.32" width="3.0" height="6.67" fill="#00ffff"/>
<rect x="472.1" y="377.32" width="3.0" height="6.67" fill="#0060ff"/>
<rect x="475.1" y="377.32" width="3.0" height="6.67" fill="#0000fb"/>
<rect x="478.1" y="377.32" width="3.0" height="6.67" fill="#0000c7"/>
<rect x="481.1" y="377.32" width="3.0" height="6.67" fill="#0000af"/>
<rect x="484.1" y="377.32" width="3.0" height="6.67" fill="#0000a7"/>
<rect x="487.1" y="377.32" width="6.0" height="6.67" fill="#00009f"/>
<rect x="493.1" y="377.32" width="6.0" height="6.67" fill="#00009b"/>
<rect x="400.1" y="383.39" width="3.0" height="6.67" fill="#0000b7"/>
<rect x="403.1" y="383.39" width="3.0" height="6.67" fill="#0000bb"/>
<rect x="406.1" y="383.39" width="3.0" height="6.67" fill="#0000bf"/>
<rect x="409.1" y="383.39" width="3.0" height="6.67" fill="#0000c3"/>
<rect x="412.1" y="383.39" width="3.0" height="6.67" fill="#0000c7"/>
<rect x="415.1" y="383.39" width="3.0" height="6.67" fill="#0000cf"/>
<rect x="418.1" y="383.39" width="3.0" height="6.67" fill="#0000df"/>
<rect x="421.1" y="383.39" width="3.0" height="6.67" fill="#0004ff"/>
<rect x="424.1" y="383.39" width="3.0" height="6.67" fill="#0040ff"/>
<rect x="427.1" y="383.39" width="3.0" height="6.67" fill="#00bfff"/>
<rect x="430.1" y="383.39" width="3.0" height="6.67" fill="#8fff70"/>
<rect x="433.1" y="383.39" width="3.0" height="6.67" fill="#ff5000"/>
<rect x="436.1" y="383.39" width="15.0" height="6.67" fill="#800000"/>
<rect x="451.1" y="383.39" width="3.0" height="6.67" fill="#ff8000"/>
<rect x="454.1" y="383.39" width="3.0" height="6.67" fill="#70ff8f"/>
<rect x="457.1" y="383.39" width="3.0" height="6.67" fill="#009fff"/>
<rect x="460.1" y="383.39" width="3.0" height="6.67" fill="#0020ff"/>
<rect x="463.1" y="383.39" width="3.0" height="6.67" fill="#0000db"/>
<rect x="466.1" y="383.39" width="3.0" height="6.67" fill="#0000bb"/>
<rect x="469.1" y="383.39" width="3.0" height="6.67" fill="#0000ab"/>
<rect x="472.1" y="383.39" width="3.0" height="6.67" fill="#0000a3"/>
<rect x="475.1" y="383.39" width="3.0" height="6.67" fill="#00009f"/>
<rect x="478.1" y="383.39" width="6.0" height="6.67" fill="#00009b"/>
<rect x="484.1" y="383.39" width="3.0" height="6.67" fill="#000097"/>
<rect x="385.1" y="389.46" width="6.0" height="6.67" fill="#0000bb"/>
<rect x="391.1" y="389.46" width="3.0" height="6.67" fill="#0000bf"/>
<rect x="394.1" y="389.46" width="3.0" height="6.67" fill="#0000c3"/>
<rect x="397.1" y="389.46" width="3.0" height="6.67" fill="#0000c7"/>
<rect x="400.1" y="389.46" width="3.0" height="6.67" fill="#0000d3"/>
<rect x="403.1" y="389.46" width="3.0" height="6.67" fill="#0000e3"/>
<rect x="406.1" y="389.46" width="3.0" height="6.67" fill="#0008ff"/>
<rect x="409.1" y="389.46" width="3.0" height="6.67" fill="#0050ff"/>
<rect x="412.1" y="389.46" width="3.0" height="6.67" fill="#00cfff"/>
<rect x="415.1" y="389.46" width="3.0" height="6.67" fill="#afff50"/>
<rect x="418.1" y="389.46" width="3.0" height="6.67" fill="#ff1000"/>
<rect x="421.1" y="389.46" width="15.0" height="6.67" fill="#800000"/>
<rect x="436.1" y="389.46" width="3.0" height="6.67" fill="#8f0000"/>
<rect x="439.1" y="389.46" width="3.0" height="6.67" fill="#ffdf00"/>
<rect x="442.1" y="389.46" width="3.0" height="6.67" fill="#10ffef"/>
<rect x="445.1" y="389.46" width="3.0" height="6.67" fill="#0060ff"/>
<rect x="448.1" y="389.46" width="3.0" height="6.67" fill="#0000fb"/>
<rect x="451.1" y="389.46" width="3.0" height="6.67" fill="#0000cb"/>
<rect x="454.1" y="389.46" width="3.0" height="6.67" fill="#0000b3"/>
<rect x="457.1" y="389.46" width="3.0" height="6.67" fill="#0000ab"/>
<rect x="460.1" y="389.46" width="3.0" height="6.67" fill="#0000a3"/>
<rect x="463.1" y="389.46" width="3.0" height="6.67" fill="#00009f"/>
<rect x="466.1" y="389.46" width="6.0" height="6.67" fill="#00009b"/>
<rect x="472.1" y="389.46" width="3.0" height="6.67" fill="#000097"/>
<rect x="370.1" y="395.53" width="3.0" height="6.67" fill="#0000b7"/>
<rect x="373.1" y="395.53" width="3.0" height="6.67" fill="#0000bb"/>
<rect x="376.1" y="395.53" width="6.0" height="6.67" fill="#0000bf"/>
<rect x="382.1" y="395.53" width="3.0" height="6.67" fill="#0000c7"/>
<rect x="385.1" y="395.53" width="3.0" height="6.67" fill="#0000cb"/>
<rect x="388.1" y="395.53" width="3.0" height="6.67" fill="#0000d7"/>
<rect x="391.1" y="395.53" width="3.0" height="6.67" fill="#0000eb"/>
<rect x="394.1" y="395.53" width="3.0" height="6.67" fill="#0010ff"/>
<rect x="397.1" y="395.53" width="3.0" height="6.67" fill="#0070ff"/>
<rect x="400.1" y="395.53" width="3.0" height="6.67" fill="#00ffff"/>
<rect x="403.1" y="395.53" width="3.0" height="6.67" fill="#ffff00"/>
<rect x="406.1" y="395.53" width="3.0" height="6.67" fill="#9f0000"/>
<rect x="409.1" y="395.53" width="18.0" height="6.67" fill="#800000"/>
<rect x="427.1" y="395.53" width="3.0" height="6.67" fill="#ffdf00"/>
<rect x="430.1" y="395.53" width="3.0" height="6.67" fill="#10ffef"/>
<rect x="433.1" y="395.53" width="3.0" height="6.67" fill="#0060ff"/>
<rect x="436.1" y="395.53" width="3.0" height="6.67" fill="#0000fb"/>
<rect x="439.1" y="395.53" width="3.0" height="6.67" fill="#0000cb"/>
<rect x="442.1" y="395.53" width="3.0" height="6.67" fill="#0000b3"/>
<rect x="445.1" y="395.53" width="3.0" height="6.67" fill="#0000ab"/>
<rect x="448.1" y="395.53" width="3.0" height="6.67" fill="#0000a3"/>
<rect x="451.1" y="395.53" width="6.0" height="6.67" fill="#00009f"/>
<rect x="457.1" y="395.53" width="3.0" height="6.67" fill="#00009b"/>
<rect x="460.1" y="395.53" width="3.0" height="6.67" fill="#000097"/>
<rect x="358.1" y="401.60" width="3.0" height="6.67" fill="#0000b7"/>
<rect x="361.1" y="401.60" width="3.0" height="6.67" fill="#0000bb"/>
<rect x="364.1" y="401.60" width="3.0" height="6.67" fill="#0000bf"/>
<rect x="367.1" y="401.60" width="3.0" height="6.67" fill="#0000c3"/>
<rect x="370.1" y="401.60" width="3.0" height="6.67" fill="#0000c7"/>
<rect x="373.1" y="401.60" width="3.0" height="6.67" fill="#0000cf"/>
<rect x="376.1" y="401.60" width="3.0" height="6.67" fill="#0000d7"/>
<rect x="379.1" y="401.60" width="3.0" height="6.67" fill="#0000ef"/>
<rect x="382.1" y="401.60" width="3.0" height="6.67" fill="#0020ff"/>
<rect x="385.1" y="401.60" width="3.0" height="6.67" fill="#0080ff"/>
<rect x="388.1" y="401.60" width="3.0" height="6.67" fill="#30ffcf"/>
<rect x="391.1" y="401.60" width="3.0" height="6.67" fill="#ffbf00"/>
<rect x="394.1" y="401.60" width="21.0" height="6.67" fill="#800000"/>
<rect x="415.1" y="401.60" width="3.0" height="6.67" fill="#ffbf00"/>
<rect x="418.1" y="401.60" width="3.0" height="6.67" fill="#20ffdf"/>
<rect x="421.1" y="401.60" width="3.0" height="6.67" fill="#0070ff"/>
<rect x="424.1" y="401.60" width="3.0" height="6.67" fill="#0000ff"/>
<rect x="427.1" y="401.60" width="3.0" height="6.67" fill="#0000cf"/>
<rect x="430.1" y="401.60" width="3.0" height="6.67" fill="#0000b7"/>
<rect x="433.1" y="401.60" width="3.0" height="6.67" fill="#0000ab"/>
<rect x="436.1" y="401.60" width="3.0" height="6.67" fill="#0000a7"/>
<rect x="439.1" y="401.60" width="6.0" height="6.67" fill="#00009f"/>
<rect x="445.1" y="401.60" width="3.0" height="6.67" fill="#00009b"/>
<rect x="448.1" y="401.60" width="3.0" height="6.67" fill="#000097"/>
<rect x="346.1" y="407.67" width="3.0" height="6.67" fill="#0000b7"/>
<rect x="349.1" y="407.67" width="3.0" height="6.67" fill="#0000bb"/>
<rect x="352.1" y="407.67" width="3.0" height="6.67" fill="#0000bf"/>
<rect x="355.1" y="407.67" width="3.0" height="6.67" fill="#0000c3"/>
<rect x="358.1" y="407.67" width="3.0" height="6.67" fill="#0000c7"/>
<rect x="361.1" y="407.67" width="3.0" height="6.67" fill="#0000cf"/>
<rect x="364.1" y="407.67" width="3.0" height="6.67" fill="#0000db"/>
<rect x="367.1" y="407.67" width="3.0" height="6.67" fill="#0000f3"/>
<rect x="370.1" y="407.67" width="3.0" height="6.67" fill="#0020ff"/>
<rect x="373.1" y="407.67" width="3.0" height="6.67" fill="#008fff"/>
<rect x="376.1" y="407.67" width="3.0" height="6.67" fill="#40ffbf"/>
<rect x="379.1" y="407.67" width="3.0" height="6.67" fill="#ff9f00"/>
<rect x="382.1" y="407.67" width="21.0" height="6.67" fill="#800000"/>
<rect x="403.1" y="407.67" width="3.0" height="6.67" fill="#ff7000"/>
<rect x="406.1" y="407.67" width="3.0" height="6.67" fill="#50ffaf"/>
<rect x="409.1" y="407.67" width="3.0" height="6.67" fill="#0080ff"/>
<rect x="412.1" y="407.67" width="3.0" height="6.67" fill="#0010ff"/>
<rect x="415.1" y="407.67" width="3.0" height="6.67" fill="#0000d3"/>
<rect x="418.1" y="407.67" width="3.0" height="6.67" fill="#0000bb"/>
<rect x="421.1" y="407.67" width="3.0" height="6.67" fill="#0000af"/>
<rect x="424.1" y="407.67" width="3.0" height="6.67" fill="#0000a7"/>
<rect x="427.1" y="407.67" width="3.0" height="6.67" fill="#0000a3"/>
<rect x="430.1" y="407.67" width="3.0" height="6.67" fill="#00009f"/>
<rect x="433.1" y="407.67" width="6.0" height="6.67" fill="#00009b"/>
<rect x="334.1" y="413.74" width="3.0" height="6.67" fill="#0000b7"/>
<rect x="337.1" y="413.74" width="3.0" height="6.67" fill="#0000bb"/>
<rect x="340.1" y="413.74" width="3.0" height="6.67" fill="#0000bf"/>
<rect x="343.1" y="413.74" width="3.0" height="6.67" fill="#0000c3"/>
<rect x="346.1" y="413.74" width="3.0" height="6.67" fill="#0000c7"/>
<rect x="349.1" y="413.74" width="3.0" height="6.67" fill="#0000cf"/>
<rect x="352.1" y="413.74" width="3.0" height="6.67" fill="#0000db"/>
<rect x="355.1" y="413.74" width="3.0" height="6.67" fill="#0000f3"/>
<rect x="358.1" y="413.74" width="3.0" height="6.67" fill="#0020ff"/>
<rect x="361.1" y="413.74" width="3.0" height="6.67" fill="#0080ff"/>
<rect x="364.1" y="413.74" width="3.0" height="6.67" fill="#40ffbf"/>
<rect x="367.1" y="413.74" width="3.0" height="6.67" fill="#ff9f00"/>
<rect x="370.1" y="413.74" width="21.0" height="6.67" fill="#800000"/>
<rect x="391.1" y="413.74" width="3.0" height="6.67" fill="#ff0000"/>
<rect x="394.1" y="413.74" width="3.0" height="6.67" fill="#9fff60"/>
<rect x="397.1" y="413.74" width="3.0" height="6.67" fill="#00afff"/>
<rect x="400.1" y="413.74" width="3.0" height="6.67" fill="#0030ff"/>
<rect x="403.1" y="413.74" width="3.0" height="6.67" fill="#0000e3"/>
<rect x="406.1" y="413.74" width="3.0" height="6.67" fill="#0000bf"/>
<rect x="409.1" y="413.74" width="3.0" height="6.67" fill="#0000af"/>
<rect x="412.1" y="413.74" width="3.0" height="6.67" fill="#0000a7"/>
<rect x="415.1" y="413.74" width="3.0" height="6.67" fill="#0000a3"/>
<rect x="418.1" y="413.74" width="3.0" height="6.67" fill="#00009f"/>
<rect x="421.1" y="413.74" width="6.0" height="6.67" fill="#00009b"/>
<rect x="322.1" y="419.81" width="3.0" height="6.67" fill="#0000b7"/>
<rect x="325.1" y="419.81" width="3.0" height="6.67" fill="#0000bb"/>
<rect x="328.1" y="419.81" width="3.0" height="6.67" fill="#0000bf"/>
<rect x="331.1" y="419.81" width="3.0" height="6.67" fill="#0000c3"/>
<rect x="334.1" y="419.81" width="3.0" height="6.67" fill="#0000c7"/>
<rect x="337.1" y="419.81" width="3.0" height="6.67" fill="#0000cf"/>
<rect x="340.1" y="419.81" width="3.0" height="6.67" fill="#0000db"/>
<rect x="343.1" y="419.81" width="3.0" height="6.67" fill="#0000f7"/>
<rect x="346.1" y="419.81" width="3.0" height="6.67" fill="#0030ff"/>
<rect x="349.1" y="419.81" width="3.0" height="6.67" fill="#009fff"/>
<rect x="352.1" y="419.81" width="3.0" height="6.67" fill="#60ff9f"/>
<rect x="355.1" y="419.81" width="3.0" height="6.67" fill="#ff6000"/>
<rect x="358.1" y="419.81" width="21.0" height="6.67" fill="#800000"/>
<rect x="379.1" y="419.81" width="3.0" height="6.67" fill="#bf0000"/>
<rect x="382.1" y="419.81" width="3.0" height="6.67" fill="#bfff40"/>
<rect x="385.1" y="419.81" width="3.0" height="6.67" fill="#00bfff"/>
<rect x="388.1" y="419.81" width="3.0" height="6.67" fill="#0030ff"/>
<rect x="391.1" y="419.81" width="3.0" height="6.67" fill="#0000e3"/>
<rect x="394.1" y="419.81" width="3.0" height="6.67" fill="#0000c3"/>
<rect x="397.1" y="419.81" width="3.0" height="6.67" fill="#0000b3"/>
<rect x="400.1" y="419.81" width="3.0" height="6.67" fill="#0000a7"/>
<rect x="403.1" y="419.81" width="3.0" height="6.67" fill="#0000a3"/>
<rect x="406.1" y="419.81" width="3.0" height="6.67" fill="#00009f"/>
<rect x="409.1" y="419.81" width="6.0" height="6.67" fill="#00009b"/>
<rect x="310.1" y="425.88" width="3.0" height="6.67" fill="#0000b7"/>
<rect x="313.1" y="425.88" width="3.0" height="6.67" fill="#0000bb"/>
<rect x="316.1" y="425.88" width="3.0" height="6.67" fill="#0000bf"/>
<rect x="319.1" y="425.88" width="3.0" height="6.67" fill="#0000c3"/>
<rect x="322.1" y="425.88" width="3.0" height="6.67" fill="#0000c7"/>
<rect x="325.1" y="425.88" width="3.0" height="6.67" fill="#0000cf"/>
<rect x="328.1" y="425.88" width="3.0" height="6.67" fill="#0000db"/>
<rect x="331.1" y="425.88" width="3.0" height="6.67" fill="#0000f7"/>
<rect x="334.1" y="425.88" width="3.0" height="6.67" fill="#0030ff"/>
<rect x="337.1" y="425.88" width="3.0" height="6.67" fill="#009fff"/>
<rect x="340.1" y="425.88" width="3.0" height="6.67" fill="#70ff8f"/>
<rect x="343.1" y="425.88" width="3.0" height="6.67" fill="#ff4000"/>
<rect x="346.1" y="425.88" width="24.0" height="6.67" fill="#800000"/>
<rect x="370.1" y="425.88" width="3.0" height="6.67" fill="#ffff00"/>
<rect x="373.1" y="425.88" width="3.0" height="6.67" fill="#00dfff"/>
<rect x="376.1" y="425.88" width="3.0" height="6.67" fill="#0040ff"/>
<rect x="379.1" y="425.88" width="3.0" height="6.67" fill="#0000eb"/>
<rect x="382.1" y="425.88" width="3.0" height="6.67" fill="#0000c3"/>
<rect x="385.1" y="425.88" width="3.0" height="6.67" fill="#0000b3"/>
<rect x="388.1" y="425.88" width="3.0" height="6.67" fill="#0000ab"/>
<rect x="391.1" y="425.88" width="3.0" height="6.67" fill="#0000a3"/>
<rect x="394.1" y="425.88" width="3.0" height="6.67" fill="#00009f"/>
<rect x="397.1" y="425.88" width="6.0" height="6.67" fill="#00009b"/>
<rect x="298.1" y="431.95" width="3.0" height="6.67" fill="#0000b7"/>
<rect x="301.1" y="431.95" width="3.0" height="6.67" fill="#0000bb"/>
<rect x="304.1" y="431.95" width="3.0" height="6.67" fill="#0000bf"/>
<rect x="307.1" y="431.95" width="3.0" height="6.67" fill="#0000c3"/>
<rect x="310.1" y="431.95" width="3.0" height="6.67" fill="#0000c7"/>
<rect x="313.1" y="431.95" width="3.0" height="6.67" fill="#0000cf"/>
<rect x="316.1" y="431.95" width="3.0" height="6.67" fill="#0000db"/>
<rect x="319.1" y="431.95" width="3.0" height="6.67" fill="#0000f7"/>
<rect x="322.1" y="431.95" width="3.0" height="6.67" fill="#0030ff"/>
<rect x="325.1" y="431.95" width="3.0" height="6.67" fill="#009fff"/>
<rect x="328.1" y="431.95" width="3.0" height="6.67" fill="#70ff8f"/>
<rect x="331.1" y="431.95" width="3.0" height="6.67" fill="#ff5000"/>
<rect x="334.1" y="431.95" width="24.0" height="6.67" fill="#800000"/>
<rect x="358.1" y="431.95" width="3.0" height="6.67" fill="#ffaf00"/>
<rect x="361.1" y="431.95" width="3.0" height="6.67" fill="#20ffdf"/>
<rect x="364.1" y="431.95" width="3.0" height="6.67" fill="#0060ff"/>
<rect x="367.1" y="431.95" width="3.0" height="6.67" fill="#0000fb"/>
<rect x="370.1" y="431.95" width="3.0" height="6.67" fill="#0000cb"/>
<rect x="373.1" y="431.95" width="3.0" height="6.67" fill="#0000b7"/>
<rect x="376.1" y="431.95" width="3.0" height="6.67" fill="#0000ab"/>
<rect x="379.1" y="431.95" width="3.0" height="6.67" fill="#0000a3"/>
<rect x="382.1" y="431.95" width="6.0" height="6.67" fill="#00009f"/>
<rect x="388.1" y="431.95" width="3.0" height="6.67" fill="#00009b"/>
<rect x="391.1" y="431.95" width="3.0" height="6.67" fill="#000097"/>
<rect x="286.1" y="438.02" width="3.0" height="6.67" fill="#0000b7"/>
<rect x="289.1" y="438.02" width="3.0" height="6.67" fill="#0000bb"/>
<rect x="292.1" y="438.02" width="3.0" height="6.67" fill="#0000bf"/>
<rect x="295.1" y="438.02" width="3.0" height="6.67" fill="#0000c3"/>
<rect x="298.1" y="438.02" width="3.0" height="6.67" fill="#0000c7"/>
<rect x="301.1" y="438.02" width="3.0" height="6.67" fill="#0000cf"/>
<rect x="304.1" y="438.02" width="3.0" height="6.67" fill="#0000db"/>
<rect x="307.1" y="438.02" width="3.0" height="6.67" fill="#0000f3"/>
<rect x="310.1" y="438.02" width="3.0" height="6.67" fill="#0030ff"/>
<rect x="313.1" y="438.02" width="3.0" height="6.67" fill="#008fff"/>
<rect x="316.1" y="438.02" width="3.0" height="6.67" fill="#50ffaf"/>
<rect x="319.1" y="438.02" width="3.0" height="6.67" fill="#ff8000"/>
<rect x="322.1" y="438.02" width="24.0" height="6.67" fill="#800000"/>
<rect x="346.1" y="438.02" width="3.0" height="6.67" fill="#ff4000"/>
<rect x="349.1" y="438.02" width="3.0" height="6.67" fill="#70ff8f"/>
<rect x="352.1" y="438.02" width="3.0" height="6.67" fill="#008fff"/>
<rect x="355.1" y="438.02" width="3.0" height="6.67" fill="#0010ff"/>
<rect x="358.1" y="438.02" width="3.0" height="6.67" fill="#0000d7"/>
<rect x="361.1" y="438.02" width="3.0" height="6.67" fill="#0000bb"/>
<rect x="364.1" y="438.02" width="3.0" height="6.67" fill="#0000af"/>
<rect x="367.1" y="438.02" width="3.0" height="6.67" fill="#0000a7"/>
<rect x="370.1" y="438.02" width="3.0" height="6.67" fill="#0000a3"/>
<rect x="373.1" y="438.02" width="3.0" height="6.67" fill="#00009f"/>
<rect x="376.1" y="438.02" width="3.0" height="6.67" fill="#00009b"/>
<rect x="379.1" y="438.02" width="3.0" height="6.67" fill="#000097"/>
<rect x="277.1" y="444.09" width="3.0" height="6.67" fill="#0000b7"/>
<rect x="280.1" y="444.09" width="3.0" height="6.67" fill="#0000bb"/>
<rect x="283.1" y="444.09" width="3.0" height="6.67" fill="#0000bf"/>
<rect x="286.1" y="444.09" width="3.0" height="6.67" fill="#0000c3"/>
<rect x="289.1" y="444.09" width="3.0" height="6.67" fill="#0000cb"/>
<rect x="292.1" y="444.09" width="3.0" height="6.67" fill="#0000d7"/>
<rect x="295.1" y="444.09" width="3.0" height="6.67" fill="#0000eb"/>
<rect x="298.1" y="444.09" width="3.0" height="6.67" fill="#0010ff"/>
<rect x="301.1" y="444.09" width="3.0" height="6.67" fill="#0070ff"/>
<rect x="304.1" y="444.09" width="3.0" height="6.67" fill="#00ffff"/>
<rect x="307.1" y="444.09" width="3.0" height="6.67" fill="#ffff00"/>
<rect x="310.1" y="444.09" width="27.0" height="6.67" fill="#800000"/>
<rect x="337.1" y="444.09" width="3.0" height="6.67" fill="#ffef00"/>
<rect x="340.1" y="444.09" width="3.0" height="6.67" fill="#00ffff"/>
<rect x="343.1" y="444.09" width="3.0" height="6.67" fill="#0050ff"/>
<rect x="346.1" y="444.09" width="3.0" height="6.67" fill="#0000f7"/>
<rect x="349.1" y="444.09" width="3.0" height="6.67" fill="#0000c7"/>
<rect x="352.1" y="444.09" width="3.0" height="6.67" fill="#0000b3"/>
<rect x="355.1" y="444.09" width="3.0" height="6.67" fill="#0000ab"/>
<rect x="358.1" y="444.09" width="3.0" height="6.67" fill="#0000a3"/>
<rect x="361.1" y="444.09" width="3.0" height="6.67" fill="#00009f"/>
<rect x="364.1" y="444.09" width="6.0" height="6.67" fill="#00009b"/>
<rect x="265.1" y="450.16" width="3.0" height="6.67" fill="#0000b7"/>
<rect x="268.1" y="450.16" width="3.0" height="6.67" fill="#0000bb"/>
<rect x="271.1" y="450.16" width="3.0" height="6.67" fill="#0000bf"/>
<rect x="274.1" y="450.16" width="3.0" height="6.67" fill="#0000c3"/>
<rect x="277.1" y="450.16" width="3.0" height="6.67" fill="#0000c7"/>
<rect x="280.1" y="450.16" width="3.0" height="6.67" fill="#0000cf"/>
<rect x="283.1" y="450.16" width="3.0" height="6.67" fill="#0000df"/>
<rect x="286.1" y="450.16" width="3.0" height="6.67" fill="#0000ff"/>
<rect x="289.1" y="450.16" width="3.0" height="6.67" fill="#0040ff"/>
<rect x="292.1" y="450.16" width="3.0" height="6.67" fill="#00bfff"/>
<rect x="295.1" y="450.16" width="3.0" height="6.67" fill="#80ff80"/>
<rect x="298.1" y="450.16" width="3.0" height="6.67" fill="#ff4000"/>
<rect x="301.1" y="450.16" width="24.0" height="6.67" fill="#800000"/>
<rect x="325.1" y="450.16" width="3.0" height="6.67" fill="#ff1000"/>
<rect x="328.1" y="450.16" width="3.0" height="6.67" fill="#9fff60"/>
<rect x="331.1" y="450.16" width="3.0" height="6.67" fill="#00afff"/>
<rect x="334.1" y="450.16" width="3.0" height="6.67" fill="#0030ff"/>
<rect x="337.1" y="450.16" width="3.0" height="6.67" fill="#0000e3"/>
<rect x="340.1" y="450.16" width="3.0" height="6.67" fill="#0000bf"/>
<rect x="343.1" y="450.16" width="3.0" height="6.67" fill="#0000af"/>
<rect x="346.1" y="450.16" width="3.0" height="6.67" fill="#0000a7"/>
<rect x="349.1" y="450.16" width="3.0" height="6.67" fill="#0000a3"/>
<rect x="352.1" y="450.16" width="3.0" height="6.67" fill="#00009f"/>
<rect x="355.1" y="450.16" width="3.0" height="6.67" fill="#00009b"/>
<rect x="358.1" y="450.16" width="3.0" height="6.67" fill="#000097"/>
<rect x="256.1" y="456.23" width="3.0" height="6.67" fill="#0000b7"/>
<rect x="259.1" y="456.23" width="3.0" height="6.67" fill="#0000bb"/>
<rect x="262.1" y="456.23" width="3.0" height="6.67" fill="#0000bf"/>
<rect x="265.1" y="456.23" width="3.0" height="6.67" fill="#0000c3"/>
<rect x="268.1" y="456.23" width="3.0" height="6.67" fill="#0000cb"/>
<rect x="271.1" y="456.23" width="3.0" height="6.67" fill="#0000d7"/>
<rect x="274.1" y="456.23" width="3.0" height="6.67" fill="#0000eb"/>
<rect x="277.1" y="456.23" width="3.0" height="6.67" fill="#0020ff"/>
<rect x="280.1" y="456.23" width="3.0" height="6.67" fill="#0070ff"/>
<rect x="283.1" y="456.23" width="3.0" height="6.67" fill="#10ffef"/>
<rect x="286.1" y="456.23" width="3.0" height="6.67" fill="#ffef00"/>
<rect x="289.1" y="456.23" width="3.0" height="6.67" fill="#8f0000"/>
<rect x="292.1" y="456.23" width="24.0" height="6.67" fill="#800000"/>
<rect x="316.1" y="456.23" width="3.0" height="6.67" fill="#ff7000"/>
<rect x="319.1" y="456.23" width="3.0" height="6.67" fill="#50ffaf"/>
<rect x="322.1" y="456.23" width="3.0" height="6.67" fill="#008fff"/>
<rect x="325.1" y="456.23" width="3.0" height="6.67" fill="#0010ff"/>
<rect x="328.1" y="456.23" width="3.0" height="6.67" fill="#0000d7"/>
<rect x="331.1" y="456.23" width="3.0" height="6.67" fill="#0000bb"/>
<rect x="334.1" y="456.23" width="3.0" height="6.67" fill="#0000ab"/>
<rect x="337.1" y="456.23" width="3.0" height="6.67" fill="#0000a3"/>
<rect x="340.1" y="456.23" width="3.0" height="6.67" fill="#00009f"/>
<rect x="343.1" y="456.23" width="6.0" height="6.67" fill="#00009b"/>
<rect x="247.1" y="462.30" width="3.0" height="6.67" fill="#0000b7"/>
<rect x="250.1" y="462.30" width="3.0" height="6.67" fill="#0000bb"/>
<rect x="253.1" y="462.30" width="3.0" height="6.67" fill="#0000bf"/>
<rect x="256.1" y="462.30" width="3.0" height="6.67" fill="#0000c7"/>
<rect x="259.1" y="462.30" width="3.0" height="6.67" fill="#0000cf"/>
<rect x="262.1" y="462.30" width="3.0" height="6.67" fill="#0000db"/>
<rect x="265.1" y="462.30" width="3.0" height="6.67" fill="#0000fb"/>
<rect x="268.1" y="462.30" width="3.0" height="6.67" fill="#0030ff"/>
<rect x="271.1" y="462.30" width="3.0" height="6.67" fill="#009fff"/>
<rect x="274.1" y="462.30" width="3.0" height="6.67" fill="#60ff9f"/>
<rect x="277.1" y="462.30" width="3.0" height="6.67" fill="#ff8000"/>
<rect x="280.1" y="462.30" width="27.0" height="6.67" fill="#800000"/>
<rect x="307.1" y="462.30" width="3.0" height="6.67" fill="#ffbf00"/>
<rect x="310.1" y="462.30" width="3.0" height="6.67" fill="#20ffdf"/>
<rect x="313.1" y="462.30" width="3.0" height="6.67" fill="#0070ff"/>
<rect x="316.1" y="462.30" width="3.0" height="6.67" fill="#0008ff"/>
<rect x="319.1" y="462.30" width="3.0" height="6.67" fill="#0000d3"/>
<rect x="322.1" y="462.30" width="3.0" height="6.67" fill="#0000b7"/>
<rect x="325.1" y="462.30" width="3.0" height="6.67" fill="#0000ab"/>
<rect x="328.1" y="462.30" width="3.0" height="6.67" fill="#0000a3"/>
<rect x="331.1" y="462.30" width="3.0" height="6.67" fill="#00009f"/>
<rect x="334.1" y="462.30" width="6.0" height="6.67" fill="#00009b"/>
<rect x="235.1" y="468.37" width="3.0" height="6.67" fill="#0000b7"/>
<rect x="238.1" y="468.37" width="3.0" height="6.67" fill="#0000bb"/>
<rect x="241.1" y="468.37" width="3.0" height="6.67" fill="#0000bf"/>
<rect x="244.1" y="468.37" width="3.0" height="6.67" fill="#0000c3"/>
<rect x="247.1" y="468.37" width="3.0" height="6.67" fill="#0000c7"/>
<rect x="250.1" y="468.37" width="3.0" height="6.67" fill="#0000d3"/>
<rect x="253.1" y="468.37" width="3.0" height="6.67" fill="#0000e7"/>
<rect x="256.1" y="468.37" width="3.0" height="6.67" fill="#0010ff"/>
<rect x="259.1" y="468.37" width="3.0" height="6.67" fill="#0060ff"/>
<rect x="262.1" y="468.37" width="3.0" height="6.67" fill="#00efff"/>
<rect x="265.1" y="468.37" width="3.0" height="6.67" fill="#cfff30"/>
<rect x="268.1" y="468.37" width="3.0" height="6.67" fill="#ef0000"/>
<rect x="271.1" y="468.37" width="24.0" height="6.67" fill="#800000"/>
<rect x="295.1" y="468.37" width="3.0" height="6.67" fill="#9f0000"/>
<rect x="298.1" y="468.37" width="3.0" height="6.67" fill="#ffff00"/>
<rect x="301.1" y="468.37" width="3.0" height="6.67" fill="#00efff"/>
<rect x="304.1" y="468.37" width="3.0" height="6.67" fill="#0050ff"/>
<rect x="307.1" y="468.37" width="3.0" height="6.67" fill="#0000fb"/>
<rect x="310.1" y="468.37" width="3.0" height="6.67" fill="#0000cb"/>
<rect x="313.1" y="468.37" width="3.0" height="6.67" fill="#0000b3"/>
<rect x="316.1" y="468.37" width="3.0" height="6.67" fill="#0000a7"/>
<rect x="319.1" y="468.37" width="3.0" height="6.67" fill="#0000a3"/>
<rect x="322.1" y="468.37" width="3.0" height="6.67" fill="#00009f"/>
<rect x="325.1" y="468.37" width="3.0" height="6.67" fill="#00009b"/>
<rect x="328.1" y="468.37" width="3.0" height="6.67" fill="#000097"/>
<rect x="226.1" y="474.44" width="3.0" height="6.67" fill="#0000b7"/>
<rect x="229.1" y="474.44" width="3.0" height="6.67" fill="#0000bb"/>
<rect x="232.1" y="474.44" width="3.0" height="6.67" fill="#0000bf"/>
<rect x="235.1" y="474.44" width="3.0" height="6.67" fill="#0000c3"/>
<rect x="238.1" y="474.44" width="3.0" height="6.67" fill="#0000cb"/>
<rect x="241.1" y="474.44" width="3.0" height="6.67" fill="#0000d7"/>
<rect x="244.1" y="474.44" width="3.0" height="6.67" fill="#0000f3"/>
<rect x="247.1" y="474.44" width="3.0" height="6.67" fill="#0020ff"/>
<rect x="250.1" y="474.44" width="3.0" height="6.67" fill="#0080ff"/>
<rect x="253.1" y="474.44" width="3.0" height="6.67" fill="#30ffcf"/>
<rect x="256.1" y="474.44" width="3.0" height="6.67" fill="#ffdf00"/>
<rect x="259.1" y="474.44" width="27.0" height="6.67" fill="#800000"/>
<rect x="286.1" y="474.44" width="3.0" height="6.67" fill="#df0000"/>
<rect x="289.1" y="474.44" width="3.0" height="6.67" fill="#cfff30"/>
<rect x="292.1" y="474.44" width="3.0" height="6.67" fill="#00dfff"/>
<rect x="295.1" y="474.44" width="3.0" height="6.67" fill="#0050ff"/>
<rect x="298.1" y="474.44" width="3.0" height="6.67" fill="#0000f3"/>
<rect x="301.1" y="474.44" width="3.0" height="6.67" fill="#0000c7"/>
<rect x="304.1" y="474.44" width="3.0" height="6.67" fill="#0000b3"/>
<rect x="307.1" y="474.44" width="3.0" height="6.67" fill="#0000a7"/>
<rect x="310.1" y="474.44" width="3.0" height="6.67" fill="#0000a3"/>
<rect x="313.1" y="474.44" width="3.0" height="6.67" fill="#00009f"/>
<rect x="316.1" y="474.44" width="3.0" height="6.67" fill="#00009b"/>
<rect x="319.1" y="474.44" width="3.0" height="6.67" fill="#000097"/>
<rect x="217.1" y="480.51" width="3.0" height="6.67" fill="#0000b7"/>
<rect x="220.1" y="480.51" width="3.0" height="6.67" fill="#0000bb"/>
<rect x="223.1" y="480.51" width="3.0" height="6.67" fill="#0000bf"/>
<rect x="226.1" y="480.51" width="3.0" height="6.67" fill="#0000c3"/>
<rect x="229.1" y="480.51" width="3.0" height="6.67" fill="#0000cf"/>
<rect x="232.1" y="480.51" width="3.0" height="6.67" fill="#0000df"/>
<rect x="235.1" y="480.51" width="3.0" height="6.67" fill="#0000fb"/>
<rect x="238.1" y="480.51" width="3.0" height="6.67" fill="#0040ff"/>
<rect x="241.1" y="480.51" width="3.0" height="6.67" fill="#00afff"/>
<rect x="244.1" y="480.51" width="3.0" height="6.67" fill="#60ff9f"/>
<rect x="247.1" y="480.51" width="3.0" height="6.67" fill="#ff8f00"/>
<rect x="250.1" y="480.51" width="27.0" height="6.67" fill="#800000"/>
<rect x="277.1" y="480.51" width="3.0" height="6.67" fill="#ef0000"/>
<rect x="280.1" y="480.51" width="3.0" height="6.67" fill="#bfff40"/>
<rect x="283.1" y="480.51" width="3.0" height="6.67" fill="#00cfff"/>
<rect x="286.1" y="480.51" width="3.0" height="6.67" fill="#0040ff"/>
<rect x="289.1" y="480.51" width="3.0" height="6.67" fill="#0000f3"/>
<rect x="292.1" y="480.51" width="3.0" height="6.67" fill="#0000c7"/>
<rect x="295.1" y="480.51" width="3.0" height="6.67" fill="#0000b3"/>
<rect x="298.1" y="480.51" width="3.0" height="6.67" fill="#0000a7"/>
<rect x="301.1" y="480.51" width="6.0" height="6.67" fill="#00009f"/>
<rect x="307.1" y="480.51" width="3.0" height="6.67" fill="#00009b"/>
<rect x="208.1" y="486.58" width="3.0" height="6.67" fill="#0000b7"/>
<rect x="211.1" y="486.58" width="3.0" height="6.67" fill="#0000bb"/>
<rect x="214.1" y="486.58" width="3.0" height="6.67" fill="#0000bf"/>
<rect x="217.1" y="486.58" width="3.0" height="6.67" fill="#0000c7"/>
<rect x="220.1" y="486.58" width="3.0" height="6.67" fill="#0000cf"/>
<rect x="223.1" y="486.58" width="3.0" height="6.67" fill="#0000e3"/>
<rect x="226.1" y="486.58" width="3.0" height="6.67" fill="#0008ff"/>
<rect x="229.1" y="486.58" width="3.0" height="6.67" fill="#0050ff"/>
<rect x="232.1" y="486.58" width="3.0" height="6.67" fill="#00bfff"/>
<rect x="235.1" y="486.58" width="3.0" height="6.67" fill="#80ff80"/>
<rect x="238.1" y="486.58" width="3.0" height="6.67" fill="#ff6000"/>
<rect x="241.1" y="486.58" width="27.0" height="6.67" fill="#800000"/>
<rect x="268.1" y="486.58" width="3.0" height="6.67" fill="#ef0000"/>
<rect x="271.1" y="486.58" width="3.0" height="6.67" fill="#bfff40"/>
<rect x="274.1" y="486.58" width="3.0" height="6.67" fill="#00dfff"/>
<rect x="277.1" y="486.58" width="3.0" height="6.67" fill="#0050ff"/>
<rect x="280.1" y="486.58" width="3.0" height="6.67" fill="#0000f3"/>
<rect x="283.1" y="486.58" width="3.0" height="6.67" fill="#0000c7"/>
<rect x="286.1" y="486.58" width="3.0" height="6.67" fill="#0000b3"/>
<rect x="289.1" y="486.58" width="3.0" height="6.67" fill="#0000a7"/>
<rect x="292.1" y="486.58" width="3.0" height="6.67" fill="#00009f"/>
<rect x="295.1" y="486.58" width="6.0" height="6.67" fill="#00009b"/>
<rect x="199.1" y="492.65" width="3.0" height="6.67" fill="#0000b7"/>
<rect x="202.1" y="492.65" width="3.0" height="6.67" fill="#0000bb"/>
<rect x="205.1" y="492.65" width="3.0" height="6.67" fill="#0000bf"/>
<rect x="208.1" y="492.65" width="3.0" height="6.67" fill="#0000c3"/>
<rect x="211.1" y="492.65" width="3.0" height="6.67" fill="#0000cb"/>
<rect x="214.1" y="492.65" width="3.0" height="6.67" fill="#0000db"/>
<rect x="217.1" y="492.65" width="3.0" height="6.67" fill="#0000fb"/>
<rect x="220.1" y="492.65" width="3.0" height="6.67" fill="#0030ff"/>
<rect x="223.1" y="492.65" width="3.0" height="6.67" fill="#009fff"/>
<rect x="226.1" y="492.65" width="3.0" height="6.67" fill="#60ff9f"/>
<rect x="229.1" y="492.65" width="3.0" height="6.67" fill="#ff8f00"/>
<rect x="232.1" y="492.65" width="27.0" height="6.67" fill="#800000"/>
<rect x="259.1" y="492.65" width="3.0" height="6.67" fill="#9f0000"/>
<rect x="262.1" y="492.65" width="3.0" height="6.67" fill="#ffff00"/>
<rect x="265.1" y="492.65" width="3.0" height="6.67" fill="#00ffff"/>
<rect x="268.1" y="492.65" width="3.0" height="6.67" fill="#0060ff"/>
<rect x="271.1" y="492.65" width="3.0" height="6.67" fill="#0000fb"/>
<rect x="274.1" y="492.65" width="3.0" height="6.67" fill="#0000cb"/>
<rect x="277.1" y="492.65" width="3.0" height="6.67" fill="#0000b3"/>
<rect x="280.1" y="492.65" width="3.0" height="6.67" fill="#0000a7"/>
<rect x="283.1" y="492.65" width="3.0" height="6.67" fill="#0000a3"/>
<rect x="286.1" y="492.65" width="3.0" height="6.67" fill="#00009f"/>
<rect x="289.1" y="492.65" width="3.0" height="6.67" fill="#00009b"/>
<rect x="292.1" y="492.65" width="3.0" height="6.67" fill="#000097"/>
<rect x="190.1" y="498.72" width="3.0" height="6.67" fill="#0000b7"/>
<rect x="193.1" y="498.72" width="3.0" height="6.67" fill="#0000bb"/>
<rect x="196.1" y="498.72" width="3.0" height="6.67" fill="#0000bf"/>
<rect x="199.1" y="498.72" width="3.0" height="6.67" fill="#0000c3"/>
<rect x="202.1" y="498.72" width="3.0" height="6.67" fill="#0000cb"/>
<rect x="205.1" y="498.72" width="3.0" height="6.67" fill="#0000d7"/>
<rect x="208.1" y="498.72" width="3.0" height="6.67" fill="#0000ef"/>
<rect x="211.1" y="498.72" width="3.0" height="6.67" fill="#0020ff"/>
<rect x="214.1" y="498.72" width="3.0" height="6.67" fill="#0080ff"/>
<rect x="217.1" y="498.72" width="3.0" height="6.67" fill="#20ffdf"/>
<rect x="220.1" y="498.72" width="3.0" height="6.67" fill="#ffdf00"/>
<rect x="223.1" y="498.72" width="30.0" height="6.67" fill="#800000"/>
<rect x="253.1" y="498.72" width="3.0" height="6.67" fill="#ff9f00"/>
<rect x="256.1" y="498.72" width="3.0" height="6.67" fill="#30ffcf"/>
<rect x="259.1" y="498.72" width="3.0" height="6.67" fill="#0080ff"/>
<rect x="262.1" y="498.72" width="3.0" height="6.67" fill="#0010ff"/>
<rect x="265.1" y="498.72" width="3.0" height="6.67" fill="#0000d3"/>
<rect x="268.1" y="498.72" width="3.0" height="6.67" fill="#0000b7"/>
<rect x="271.1" y="498.72" width="3.0" height="6.67" fill="#0000ab"/>
<rect x="274.1" y="498.72" width="3.0" height="6.67" fill="#0000a3"/>
<rect x="277.1" y="498.72" width="3.0" height="6.67" fill="#00009f"/>
<rect x="280.1" y="498.72" width="3.0" height="6.67" fill="#00009b"/>
<rect x="283.1" y="498.72" width="3.0" height="6.67" fill="#000097"/>
<rect x="184.1" y="504.79" width="3.0" height="6.67" fill="#0000b7"/>
<rect x="187.1" y="504.79" width="3.0" height="6.67" fill="#0000bb"/>
<rect x="190.1" y="504.79" width="3.0" height="6.67" fill="#0000bf"/>
<rect x="193.1" y="504.79" width="3.0" height="6.67" fill="#0000c7"/>
<rect x="196.1" y="504.79" width="3.0" height="6.67" fill="#0000cf"/>
<rect x="199.1" y="504.79" width="3.0" height="6.67" fill="#0000df"/>
<rect x="202.1" y="504.79" width="3.0" height="6.67" fill="#0004ff"/>
<rect x="205.1" y="504.79" width="3.0" height="6.67" fill="#0050ff"/>
<rect x="208.1" y="504.79" width="3.0" height="6.67" fill="#00cfff"/>
<rect x="211.1" y="504.79" width="3.0" height="6.67" fill="#afff50"/>
<rect x="214.1" y="504.79" width="3.0" height="6.67" fill="#ff1000"/>
<rect x="217.1" y="504.79" width="27.0" height="6.67" fill="#800000"/>
<rect x="244.1" y="504.79" width="3.0" height="6.67" fill="#ff1000"/>
<rect x="247.1" y="504.79" width="3.0" height="6.67" fill="#9fff60"/>
<rect x="250.1" y="504.79" width="3.0" height="6.67" fill="#00afff"/>
<rect x="253.1" y="504.79" width="3.0" height="6.67" fill="#0030ff"/>
<rect x="256.1" y="504.79" width="3.0" height="6.67" fill="#0000e3"/>
<rect x="259.1" y="504.79" width="3.0" height="6.67" fill="#0000bf"/>
<rect x="262.1" y="504.79" width="3.0" height="6.67" fill="#0000af"/>
<rect x="265.1" y="504.79" width="3.0" height="6.67" fill="#0000a7"/>
<rect x="268.1" y="504.79" width="3.0" height="6.67" fill="#00009f"/>
<rect x="271.1" y="504.79" width="6.0" height="6.67" fill="#00009b"/>
<rect x="175.1" y="510.86" width="3.0" height="6.67" fill="#0000b7"/>
<rect x="178.1" y="510.86" width="3.0" height="6.67" fill="#0000bb"/>
<rect x="181.1" y="510.86" width="3.0" height="6.67" fill="#0000bf"/>
<rect x="184.1" y="510.86" width="3.0" height="6.67" fill="#0000c3"/>
<rect x="187.1" y="510.86" width="3.0" height="6.67" fill="#0000cb"/>
<rect x="190.1" y="510.86" width="3.0" height="6.67" fill="#0000d7"/>
<rect x="193.1" y="510.86" width="3.0" height="6.67" fill="#0000ef"/>
<rect x="196.1" y="510.86" width="3.0" height="6.67" fill="#0020ff"/>
<rect x="199.1" y="510.86" width="3.0" height="6.67" fill="#0080ff"/>
<rect x="202.1" y="510.86" width="3.0" height="6.67" fill="#30ffcf"/>
<rect x="205.1" y="510.86" width="3.0" height="6.67" fill="#ffbf00"/>
<rect x="208.1" y="510.86" width="30.0" height="6.67" fill="#800000"/>
<rect x="238.1" y="510.86" width="3.0" height="6.67" fill="#ffcf00"/>
<rect x="241.1" y="510.86" width="3.0" height="6.67" fill="#10ffef"/>
<rect x="244.1" y="510.86" width="3.0" height="6.67" fill="#0060ff"/>
<rect x="247.1" y="510.86" width="3.0" height="6.67" fill="#0000ff"/>
<rect x="250.1" y="510.86" width="3.0" height="6.67" fill="#0000cb"/>
<rect x="253.1" y="510.86" width="3.0" height="6.67" fill="#0000b3"/>
<rect x="256.1" y="510.86" width="3.0" height="6.67" fill="#0000a7"/>
<rect x="259.1" y="510.86" width="3.0" height="6.67" fill="#0000a3"/>
<rect x="262.1" y="510.86" width="3.0" height="6.67" fill="#00009f"/>
<rect x="265.1" y="510.86" width="3.0" height="6.67" fill="#00009b"/>
<rect x="268.1" y="510.86" width="3.0" height="6.67" fill="#000097"/>
<rect x="169.1" y="516.93" width="3.0" height="6.67" fill="#0000b7"/>
<rect x="172.1" y="516.93" width="3.0" height="6.67" fill="#0000bb"/>
<rect x="175.1" y="516.93" width="3.0" height="6.67" fill="#0000bf"/>
<rect x="178.1" y="516.93" width="3.0" height="6.67" fill="#0000c3"/>
<rect x="181.1" y="516.93" width="3.0" height="6.67" fill="#0000cb"/>
<rect x="184.1" y="516.93" width="3.0" height="6.67" fill="#0000db"/>
<rect x="187.1" y="516.93" width="3.0" height="6.67" fill="#0000fb"/>
<rect x="190.1" y="516.93" width="3.0" height="6.67" fill="#0040ff"/>
<rect x="193.1" y="516.93" width="3.0" height="6.67" fill="#00bfff"/>
<rect x="196.1" y="516.93" width="3.0" height="6.67" fill="#8fff70"/>
<rect x="199.1" y="516.93" width="3.0" height="6.67" fill="#ff2000"/>
<rect x="202.1" y="516.93" width="27.0" height="6.67" fill="#800000"/>
<rect x="229.1" y="516.93" width="3.0" height="6.67" fill="#df0000"/>
<rect x="232.1" y="516.93" width="3.0" height="6.67" fill="#afff50"/>
<rect x="235.1" y="516.93" width="3.0" height="6.67" fill="#00bfff"/>
<rect x="238.1" y="516.93" width="3.0" height="6.67" fill="#0030ff"/>
<rect x="241.1" y="516.93" width="3.0" height="6.67" fill="#0000e3"/>
<rect x="244.1" y="516.93" width="3.0" height="6.67" fill="#0000bf"/>
<rect x="247.1" y="516.93" width="3.0" height="6.67" fill="#0000af"/>
<rect x="250.1" y="516.93" width="3.0" height="6.67" fill="#0000a3"/>
<rect x="253.1" y="516.93" width="3.0" height="6.67" fill="#00009f"/>
<rect x="256.1" y="516.93" width="6.0" height="6.67" fill="#00009b"/>
<rect x="163.1" y="523.00" width="6.0" height="6.67" fill="#0000bb"/>
<rect x="169.1" y="523.00" width="3.0" height="6.67" fill="#0000bf"/>
<rect x="172.1" y="523.00" width="3.0" height="6.67" fill="#0000c7"/>
<rect x="175.1" y="523.00" width="3.0" height="6.67" fill="#0000cf"/>
<rect x="178.1" y="523.00" width="3.0" height="6.67" fill="#0000e3"/>
<rect x="181.1" y="523.00" width="3.0" height="6.67" fill="#0008ff"/>
<rect x="184.1" y="523.00" width="3.0" height="6.67" fill="#0050ff"/>
<rect x="187.1" y="523.00" width="3.0" height="6.67" fill="#00dfff"/>
<rect x="190.1" y="523.00" width="3.0" height="6.67" fill="#dfff20"/>
<rect x="193.1" y="523.00" width="3.0" height="6.67" fill="#9f0000"/>
<rect x="196.1" y="523.00" width="27.0" height="6.67" fill="#800000"/>
<rect x="223.1" y="523.00" width="3.0" height="6.67" fill="#ff6000"/>
<rect x="226.1" y="523.00" width="3.0" height="6.67" fill="#50ffaf"/>
<rect x="229.1" y="523.00" width="3.0" height="6.67" fill="#0080ff"/>
<rect x="232.1" y="523.00" width="3.0" height="6.67" fill="#000cff"/>
<rect x="235.1" y="523.00" width="3.0" height="6.67" fill="#0000d3"/>
<rect x="238.1" y="523.00" width="3.0" height="6.67" fill="#0000b7"/>
<rect x="241.1" y="523.00" width="3.0" height="6.67" fill="#0000ab"/>
<rect x="244.1" y="523.00" width="3.0" height="6.67" fill="#0000a3"/>
<rect x="247.1" y="523.00" width="3.0" height="6.67" fill="#00009f"/>
<rect x="250.1" y="523.00" width="6.0" height="6.67" fill="#00009b"/>
<rect x="154.1" y="529.07" width="3.0" height="6.67" fill="#0000b7"/>
<rect x="157.1" y="529.07" width="3.0" height="6.67" fill="#0000bb"/>
<rect x="160.1" y="529.07" width="3.0" height="6.67" fill="#0000bf"/>
<rect x="163.1" y="529.07" width="3.0" height="6.67" fill="#0000c3"/>
<rect x="166.1" y="529.07" width="3.0" height="6.67" fill="#0000c7"/>
<rect x="169.1" y="529.07" width="3.0" height="6.67" fill="#0000cf"/>
<rect x="172.1" y="529.07" width="3.0" height="6.67" fill="#0000e3"/>
<rect x="175.1" y="529.07" width="3.0" height="6.67" fill="#000cff"/>
<rect x="178.1" y="529.07" width="3.0" height="6.67" fill="#0060ff"/>
<rect x="181.1" y="529.07" width="3.0" height="6.67" fill="#00ffff"/>
<rect x="184.1" y="529.07" width="3.0" height="6.67" fill="#ffff00"/>
<rect x="187.1" y="529.07" width="30.0" height="6.67" fill="#800000"/>
<rect x="217.1" y="529.07" width="3.0" height="6.67" fill="#ff8f00"/>
<rect x="220.1" y="529.07" width="3.0" height="6.67" fill="#30ffcf"/>
<rect x="223.1" y="529.07" width="3.0" height="6.67" fill="#0060ff"/>
<rect x="226.1" y="529.07" width="3.0" height="6.67" fill="#0000ff"/>
<rect x="229.1" y="529.07" width="3.0" height="6.67" fill="#0000cb"/>
<rect x="232.1" y="529.07" width="3.0" height="6.67" fill="#0000b3"/>
<rect x="235.1" y="529.07" width="3.0" height="6.67" fill="#0000a7"/>
<rect x="238.1" y="529.07" width="3.0" height="6.67" fill="#0000a3"/>
<rect x="241.1" y="529.07" width="3.0" height="6.67" fill="#00009f"/>
<rect x="244.1" y="529.07" width="3.0" height="6.67" fill="#00009b"/>
<rect x="247.1" y="529.07" width="3.0" height="6.67" fill="#000097"/>
<rect x="148.1" y="535.14" width="3.0" height="6.67" fill="#0000b7"/>
<rect x="151.1" y="535.14" width="3.0" height="6.67" fill="#0000bb"/>
<rect x="154.1" y="535.14" width="3.0" height="6.67" fill="#0000bf"/>
<rect x="157.1" y="535.14" width="3.0" height="6.67" fill="#0000c3"/>
<rect x="160.1" y="535.14" width="3.0" height="6.67" fill="#0000c7"/>
<rect x="163.1" y="535.14" width="3.0" height="6.67" fill="#0000cf"/>
<rect x="166.1" y="535.14" width="3.0" height="6.67" fill="#0000e3"/>
<rect x="169.1" y="535.14" width="3.0" height="6.67" fill="#0008ff"/>
<rect x="172.1" y="535.14" width="3.0" height="6.67" fill="#0060ff"/>
<rect x="175.1" y="535.14" width="3.0" height="6.67" fill="#00efff"/>
<rect x="178.1" y="535.14" width="3.0" height="6.67" fill="#ffff00"/>
<rect x="181.1" y="535.14" width="30.0" height="6.67" fill="#800000"/>
<rect x="211.1" y="535.14" width="3.0" height="6.67" fill="#ff8f00"/>
<rect x="214.1" y="535.14" width="3.0" height="6.67" fill="#20ffdf"/>
<rect x="217.1" y="535.14" width="3.0" height="6.67" fill="#0060ff"/>
<rect x="220.1" y="535.14" width="3.0" height="6.67" fill="#0000f7"/>
<rect x="223.1" y="535.14" width="3.0" height="6.67" fill="#0000c7"/>
<rect x="226.1" y="535.14" width="3.0" height="6.67" fill="#0000b3"/>
<rect x="229.1" y="535.14" width="3.0" height="6.67" fill="#0000a7"/>
<rect x="232.1" y="535.14" width="3.0" height="6.67" fill="#0000a3"/>
<rect x="235.1" y="535.14" width="3.0" height="6.67" fill="#00009f"/>
<rect x="238.1" y="535.14" width="3.0" height="6.67" fill="#00009b"/>
<rect x="241.1" y="535.14" width="3.0" height="6.67" fill="#000097"/>
<rect x="142.1" y="541.21" width="6.0" height="6.67" fill="#0000bb"/>
<rect x="148.1" y="541.21" width="3.0" height="6.67" fill="#0000bf"/>
<rect x="151.1" y="541.21" width="3.0" height="6.67" fill="#0000c3"/>
<rect x="154.1" y="541.21" width="3.0" height="6.67" fill="#0000c7"/>
<rect x="157.1" y="541.21" width="3.0" height="6.67" fill="#0000cf"/>
<rect x="160.1" y="541.21" width="3.0" height="6.67" fill="#0000e3"/>
<rect x="163.1" y="541.21" width="3.0" height="6.67" fill="#0008ff"/>
<rect x="166.1" y="541.21" width="3.0" height="6.67" fill="#0060ff"/>
<rect x="169.1" y="541.21" width="3.0" height="6.67" fill="#00ffff"/>
<rect x="172.1" y="541.21" width="3.0" height="6.67" fill="#ffdf00"/>
<rect x="175.1" y="541.21" width="30.0" height="6.67" fill="#800000"/>
<rect x="205.1" y="541.21" width="3.0" height="6.67" fill="#ff8000"/>
<rect x="208.1" y="541.21" width="3.0" height="6.67" fill="#20ffdf"/>
<rect x="211.1" y="541.21" width="3.0" height="6.67" fill="#0060ff"/>
<rect x="214.1" y="541.21" width="3.0" height="6.67" fill="#0000f7"/>
<rect x="217.1" y="541.21" width="3.0" height="6.67" fill="#0000c7"/>
<rect x="220.1" y="541.21" width="3.0" height="6.67" fill="#0000b3"/>
<rect x="223.1" y="541.21" width="3.0" height="6.67" fill="#0000a7"/>
<rect x="226.1" y="541.21" width="3.0" height="6.67" fill="#0000a3"/>
<rect x="229.1" y="541.21" width="3.0" height="6.67" fill="#00009f"/>
<rect x="232.1" y="541.21" width="3.0" height="6.67" fill="#00009b"/>
<rect x="235.1" y="541.21" width="3.0" height="6.67" fill="#000097"/>
<rect x="136.1" y="547.28" width="9.0" height="6.67" fill="#0000bf"/>
<rect x="145.1" y="547.28" width="3.0" height="6.67" fill="#0000c3"/>
<rect x="148.1" y="547.28" width="3.0" height="6.67" fill="#0000c7"/>
<rect x="151.1" y="547.28" width="3.0" height="6.67" fill="#0000cf"/>
<rect x="154.1" y="547.28" width="3.0" height="6.67" fill="#0000df"/>
<rect x="157.1" y="547.28" width="3.0" height="6.67" fill="#0004ff"/>
<rect x="160.1" y="547.28" width="3.0" height="6.67" fill="#0050ff"/>
<rect x="163.1" y="547.28" width="3.0" height="6.67" fill="#00ffff"/>
<rect x="166.1" y="547.28" width="3.0" height="6.67" fill="#ffdf00"/>
<rect x="169.1" y="547.28" width="30.0" height="6.67" fill="#800000"/>
<rect x="199.1" y="547.28" width="3.0" height="6.67" fill="#ff4000"/>
<rect x="202.1" y="547.28" width="3.0" height="6.67" fill="#40ffbf"/>
<rect x="205.1" y="547.28" width="3.0" height="6.67" fill="#0070ff"/>
<rect x="208.1" y="547.28" width="3.0" height="6.67" fill="#0000fb"/>
<rect x="211.1" y="547.28" width="3.0" height="6.67" fill="#0000c7"/>
<rect x="214.1" y="547.28" width="3.0" height="6.67" fill="#0000b3"/>
<rect x="217.1" y="547.28" width="3.0" height="6.67" fill="#0000a7"/>
<rect x="220.1" y="547.28" width="3.0" height="6.67" fill="#0000a3"/>
<rect x="223.1" y="547.28" width="3.0" height="6.67" fill="#00009f"/>
<rect x="226.1" y="547.28" width="3.0" height="6.67" fill="#00009b"/>
<rect x="229.1" y="547.28" width="3.0" height="6.67" fill="#000097"/>
<rect x="133.1" y="553.35" width="12.0" height="6.67" fill="#0000c7"/>
<rect x="145.1" y="553.35" width="3.0" height="6.67" fill="#0000cf"/>
<rect x="148.1" y="553.35" width="3.0" height="6.67" fill="#0000db"/>
<rect x="151.1" y="553.35" width="3.0" height="6.67" fill="#0000f7"/>
<rect x="154.1" y="553.35" width="3.0" height="6.67" fill="#0040ff"/>
<rect x="157.1" y="553.35" width="3.0" height="6.67" fill="#00cfff"/>
<rect x="160.1" y="553.35" width="3.0" height="6.67" fill="#dfff20"/>
<rect x="163.1" y="553.35" width="30.0" height="6.67" fill="#800000"/>
<rect x="193.1" y="553.35" width="3.0" height="6.67" fill="#9f0000"/>
<rect x="196.1" y="553.35" width="3.0" height="6.67" fill="#9fff60"/>
<rect x="199.1" y="553.35" width="3.0" height="6.67" fill="#009fff"/>
<rect x="202.1" y="553.35" width="3.0" height="6.67" fill="#0010ff"/>
<rect x="205.1" y="553.35" width="3.0" height="6.67" fill="#0000cf"/>
<rect x="208.1" y="553.35" width="3.0" height="6.67" fill="#0000b7"/>
<rect x="211.1" y="553.35" width="3.0" height="6.67" fill="#0000ab"/>
<rect x="214.1" y="553.35" width="3.0" height="6.67" fill="#0000a3"/>
<rect x="217.1" y="553.35" width="3.0" height="6.67" fill="#00009f"/>
<rect x="220.1" y="553.35" width="6.0" height="6.67" fill="#00009b"/>
<rect x="127.1" y="559.42" width="6.0" height="6.67" fill="#0000cf"/>
<rect x="133.1" y="559.42" width="6.0" height="6.67" fill="#0000cb"/>
<rect x="139.1" y="559.42" width="3.0" height="6.67" fill="#0000cf"/>
<rect x="142.1" y="559.42" width="3.0" height="6.67" fill="#0000d7"/>
<rect x="145.1" y="559.42" width="3.0" height="6.67" fill="#0000eb"/>
<rect x="148.1" y="559.42" width="3.0" height="6.67" fill="#0020ff"/>
<rect x="151.1" y="559.42" width="3.0" height="6.67" fill="#008fff"/>
<rect x="154.1" y="559.42" width="3.0" height="6.67" fill="#80ff80"/>
<rect x="157.1" y="559.42" width="3.0" height="6.67" fill="#ef0000"/>
<rect x="160.1" y="559.42" width="30.0" height="6.67" fill="#800000"/>
<rect x="190.1" y="559.42" width="3.0" height="6.67" fill="#ffbf00"/>
<rect x="193.1" y="559.42" width="3.0" height="6.67" fill="#00efff"/>
<rect x="196.1" y="559.42" width="3.0" height="6.67" fill="#0030ff"/>
<rect x="199.1" y="559.42" width="3.0" height="6.67" fill="#0000df"/>
<rect x="202.1" y="559.42" width="3.0" height="6.67" fill="#0000bb"/>
<rect x="205.1" y="559.42" width="3.0" height="6.67" fill="#0000ab"/>
<rect x="208.1" y="559.42" width="3.0" height="6.67" fill="#0000a3"/>
<rect x="211.1" y="559.42" width="3.0" height="6.67" fill="#00009f"/>
<rect x="214.1" y="559.42" width="6.0" height="6.67" fill="#00009b"/>
<rect x="220.1" y="559.42" width="3.0" height="6.67" fill="#000097"/>
<rect x="124.1" y="565.49" width="3.0" height="5.03" fill="#0000cf"/>
<rect x="127.1" y="565.49" width="9.0" height="5.03" fill="#0000d3"/>
<rect x="136.1" y="565.49" width="3.0" height="5.03" fill="#0000d7"/>
<rect x="139.1" y="565.49" width="3.0" height="5.03" fill="#0000df"/>
<rect x="142.1" y="565.49" width="3.0" height="5.03" fill="#0000fb"/>
<rect x="145.1" y="565.49" width="3.0" height="5.03" fill="#0040ff"/>
<rect x="148.1" y="565.49" width="3.0" height="5.03" fill="#00cfff"/>
<rect x="151.1" y="565.49" width="3.0" height="5.03" fill="#ffff00"/>
<rect x="154.1" y="565.49" width="33.0" height="5.03" fill="#800000"/>
<rect x="187.1" y="565.49" width="3.0" height="5.03" fill="#bfff40"/>
<rect x="190.1" y="565.49" width="3.0" height="5.03" fill="#009fff"/>
<rect x="193.1" y="565.49" width="3.0" height="5.03" fill="#0010ff"/>
<rect x="196.1" y="565.49" width="3.0" height="5.03" fill="#0000cf"/>
<rect x="199.1" y="565.49" width="3.0" height="5.03" fill="#0000b3"/>
<rect x="202.1" y="565.49" width="3.0" height="5.03" fill="#0000ab"/>
<rect x="205.1" y="565.49" width="3.0" height="5.03" fill="#0000a3"/>
<rect x="208.1" y="565.49" width="3.0" height="5.03" fill="#00009f"/>
<rect x="211.1" y="565.49" width="6.0" height="5.03" fill="#00009b"/>
<rect x="121.1" y="569.92" width="3.0" height="5.03" fill="#0000cb"/>
<rect x="124.1" y="569.92" width="3.0" height="5.03" fill="#0000d3"/>
<rect x="127.1" y="569.92" width="6.0" height="5.03" fill="#0000d7"/>
<rect x="133.1" y="569.92" width="3.0" height="5.03" fill="#0000db"/>
<rect x="136.1" y="569.92" width="3.0" height="5.03" fill="#0000e3"/>
<rect x="139.1" y="569.92" width="3.0" height="5.03" fill="#0000ff"/>
<rect x="142.1" y="569.92" width="3.0" height="5.03" fill="#0050ff"/>
<rect x="145.1" y="569.92" width="3.0" height="5.03" fill="#00efff"/>
<rect x="148.1" y="569.92" width="3.0" height="5.03" fill="#ffcf00"/>
<rect x="151.1" y="569.92" width="33.0" height="5.03" fill="#800000"/>
<rect x="184.1" y="569.92" width="3.0" height="5.03" fill="#afff50"/>
<rect x="187.1" y="569.92" width="3.0" height="5.03" fill="#008fff"/>
<rect x="190.1" y="569.92" width="3.0" height="5.03" fill="#0008ff"/>
<rect x="193.1" y="569.92" width="3.0" height="5.03" fill="#0000cb"/>
<rect x="196.1" y="569.92" width="3.0" height="5.03" fill="#0000b3"/>
<rect x="199.1" y="569.92" width="3.0" height="5.03" fill="#0000a7"/>
<rect x="202.1" y="569.92" width="3.0" height="5.03" fill="#0000a3"/>
<rect x="205.1" y="569.92" width="3.0" height="5.03" fill="#00009f"/>
<rect x="208.1" y="569.92" width="6.0" height="5.03" fill="#00009b"/>
<rect x="118.1" y="574.35" width="3.0" height="5.03" fill="#0000c3"/>
<rect x="121.1" y="574.35" width="3.0" height="5.03" fill="#0000cf"/>
<rect x="124.1" y="574.35" width="3.0" height="5.03" fill="#0000d7"/>
<rect x="127.1" y="574.35" width="3.0" height="5.03" fill="#0000db"/>
<rect x="130.1" y="574.35" width="3.0" height="5.03" fill="#0000df"/>
<rect x="133.1" y="574.35" width="3.0" height="5.03" fill="#0000e7"/>
<rect x="136.1" y="574.35" width="3.0" height="5.03" fill="#0004ff"/>
<rect x="139.1" y="574.35" width="3.0" height="5.03" fill="#0050ff"/>
<rect x="142.1" y="574.35" width="3.0" height="5.03" fill="#00ffff"/>
<rect x="145.1" y="574.35" width="3.0" height="5.03" fill="#ffaf00"/>
<rect x="148.1" y="574.35" width="33.0" height="5.03" fill="#800000"/>
<rect x="181.1" y="574.35" width="3.0" height="5.03" fill="#afff50"/>
<rect x="184.1" y="574.35" width="3.0" height="5.03" fill="#008fff"/>
<rect x="187.1" y="574.35" width="3.0" height="5.03" fill="#0008ff"/>
<rect x="190.1" y="574.35" width="3.0" height="5.03" fill="#0000cb"/>
<rect x="193.1" y="574.35" width="3.0" height="5.03" fill="#0000b3"/>
<rect x="196.1" y="574.35" width="3.0" height="5.03" fill="#0000a7"/>
<rect x="199.1" y="574.35" width="3.0" height="5.03" fill="#0000a3"/>
<rect x="202.1" y="574.35" width="3.0" height="5.03" fill="#00009f"/>
<rect x="205.1" y="574.35" width="6.0" height="5.03" fill="#00009b"/>
<rect x="115.1" y="578.77" width="3.0" height="5.03" fill="#0000b3"/>
<rect x="118.1" y="578.77" width="3.0" height="5.03" fill="#0000c3"/>
<rect x="121.1" y="578.77" width="3.0" height="5.03" fill="#0000d3"/>
<rect x="124.1" y="578.77" width="3.0" height="5.03" fill="#0000db"/>
<rect x="127.1" y="578.77" width="3.0" height="5.03" fill="#0000e3"/>
<rect x="130.1" y="578.77" width="3.0" height="5.03" fill="#0000ef"/>
<rect x="133.1" y="578.77" width="3.0" height="5.03" fill="#000cff"/>
<rect x="136.1" y="578.77" width="3.0" height="5.03" fill="#0060ff"/>
<rect x="139.1" y="578.77" width="3.0" height="5.03" fill="#10ffef"/>
<rect x="142.1" y="578.77" width="3.0" height="5.03" fill="#ff8000"/>
<rect x="145.1" y="578.77" width="33.0" height="5.03" fill="#800000"/>
<rect x="178.1" y="578.77" width="3.0" height="5.03" fill="#afff50"/>
<rect x="181.1" y="578.77" width="3.0" height="5.03" fill="#008fff"/>
<rect x="184.1" y="578.77" width="3.0" height="5.03" fill="#0000ff"/>
<rect x="187.1" y="578.77" width="3.0" height="5.03" fill="#0000c7"/>
<rect x="190.1" y="578.77" width="3.0" height="5.03" fill="#0000b3"/>
<rect x="193.1" y="578.77" width="3.0" height="5.03" fill="#0000a7"/>
<rect x="196.1" y="578.77" width="3.0" height="5.03" fill="#0000a3"/>
<rect x="199.1" y="578.77" width="3.0" height="5.03" fill="#00009f"/>
<rect x="202.1" y="578.77" width="6.0" height="5.03" fill="#00009b"/>
<rect x="112.1" y="583.20" width="3.0" height="5.03" fill="#0000a7"/>
<rect x="115.1" y="583.20" width="3.0" height="5.03" fill="#0000b7"/>
<rect x="118.1" y="583.20" width="3.0" height="5.03" fill="#0000c7"/>
<rect x="121.1" y="583.20" width="3.0" height="5.03" fill="#0000db"/>
<rect x="124.1" y="583.20" width="3.0" height="5.03" fill="#0000e3"/>
<rect x="127.1" y="583.20" width="3.0" height="5.03" fill="#0000ef"/>
<rect x="130.1" y="583.20" width="3.0" height="5.03" fill="#0010ff"/>
<rect x="133.1" y="583.20" width="3.0" height="5.03" fill="#0060ff"/>
<rect x="136.1" y="583.20" width="3.0" height="5.03" fill="#20ffdf"/>
<rect x="139.1" y="583.20" width="3.0" height="5.03" fill="#ff6000"/>
<rect x="142.1" y="583.20" width="33.0" height="5.03" fill="#800000"/>
<rect x="175.1" y="583.20" width="3.0" height="5.03" fill="#9fff60"/>
<rect x="178.1" y="583.20" width="3.0" height="5.03" fill="#0080ff"/>
<rect x="181.1" y="583.20" width="3.0" height="5.03" fill="#0000ff"/>
<rect x="184.1" y="583.20" width="3.0" height="5.03" fill="#0000c7"/>
<rect x="187.1" y="583.20" width="3.0" height="5.03" fill="#0000af"/>
<rect x="190.1" y="583.20" width="3.0" height="5.03" fill="#0000a7"/>
<rect x="193.1" y="583.20" width="3.0" height="5.03" fill="#0000a3"/>
<rect x="196.1" y="583.20" width="3.0" height="5.03" fill="#00009f"/>
<rect x="199.1" y="583.20" width="6.0" height="5.03" fill="#00009b"/>
<rect x="109.1" y="587.63" width="3.0" height="5.03" fill="#0000a3"/>
<rect x="112.1" y="587.63" width="3.0" height="5.03" fill="#0000ab"/>
<rect x="115.1" y="587.63" width="3.0" height="5.03" fill="#0000bb"/>
<rect x="118.1" y="587.63" width="3.0" height="5.03" fill="#0000cf"/>
<rect x="121.1" y="587.63" width="3.0" height="5.03" fill="#0000df"/>
<rect x="124.1" y="587.63" width="3.0" height="5.03" fill="#0000ef"/>
<rect x="127.1" y="587.63" width="3.0" height="5.03" fill="#0010ff"/>
<rect x="130.1" y="587.63" width="3.0" height="5.03" fill="#0060ff"/>
<rect x="133.1" y="587.63" width="3.0" height="5.03" fill="#20ffdf"/>
<rect x="136.1" y="587.63" width="3.0" height="5.03" fill="#ff5000"/>
<rect x="139.1" y="587.63" width="33.0" height="5.03" fill="#800000"/>
<rect x="172.1" y="587.63" width="3.0" height="5.03" fill="#bfff40"/>
<rect x="175.1" y="587.63" width="3.0" height="5.03" fill="#008fff"/>
<rect x="178.1" y="587.63" width="3.0" height="5.03" fill="#0000ff"/>
<rect x="181.1" y="587.63" width="3.0" height="5.03" fill="#0000c7"/>
<rect x="184.1" y="587.63" width="3.0" height="5.03" fill="#0000af"/>
<rect x="187.1" y="587.63" width="3.0" height="5.03" fill="#0000a7"/>
<rect x="190.1" y="587.63" width="3.0" height="5.03" fill="#0000a3"/>
<rect x="193.1" y="587.63" width="3.0" height="5.03" fill="#00009f"/>
<rect x="196.1" y="587.63" width="6.0" height="5.03" fill="#00009b"/>
<rect x="106.1" y="592.06" width="3.0" height="5.03" fill="#0000a3"/>
<rect x="109.1" y="592.06" width="3.0" height="5.03" fill="#0000a7"/>
<rect x="112.1" y="592.06" width="3.0" height="5.03" fill="#0000af"/>
<rect x="115.1" y="592.06" width="3.0" height="5.03" fill="#0000bf"/>
<rect x="118.1" y="592.06" width="3.0" height="5.03" fill="#0000d3"/>
<rect x="121.1" y="592.06" width="3.0" height="5.03" fill="#0000eb"/>
<rect x="124.1" y="592.06" width="3.0" height="5.03" fill="#0010ff"/>
<rect x="127.1" y="592.06" width="3.0" height="5.03" fill="#0060ff"/>
<rect x="130.1" y="592.06" width="3.0" height="5.03" fill="#20ffdf"/>
<rect x="133.1" y="592.06" width="3.0" height="5.03" fill="#ff6000"/>
<rect x="136.1" y="592.06" width="33.0" height="5.03" fill="#800000"/>
<rect x="169.1" y="592.06" width="3.0" height="5.03" fill="#dfff20"/>
<rect x="172.1" y="592.06" width="3.0" height="5.03" fill="#009fff"/>
<rect x="175.1" y="592.06" width="3.0" height="5.03" fill="#0004ff"/>
<rect x="178.1" y="592.06" width="3.0" height="5.03" fill="#0000c7"/>
<rect x="181.1" y="592.06" width="3.0" height="5.03" fill="#0000b3"/>
<rect x="184.1" y="592.06" width="3.0" height="5.03" fill="#0000a7"/>
<rect x="187.1" y="592.06" width="3.0" height="5.03" fill="#0000a3"/>
<rect x="190.1" y="592.06" width="3.0" height="5.03" fill="#00009f"/>
<rect x="193.1" y="592.06" width="6.0" height="5.03" fill="#00009b"/>
<rect x="103.1" y="596.49" width="3.0" height="5.03" fill="#00009f"/>
<rect x="106.1" y="596.49" width="3.0" height="5.03" fill="#0000a3"/>
<rect x="109.1" y="596.49" width="3.0" height="5.03" fill="#0000ab"/>
<rect x="112.1" y="596.49" width="3.0" height="5.03" fill="#0000b3"/>
<rect x="115.1" y="596.49" width="3.0" height="5.03" fill="#0000c3"/>
<rect x="118.1" y="596.49" width="3.0" height="5.03" fill="#0000df"/>
<rect x="121.1" y="596.49" width="3.0" height="5.03" fill="#000cff"/>
<rect x="124.1" y="596.49" width="3.0" height="5.03" fill="#0060ff"/>
<rect x="127.1" y="596.49" width="3.0" height="5.03" fill="#10ffef"/>
<rect x="130.1" y="596.49" width="3.0" height="5.03" fill="#ff6000"/>
<rect x="133.1" y="596.49" width="33.0" height="5.03" fill="#800000"/>
<rect x="166.1" y="596.49" width="3.0" height="5.03" fill="#ffef00"/>
<rect x="169.1" y="596.49" width="3.0" height="5.03" fill="#00afff"/>
<rect x="172.1" y="596.49" width="3.0" height="5.03" fill="#000cff"/>
<rect x="175.1" y="596.49" width="3.0" height="5.03" fill="#0000cb"/>
<rect x="178.1" y="596.49" width="3.0" height="5.03" fill="#0000b3"/>
<rect x="181.1" y="596.49" width="3.0" height="5.03" fill="#0000a7"/>
<rect x="184.1" y="596.49" width="3.0" height="5.03" fill="#0000a3"/>
<rect x="187.1" y="596.49" width="3.0" height="5.03" fill="#00009f"/>
<rect x="190.1" y="596.49" width="6.0" height="5.03" fill="#00009b"/>
<rect x="100.1" y="600.92" width="3.0" height="5.03" fill="#00009f"/>
<rect x="103.1" y="600.92" width="3.0" height="5.03" fill="#0000a3"/>
<rect x="106.1" y="600.92" width="3.0" height="5.03" fill="#0000a7"/>
<rect x="109.1" y="600.92" width="3.0" height="5.03" fill="#0000af"/>
<rect x="112.1" y="600.92" width="3.0" height="5.03" fill="#0000b7"/>
<rect x="115.1" y="600.92" width="3.0" height="5.03" fill="#0000cf"/>
<rect x="118.1" y="600.92" width="3.0" height="5.03" fill="#0000fb"/>
<rect x="121.1" y="600.92" width="3.0" height="5.03" fill="#0050ff"/>
<rect x="124.1" y="600.92" width="3.0" height="5.03" fill="#00ffff"/>
<rect x="127.1" y="600.92" width="3.0" height="5.03" fill="#ff8000"/>
<rect x="130.1" y="600.92" width="33.0" height="5.03" fill="#800000"/>
<rect x="163.1" y="600.92" width="3.0" height="5.03" fill="#ff9f00"/>
<rect x="166.1" y="600.92" width="3.0" height="5.03" fill="#00cfff"/>
<rect x="169.1" y="600.92" width="3.0" height="5.03" fill="#0020ff"/>
<rect x="172.1" y="600.92" width="3.0" height="5.03" fill="#0000cf"/>
<rect x="175.1" y="600.92" width="3.0" height="5.03" fill="#0000b3"/>
<rect x="178.1" y="600.92" width="3.0" height="5.03" fill="#0000a7"/>
<rect x="181.1" y="600.92" width="3.0" height="5.03" fill="#0000a3"/>
<rect x="184.1" y="600.92" width="3.0" height="5.03" fill="#00009f"/>
<rect x="187.1" y="600.92" width="6.0" height="5.03" fill="#00009b"/>
<rect x="97.1" y="605.34" width="3.0" height="5.03" fill="#00009f"/>
<rect x="100.1" y="605.34" width="3.0" height="5.03" fill="#0000a3"/>
<rect x="103.1" y="605.34" width="3.0" height="5.03" fill="#0000a7"/>
<rect x="106.1" y="605.34" width="3.0" height="5.03" fill="#0000ab"/>
<rect x="109.1" y="605.34" width="3.0" height="5.03" fill="#0000b3"/>
<rect x="112.1" y="605.34" width="3.0" height="5.03" fill="#0000c3"/>
<rect x="115.1" y="605.34" width="3.0" height="5.03" fill="#0000e7"/>
<rect x="118.1" y="605.34" width="3.0" height="5.03" fill="#0040ff"/>
<rect x="121.1" y="605.34" width="3.0" height="5.03" fill="#00efff"/>
<rect x="124.1" y="605.34" width="3.0" height="5.03" fill="#ffaf00"/>
<rect x="127.1" y="605.34" width="33.0" height="5.03" fill="#800000"/>
<rect x="160.1" y="605.34" width="3.0" height="5.03" fill="#ff3000"/>
<rect x="163.1" y="605.34" width="3.0" height="5.03" fill="#00ffff"/>
<rect x="166.1" y="605.34" width="3.0" height="5.03" fill="#0030ff"/>
<rect x="169.1" y="605.34" width="3.0" height="5.03" fill="#0000d7"/>
<rect x="172.1" y="605.34" width="3.0" height="5.03" fill="#0000b7"/>
<rect x="175.1" y="605.34" width="3.0" height="5.03" fill="#0000ab"/>
<rect x="178.1" y="605.34" width="3.0" height="5.03" fill="#0000a3"/>
<rect x="181.1" y="605.34" width="3.0" height="5.03" fill="#00009f"/>
<rect x="184.1" y="605.34" width="6.0" height="5.03" fill="#00009b"/>
<rect x="94.1" y="609.77" width="6.0" height="5.03" fill="#00009f"/>
<rect x="100.1" y="609.77" width="3.0" height="5.03" fill="#0000a3"/>
<rect x="103.1" y="609.77" width="3.0" height="5.03" fill="#0000a7"/>
<rect x="106.1" y="609.77" width="3.0" height="5.03" fill="#0000af"/>
<rect x="109.1" y="609.77" width="3.0" height="5.03" fill="#0000bb"/>
<rect x="112.1" y="609.77" width="3.0" height="5.03" fill="#0000d7"/>
<rect x="115.1" y="609.77" width="3.0" height="5.03" fill="#0020ff"/>
<rect x="118.1" y="609.77" width="3.0" height="5.03" fill="#00afff"/>
<rect x="121.1" y="609.77" width="3.0" height="5.03" fill="#ffff00"/>
<rect x="124.1" y="609.77" width="33.0" height="5.03" fill="#800000"/>
<rect x="157.1" y="609.77" width="3.0" height="5.03" fill="#8f0000"/>
<rect x="160.1" y="609.77" width="3.0" height="5.03" fill="#60ff9f"/>
<rect x="163.1" y="609.77" width="3.0" height="5.03" fill="#0050ff"/>
<rect x="166.1" y="609.77" width="3.0" height="5.03" fill="#0000e7"/>
<rect x="169.1" y="609.77" width="3.0" height="5.03" fill="#0000bb"/>
<rect x="172.1" y="609.77" width="3.0" height="5.03" fill="#0000ab"/>
<rect x="175.1" y="609.77" width="3.0" height="5.03" fill="#0000a3"/>
<rect x="178.1" y="609.77" width="6.0" height="5.03" fill="#00009f"/>
<rect x="184.1" y="609.77" width="3.0" height="5.03" fill="#00009b"/>
<rect x="187.1" y="609.77" width="3.0" height="5.03" fill="#000097"/>
</g></g>
<g clip-path="url(#cpC)">
<rect x="72.9" y="614.4" width="521.6" height="284.6" fill="#000091"/>
<g filter="url(#hb)">
<rect x="117.6" y="619.1" width="8.6" height="12.7" fill="#00009d"/>
<rect x="125.6" y="619.1" width="8.6" height="12.7" fill="#0000ad"/>
<rect x="133.6" y="619.1" width="8.6" height="12.7" fill="#0000b1"/>
<rect x="141.6" y="619.1" width="8.6" height="12.7" fill="#0000ad"/>
<rect x="149.6" y="619.1" width="200.6" height="12.7" fill="#0000a5"/>
<rect x="349.6" y="619.1" width="8.6" height="12.7" fill="#0000a1"/>
<rect x="357.6" y="619.1" width="8.6" height="12.7" fill="#00009d"/>
<rect x="365.6" y="619.1" width="16.6" height="12.7" fill="#000095"/>
<rect x="381.6" y="619.1" width="8.6" height="12.7" fill="#00009d"/>
<rect x="389.6" y="619.1" width="8.6" height="12.7" fill="#0000a5"/>
<rect x="397.6" y="619.1" width="8.6" height="12.7" fill="#0000a9"/>
<rect x="405.6" y="619.1" width="104.6" height="12.7" fill="#0000ad"/>
<rect x="509.6" y="619.1" width="24.6" height="12.7" fill="#0000b1"/>
<rect x="533.6" y="619.1" width="8.6" height="12.7" fill="#0000b5"/>
<rect x="541.6" y="619.1" width="8.6" height="12.7" fill="#0000b9"/>
<rect x="549.6" y="619.1" width="8.6" height="12.7" fill="#0000b5"/>
<rect x="557.6" y="619.1" width="8.6" height="12.7" fill="#0000a5"/>
<rect x="565.6" y="619.1" width="8.6" height="12.7" fill="#0000ad"/>
<rect x="573.6" y="619.1" width="8.6" height="12.7" fill="#000099"/>
<rect x="581.6" y="619.1" width="8.6" height="12.7" fill="#000095"/>
<rect x="109.6" y="631.2" width="8.6" height="12.7" fill="#000095"/>
<rect x="117.6" y="631.2" width="8.6" height="12.7" fill="#0000b1"/>
<rect x="125.6" y="631.2" width="8.6" height="12.7" fill="#0000b5"/>
<rect x="133.6" y="631.2" width="8.6" height="12.7" fill="#0000ad"/>
<rect x="141.6" y="631.2" width="8.6" height="12.7" fill="#0000a1"/>
<rect x="149.6" y="631.2" width="8.6" height="12.7" fill="#00009d"/>
<rect x="157.6" y="631.2" width="8.6" height="12.7" fill="#0000a1"/>
<rect x="165.6" y="631.2" width="160.6" height="12.7" fill="#0000a5"/>
<rect x="325.6" y="631.2" width="8.6" height="12.7" fill="#0000a1"/>
<rect x="333.6" y="631.2" width="8.6" height="12.7" fill="#000099"/>
<rect x="341.6" y="631.2" width="16.6" height="12.7" fill="#000095"/>
<rect x="357.6" y="631.2" width="8.6" height="12.7" fill="#00009d"/>
<rect x="365.6" y="631.2" width="8.6" height="12.7" fill="#0000a5"/>
<rect x="373.6" y="631.2" width="8.6" height="12.7" fill="#0000a9"/>
<rect x="381.6" y="631.2" width="96.6" height="12.7" fill="#0000ad"/>
<rect x="477.6" y="631.2" width="24.6" height="12.7" fill="#0000b1"/>
<rect x="501.6" y="631.2" width="8.6" height="12.7" fill="#0000b5"/>
<rect x="509.6" y="631.2" width="16.6" height="12.7" fill="#0000b9"/>
<rect x="525.6" y="631.2" width="8.6" height="12.7" fill="#0000a5"/>
<rect x="533.6" y="631.2" width="8.6" height="12.7" fill="#0000ad"/>
<rect x="541.6" y="631.2" width="8.6" height="12.7" fill="#000099"/>
<rect x="549.6" y="631.2" width="32.6" height="12.7" fill="#000095"/>
<rect x="109.6" y="643.4" width="8.6" height="12.7" fill="#000095"/>
<rect x="117.6" y="643.4" width="8.6" height="12.7" fill="#0000b5"/>
<rect x="125.6" y="643.4" width="8.6" height="12.7" fill="#0000c1"/>
<rect x="133.6" y="643.4" width="8.6" height="12.7" fill="#0000bd"/>
<rect x="141.6" y="643.4" width="8.6" height="12.7" fill="#0000b1"/>
<rect x="149.6" y="643.4" width="8.6" height="12.7" fill="#0000a1"/>
<rect x="157.6" y="643.4" width="8.6" height="12.7" fill="#000095"/>
<rect x="165.6" y="643.4" width="8.6" height="12.7" fill="#000099"/>
<rect x="173.6" y="643.4" width="8.6" height="12.7" fill="#00009d"/>
<rect x="181.6" y="643.4" width="8.6" height="12.7" fill="#0000a1"/>
<rect x="189.6" y="643.4" width="104.6" height="12.7" fill="#0000a5"/>
<rect x="293.6" y="643.4" width="16.6" height="12.7" fill="#0000a1"/>
<rect x="309.6" y="643.4" width="8.6" height="12.7" fill="#000099"/>
<rect x="317.6" y="643.4" width="16.6" height="12.7" fill="#000095"/>
<rect x="333.6" y="643.4" width="8.6" height="12.7" fill="#00009d"/>
<rect x="341.6" y="643.4" width="8.6" height="12.7" fill="#0000a5"/>
<rect x="349.6" y="643.4" width="8.6" height="12.7" fill="#0000a9"/>
<rect x="357.6" y="643.4" width="88.6" height="12.7" fill="#0000ad"/>
<rect x="445.6" y="643.4" width="24.6" height="12.7" fill="#0000b1"/>
<rect x="469.6" y="643.4" width="16.6" height="12.7" fill="#0000b5"/>
<rect x="485.6" y="643.4" width="8.6" height="12.7" fill="#0000b9"/>
<rect x="493.6" y="643.4" width="8.6" height="12.7" fill="#0000a5"/>
<rect x="501.6" y="643.4" width="8.6" height="12.7" fill="#0000ad"/>
<rect x="509.6" y="643.4" width="8.6" height="12.7" fill="#000099"/>
<rect x="517.6" y="643.4" width="32.6" height="12.7" fill="#000095"/>
<rect x="109.6" y="655.5" width="8.6" height="12.7" fill="#000095"/>
<rect x="117.6" y="655.5" width="8.6" height="12.7" fill="#0000b5"/>
<rect x="125.6" y="655.5" width="16.6" height="12.7" fill="#0000c1"/>
<rect x="141.6" y="655.5" width="8.6" height="12.7" fill="#0000b5"/>
<rect x="149.6" y="655.5" width="8.6" height="12.7" fill="#0000ad"/>
<rect x="157.6" y="655.5" width="8.6" height="12.7" fill="#0000a9"/>
<rect x="165.6" y="655.5" width="8.6" height="12.7" fill="#0000a1"/>
<rect x="173.6" y="655.5" width="8.6" height="12.7" fill="#000099"/>
<rect x="181.6" y="655.5" width="8.6" height="12.7" fill="#000095"/>
<rect x="189.6" y="655.5" width="8.6" height="12.7" fill="#000099"/>
<rect x="197.6" y="655.5" width="8.6" height="12.7" fill="#0000a1"/>
<rect x="205.6" y="655.5" width="64.6" height="12.7" fill="#0000a5"/>
<rect x="269.6" y="655.5" width="8.6" height="12.7" fill="#0000a1"/>
<rect x="277.6" y="655.5" width="8.6" height="12.7" fill="#00009d"/>
<rect x="285.6" y="655.5" width="8.6" height="12.7" fill="#000099"/>
<rect x="293.6" y="655.5" width="8.6" height="12.7" fill="#000095"/>
<rect x="301.6" y="655.5" width="8.6" height="12.7" fill="#000099"/>
<rect x="309.6" y="655.5" width="8.6" height="12.7" fill="#0000a1"/>
<rect x="317.6" y="655.5" width="16.6" height="12.7" fill="#0000a9"/>
<rect x="333.6" y="655.5" width="88.6" height="12.7" fill="#0000ad"/>
<rect x="421.6" y="655.5" width="16.6" height="12.7" fill="#0000b1"/>
<rect x="437.6" y="655.5" width="16.6" height="12.7" fill="#0000b5"/>
<rect x="453.6" y="655.5" width="8.6" height="12.7" fill="#0000b9"/>
<rect x="461.6" y="655.5" width="16.6" height="12.7" fill="#0000a9"/>
<rect x="477.6" y="655.5" width="8.6" height="12.7" fill="#000099"/>
<rect x="485.6" y="655.5" width="32.6" height="12.7" fill="#000095"/>
<rect x="109.6" y="667.7" width="8.6" height="12.7" fill="#000095"/>
<rect x="117.6" y="667.7" width="8.6" height="12.7" fill="#0000b5"/>
<rect x="125.6" y="667.7" width="16.6" height="12.7" fill="#0000c1"/>
<rect x="141.6" y="667.7" width="8.6" height="12.7" fill="#0000b5"/>
<rect x="149.6" y="667.7" width="24.6" height="12.7" fill="#0000ad"/>
<rect x="173.6" y="667.7" width="16.6" height="12.7" fill="#0000a9"/>
<rect x="189.6" y="667.7" width="8.6" height="12.7" fill="#00009d"/>
<rect x="197.6" y="667.7" width="16.6" height="12.7" fill="#000095"/>
<rect x="213.6" y="667.7" width="8.6" height="12.7" fill="#00009d"/>
<rect x="221.6" y="667.7" width="8.6" height="12.7" fill="#0000a1"/>
<rect x="229.6" y="667.7" width="16.6" height="12.7" fill="#0000a5"/>
<rect x="245.6" y="667.7" width="8.6" height="12.7" fill="#0000a1"/>
<rect x="253.6" y="667.7" width="8.6" height="12.7" fill="#00009d"/>
<rect x="261.6" y="667.7" width="8.6" height="12.7" fill="#000099"/>
<rect x="269.6" y="667.7" width="8.6" height="12.7" fill="#000095"/>
<rect x="277.6" y="667.7" width="8.6" height="12.7" fill="#000099"/>
<rect x="285.6" y="667.7" width="8.6" height="12.7" fill="#0000a1"/>
<rect x="293.6" y="667.7" width="16.6" height="12.7" fill="#0000a9"/>
<rect x="309.6" y="667.7" width="80.6" height="12.7" fill="#0000ad"/>
<rect x="389.6" y="667.7" width="16.6" height="12.7" fill="#0000b1"/>
<rect x="405.6" y="667.7" width="16.6" height="12.7" fill="#0000b5"/>
<rect x="421.6" y="667.7" width="8.6" height="12.7" fill="#0000b9"/>
<rect x="429.6" y="667.7" width="16.6" height="12.7" fill="#0000a9"/>
<rect x="445.6" y="667.7" width="8.6" height="12.7" fill="#000099"/>
<rect x="453.6" y="667.7" width="32.6" height="12.7" fill="#000095"/>
<rect x="109.6" y="679.8" width="8.6" height="12.7" fill="#000095"/>
<rect x="117.6" y="679.8" width="8.6" height="12.7" fill="#0000b5"/>
<rect x="125.6" y="679.8" width="16.6" height="12.7" fill="#0000c1"/>
<rect x="141.6" y="679.8" width="8.6" height="12.7" fill="#0000b5"/>
<rect x="149.6" y="679.8" width="48.6" height="12.7" fill="#0000ad"/>
<rect x="197.6" y="679.8" width="8.6" height="12.7" fill="#0000a9"/>
<rect x="205.6" y="679.8" width="8.6" height="12.7" fill="#0000a5"/>
<rect x="213.6" y="679.8" width="8.6" height="12.7" fill="#000099"/>
<rect x="221.6" y="679.8" width="8.6" height="12.7" fill="#000095"/>
<rect x="229.6" y="679.8" width="16.6" height="12.7" fill="#000099"/>
<rect x="245.6" y="679.8" width="8.6" height="12.7" fill="#000095"/>
<rect x="253.6" y="679.8" width="8.6" height="12.7" fill="#000099"/>
<rect x="261.6" y="679.8" width="8.6" height="12.7" fill="#0000a5"/>
<rect x="269.6" y="679.8" width="8.6" height="12.7" fill="#0000a9"/>
<rect x="277.6" y="679.8" width="80.6" height="12.7" fill="#0000ad"/>
<rect x="357.6" y="679.8" width="24.6" height="12.7" fill="#0000b1"/>
<rect x="381.6" y="679.8" width="8.6" height="12.7" fill="#0000b5"/>
<rect x="389.6" y="679.8" width="8.6" height="12.7" fill="#0000b9"/>
<rect x="397.6" y="679.8" width="8.6" height="12.7" fill="#0000b1"/>
<rect x="405.6" y="679.8" width="8.6" height="12.7" fill="#0000a5"/>
<rect x="413.6" y="679.8" width="8.6" height="12.7" fill="#0000ad"/>
<rect x="421.6" y="679.8" width="8.6" height="12.7" fill="#000099"/>
<rect x="429.6" y="679.8" width="24.6" height="12.7" fill="#000095"/>
<rect x="109.6" y="691.9" width="8.6" height="12.7" fill="#000095"/>
<rect x="117.6" y="691.9" width="8.6" height="12.7" fill="#0000b5"/>
<rect x="125.6" y="691.9" width="16.6" height="12.7" fill="#0000c1"/>
<rect x="141.6" y="691.9" width="8.6" height="12.7" fill="#0000b5"/>
<rect x="149.6" y="691.9" width="64.6" height="12.7" fill="#0000ad"/>
<rect x="213.6" y="691.9" width="48.6" height="12.7" fill="#0000a9"/>
<rect x="261.6" y="691.9" width="72.6" height="12.7" fill="#0000ad"/>
<rect x="333.6" y="691.9" width="16.6" height="12.7" fill="#0000b1"/>
<rect x="349.6" y="691.9" width="16.6" height="12.7" fill="#0000b5"/>
<rect x="365.6" y="691.9" width="8.6" height="12.7" fill="#0000b9"/>
<rect x="373.6" y="691.9" width="16.6" height="12.7" fill="#0000a9"/>
<rect x="389.6" y="691.9" width="8.6" height="12.7" fill="#000099"/>
<rect x="397.6" y="691.9" width="32.6" height="12.7" fill="#000095"/>
<rect x="109.6" y="704.1" width="8.6" height="12.7" fill="#000095"/>
<rect x="117.6" y="704.1" width="8.6" height="12.7" fill="#0000b5"/>
<rect x="125.6" y="704.1" width="16.6" height="12.7" fill="#0000c1"/>
<rect x="141.6" y="704.1" width="8.6" height="12.7" fill="#0000b5"/>
<rect x="149.6" y="704.1" width="152.6" height="12.7" fill="#0000ad"/>
<rect x="301.6" y="704.1" width="24.6" height="12.7" fill="#0000b1"/>
<rect x="325.6" y="704.1" width="16.6" height="12.7" fill="#0000b5"/>
<rect x="341.6" y="704.1" width="8.6" height="12.7" fill="#0000b9"/>
<rect x="349.6" y="704.1" width="8.6" height="12.7" fill="#0000a5"/>
<rect x="357.6" y="704.1" width="8.6" height="12.7" fill="#0000a9"/>
<rect x="365.6" y="704.1" width="8.6" height="12.7" fill="#000099"/>
<rect x="373.6" y="704.1" width="32.6" height="12.7" fill="#000095"/>
<rect x="109.6" y="716.2" width="8.6" height="12.7" fill="#000095"/>
<rect x="117.6" y="716.2" width="8.6" height="12.7" fill="#0000b5"/>
<rect x="125.6" y="716.2" width="16.6" height="12.7" fill="#0000c1"/>
<rect x="141.6" y="716.2" width="8.6" height="12.7" fill="#0000b5"/>
<rect x="149.6" y="716.2" width="128.6" height="12.7" fill="#0000ad"/>
<rect x="277.6" y="716.2" width="24.6" height="12.7" fill="#0000b1"/>
<rect x="301.6" y="716.2" width="8.6" height="12.7" fill="#0000b5"/>
<rect x="309.6" y="716.2" width="8.6" height="12.7" fill="#0000b9"/>
<rect x="317.6" y="716.2" width="8.6" height="12.7" fill="#0000b5"/>
<rect x="325.6" y="716.2" width="8.6" height="12.7" fill="#0000a5"/>
<rect x="333.6" y="716.2" width="8.6" height="12.7" fill="#0000ad"/>
<rect x="341.6" y="716.2" width="8.6" height="12.7" fill="#000099"/>
<rect x="349.6" y="716.2" width="32.6" height="12.7" fill="#000095"/>
<rect x="109.6" y="728.4" width="8.6" height="12.7" fill="#000095"/>
<rect x="117.6" y="728.4" width="8.6" height="12.7" fill="#0000b5"/>
<rect x="125.6" y="728.4" width="16.6" height="12.7" fill="#0000c1"/>
<rect x="141.6" y="728.4" width="8.6" height="12.7" fill="#0000b5"/>
<rect x="149.6" y="728.4" width="104.6" height="12.7" fill="#0000ad"/>
<rect x="253.6" y="728.4" width="24.6" height="12.7" fill="#0000b1"/>
<rect x="277.6" y="728.4" width="8.6" height="12.7" fill="#0000b5"/>
<rect x="285.6" y="728.4" width="8.6" height="12.7" fill="#0000b9"/>
<rect x="293.6" y="728.4" width="8.6" height="12.7" fill="#0000b1"/>
<rect x="301.6" y="728.4" width="8.6" height="12.7" fill="#0000a5"/>
<rect x="309.6" y="728.4" width="8.6" height="12.7" fill="#0000ad"/>
<rect x="317.6" y="728.4" width="8.6" height="12.7" fill="#000099"/>
<rect x="325.6" y="728.4" width="24.6" height="12.7" fill="#000095"/>
<rect x="109.6" y="740.5" width="8.6" height="12.7" fill="#000095"/>
<rect x="117.6" y="740.5" width="8.6" height="12.7" fill="#0000b5"/>
<rect x="125.6" y="740.5" width="16.6" height="12.7" fill="#0000c1"/>
<rect x="141.6" y="740.5" width="8.6" height="12.7" fill="#0000b5"/>
<rect x="149.6" y="740.5" width="80.6" height="12.7" fill="#0000ad"/>
<rect x="229.6" y="740.5" width="24.6" height="12.7" fill="#0000b1"/>
<rect x="253.6" y="740.5" width="8.6" height="12.7" fill="#0000b5"/>
<rect x="261.6" y="740.5" width="8.6" height="12.7" fill="#0000b9"/>
<rect x="269.6" y="740.5" width="8.6" height="12.7" fill="#0000b5"/>
<rect x="277.6" y="740.5" width="8.6" height="12.7" fill="#0000a5"/>
<rect x="285.6" y="740.5" width="8.6" height="12.7" fill="#0000ad"/>
<rect x="293.6" y="740.5" width="8.6" height="12.7" fill="#000099"/>
<rect x="301.6" y="740.5" width="32.6" height="12.7" fill="#000095"/>
<rect x="109.6" y="752.6" width="8.6" height="12.7" fill="#000095"/>
<rect x="117.6" y="752.6" width="8.6" height="12.7" fill="#0000b5"/>
<rect x="125.6" y="752.6" width="16.6" height="12.7" fill="#0000c1"/>
<rect x="141.6" y="752.6" width="8.6" height="12.7" fill="#0000b5"/>
<rect x="149.6" y="752.6" width="56.6" height="12.7" fill="#0000ad"/>
<rect x="205.6" y="752.6" width="24.6" height="12.7" fill="#0000b1"/>
<rect x="229.6" y="752.6" width="16.6" height="12.7" fill="#0000b5"/>
<rect x="245.6" y="752.6" width="8.6" height="12.7" fill="#0000b9"/>
<rect x="253.6" y="752.6" width="8.6" height="12.7" fill="#0000a5"/>
<rect x="261.6" y="752.6" width="8.6" height="12.7" fill="#0000a9"/>
<rect x="269.6" y="752.6" width="8.6" height="12.7" fill="#000099"/>
<rect x="277.6" y="752.6" width="32.6" height="12.7" fill="#000095"/>
<rect x="109.6" y="764.8" width="8.6" height="12.7" fill="#000095"/>
<rect x="117.6" y="764.8" width="8.6" height="12.7" fill="#0000b5"/>
<rect x="125.6" y="764.8" width="16.6" height="12.7" fill="#0000c1"/>
<rect x="141.6" y="764.8" width="8.6" height="12.7" fill="#0000b5"/>
<rect x="149.6" y="764.8" width="8.6" height="12.7" fill="#0000b1"/>
<rect x="157.6" y="764.8" width="32.6" height="12.7" fill="#0000ad"/>
<rect x="189.6" y="764.8" width="24.6" height="12.7" fill="#0000b1"/>
<rect x="213.6" y="764.8" width="8.6" height="12.7" fill="#0000b5"/>
<rect x="221.6" y="764.8" width="8.6" height="12.7" fill="#0000b9"/>
<rect x="229.6" y="764.8" width="8.6" height="12.7" fill="#0000b1"/>
<rect x="237.6" y="764.8" width="8.6" height="12.7" fill="#0000a5"/>
<rect x="245.6" y="764.8" width="8.6" height="12.7" fill="#0000ad"/>
<rect x="253.6" y="764.8" width="8.6" height="12.7" fill="#000099"/>
<rect x="261.6" y="764.8" width="24.6" height="12.7" fill="#000095"/>
<rect x="109.6" y="776.9" width="8.6" height="12.7" fill="#000095"/>
<rect x="117.6" y="776.9" width="8.6" height="12.7" fill="#0000b5"/>
<rect x="125.6" y="776.9" width="16.6" height="12.7" fill="#0000c1"/>
<rect x="141.6" y="776.9" width="8.6" height="12.7" fill="#0000b5"/>
<rect x="149.6" y="776.9" width="8.6" height="12.7" fill="#0000b1"/>
<rect x="157.6" y="776.9" width="16.6" height="12.7" fill="#0000ad"/>
<rect x="173.6" y="776.9" width="24.6" height="12.7" fill="#0000b1"/>
<rect x="197.6" y="776.9" width="8.6" height="12.7" fill="#0000b5"/>
<rect x="205.6" y="776.9" width="8.6" height="12.7" fill="#0000b9"/>
<rect x="213.6" y="776.9" width="8.6" height="12.7" fill="#0000ad"/>
<rect x="221.6" y="776.9" width="8.6" height="12.7" fill="#0000a9"/>
<rect x="229.6" y="776.9" width="8.6" height="12.7" fill="#0000ad"/>
<rect x="237.6" y="776.9" width="32.6" height="12.7" fill="#000095"/>
<rect x="109.6" y="789.1" width="8.6" height="12.7" fill="#000095"/>
<rect x="117.6" y="789.1" width="8.6" height="12.7" fill="#0000b5"/>
<rect x="125.6" y="789.1" width="16.6" height="12.7" fill="#0000c1"/>
<rect x="141.6" y="789.1" width="8.6" height="12.7" fill="#0000b9"/>
<rect x="149.6" y="789.1" width="32.6" height="12.7" fill="#0000b1"/>
<rect x="181.6" y="789.1" width="8.6" height="12.7" fill="#0000b5"/>
<rect x="189.6" y="789.1" width="8.6" height="12.7" fill="#0000b9"/>
<rect x="197.6" y="789.1" width="8.6" height="12.7" fill="#0000b1"/>
<rect x="205.6" y="789.1" width="8.6" height="12.7" fill="#0000a5"/>
<rect x="213.6" y="789.1" width="8.6" height="12.7" fill="#0000ad"/>
<rect x="221.6" y="789.1" width="8.6" height="12.7" fill="#000099"/>
<rect x="229.6" y="789.1" width="24.6" height="12.7" fill="#000095"/>
<rect x="109.6" y="801.2" width="8.6" height="12.7" fill="#000095"/>
<rect x="117.6" y="801.2" width="8.6" height="12.7" fill="#0000b5"/>
<rect x="125.6" y="801.2" width="8.6" height="12.7" fill="#0000c5"/>
<rect x="133.6" y="801.2" width="8.6" height="12.7" fill="#0000c1"/>
<rect x="141.6" y="801.2" width="8.6" height="12.7" fill="#0000b9"/>
<rect x="149.6" y="801.2" width="16.6" height="12.7" fill="#0000b1"/>
<rect x="165.6" y="801.2" width="16.6" height="12.7" fill="#0000b5"/>
<rect x="181.6" y="801.2" width="8.6" height="12.7" fill="#0000b9"/>
<rect x="189.6" y="801.2" width="8.6" height="12.7" fill="#0000a5"/>
<rect x="197.6" y="801.2" width="8.6" height="12.7" fill="#0000ad"/>
<rect x="205.6" y="801.2" width="8.6" height="12.7" fill="#000099"/>
<rect x="213.6" y="801.2" width="32.6" height="12.7" fill="#000095"/>
<rect x="101.6" y="813.3" width="8.6" height="12.7" fill="#000095"/>
<rect x="109.6" y="813.3" width="8.6" height="12.7" fill="#000099"/>
<rect x="117.6" y="813.3" width="8.6" height="12.7" fill="#0000b9"/>
<rect x="125.6" y="813.3" width="16.6" height="12.7" fill="#0000c5"/>
<rect x="141.6" y="813.3" width="8.6" height="12.7" fill="#0000bd"/>
<rect x="149.6" y="813.3" width="16.6" height="12.7" fill="#0000b5"/>
<rect x="165.6" y="813.3" width="8.6" height="12.7" fill="#0000b9"/>
<rect x="173.6" y="813.3" width="8.6" height="12.7" fill="#0000a5"/>
<rect x="181.6" y="813.3" width="8.6" height="12.7" fill="#0000a9"/>
<rect x="189.6" y="813.3" width="8.6" height="12.7" fill="#000099"/>
<rect x="197.6" y="813.3" width="32.6" height="12.7" fill="#000095"/>
<rect x="101.6" y="825.5" width="8.6" height="12.7" fill="#000095"/>
<rect x="109.6" y="825.5" width="8.6" height="12.7" fill="#000099"/>
<rect x="117.6" y="825.5" width="8.6" height="12.7" fill="#0000b9"/>
<rect x="125.6" y="825.5" width="16.6" height="12.7" fill="#0000c5"/>
<rect x="141.6" y="825.5" width="8.6" height="12.7" fill="#0000bd"/>
<rect x="149.6" y="825.5" width="8.6" height="12.7" fill="#0000b9"/>
<rect x="157.6" y="825.5" width="8.6" height="12.7" fill="#0000b1"/>
<rect x="165.6" y="825.5" width="8.6" height="12.7" fill="#0000a5"/>
<rect x="173.6" y="825.5" width="8.6" height="12.7" fill="#0000ad"/>
<rect x="181.6" y="825.5" width="8.6" height="12.7" fill="#000099"/>
<rect x="189.6" y="825.5" width="24.6" height="12.7" fill="#000095"/>
<rect x="93.6" y="837.6" width="16.6" height="11.2" fill="#000095"/>
<rect x="109.6" y="837.6" width="8.6" height="11.2" fill="#000099"/>
<rect x="117.6" y="837.6" width="8.6" height="11.2" fill="#0000b9"/>
<rect x="125.6" y="837.6" width="16.6" height="11.2" fill="#0000c9"/>
<rect x="141.6" y="837.6" width="8.6" height="11.2" fill="#0000c1"/>
<rect x="149.6" y="837.6" width="8.6" height="11.2" fill="#0000b1"/>
<rect x="157.6" y="837.6" width="8.6" height="11.2" fill="#0000a9"/>
<rect x="165.6" y="837.6" width="8.6" height="11.2" fill="#0000b1"/>
<rect x="173.6" y="837.6" width="32.6" height="11.2" fill="#000095"/>
<rect x="85.6" y="848.2" width="24.6" height="9.7" fill="#000095"/>
<rect x="109.6" y="848.2" width="8.6" height="9.7" fill="#000099"/>
<rect x="117.6" y="848.2" width="8.6" height="9.7" fill="#0000bd"/>
<rect x="125.6" y="848.2" width="8.6" height="9.7" fill="#0000c9"/>
<rect x="133.6" y="848.2" width="8.6" height="9.7" fill="#0000cd"/>
<rect x="141.6" y="848.2" width="8.6" height="9.7" fill="#0000bd"/>
<rect x="149.6" y="848.2" width="8.6" height="9.7" fill="#0000a9"/>
<rect x="157.6" y="848.2" width="8.6" height="9.7" fill="#0000ad"/>
<rect x="165.6" y="848.2" width="8.6" height="9.7" fill="#000099"/>
<rect x="173.6" y="848.2" width="32.6" height="9.7" fill="#000095"/>
<rect x="85.6" y="857.3" width="24.6" height="9.7" fill="#000095"/>
<rect x="109.6" y="857.3" width="8.6" height="9.7" fill="#00009d"/>
<rect x="117.6" y="857.3" width="8.6" height="9.7" fill="#0000bd"/>
<rect x="125.6" y="857.3" width="16.6" height="9.7" fill="#0000cd"/>
<rect x="141.6" y="857.3" width="16.6" height="9.7" fill="#0000ad"/>
<rect x="157.6" y="857.3" width="8.6" height="9.7" fill="#000099"/>
<rect x="165.6" y="857.3" width="32.6" height="9.7" fill="#000095"/>
<rect x="77.6" y="866.4" width="24.6" height="9.7" fill="#000095"/>
<rect x="101.6" y="866.4" width="8.6" height="9.7" fill="#000099"/>
<rect x="109.6" y="866.4" width="8.6" height="9.7" fill="#00009d"/>
<rect x="117.6" y="866.4" width="8.6" height="9.7" fill="#0000c1"/>
<rect x="125.6" y="866.4" width="8.6" height="9.7" fill="#0000cd"/>
<rect x="133.6" y="866.4" width="8.6" height="9.7" fill="#0000c1"/>
<rect x="141.6" y="866.4" width="8.6" height="9.7" fill="#0000b1"/>
<rect x="149.6" y="866.4" width="8.6" height="9.7" fill="#00009d"/>
<rect x="157.6" y="866.4" width="8.6" height="9.7" fill="#000099"/>
<rect x="165.6" y="866.4" width="24.6" height="9.7" fill="#000095"/>
<rect x="77.6" y="875.5" width="24.6" height="9.7" fill="#000095"/>
<rect x="101.6" y="875.5" width="8.6" height="9.7" fill="#000099"/>
<rect x="109.6" y="875.5" width="8.6" height="9.7" fill="#00009d"/>
<rect x="117.6" y="875.5" width="8.6" height="9.7" fill="#0000c1"/>
<rect x="125.6" y="875.5" width="8.6" height="9.7" fill="#0000cd"/>
<rect x="133.6" y="875.5" width="8.6" height="9.7" fill="#0000b9"/>
<rect x="141.6" y="875.5" width="8.6" height="9.7" fill="#0000b5"/>
<rect x="149.6" y="875.5" width="8.6" height="9.7" fill="#000099"/>
<rect x="157.6" y="875.5" width="32.6" height="9.7" fill="#000095"/>
<rect x="77.6" y="884.6" width="24.6" height="9.7" fill="#000095"/>
<rect x="101.6" y="884.6" width="8.6" height="9.7" fill="#000099"/>
<rect x="109.6" y="884.6" width="8.6" height="9.7" fill="#00009d"/>
<rect x="117.6" y="884.6" width="8.6" height="9.7" fill="#0000c1"/>
<rect x="125.6" y="884.6" width="8.6" height="9.7" fill="#0000c5"/>
<rect x="133.6" y="884.6" width="8.6" height="9.7" fill="#0000bd"/>
<rect x="141.6" y="884.6" width="8.6" height="9.7" fill="#0000b9"/>
<rect x="149.6" y="884.6" width="8.6" height="9.7" fill="#000099"/>
<rect x="157.6" y="884.6" width="24.6" height="9.7" fill="#000095"/>
</g>
<g filter="url(#bl)">
<rect x="539.9" y="619.10" width="3.0" height="6.67" fill="#0000b7"/>
<rect x="542.9" y="619.10" width="3.0" height="6.67" fill="#0000bb"/>
<rect x="545.9" y="619.10" width="3.0" height="6.67" fill="#0000bf"/>
<rect x="548.9" y="619.10" width="3.0" height="6.67" fill="#0000c3"/>
<rect x="551.9" y="619.10" width="3.0" height="6.67" fill="#0000cb"/>
<rect x="554.9" y="619.10" width="3.0" height="6.67" fill="#0000db"/>
<rect x="557.9" y="619.10" width="3.0" height="6.67" fill="#0000f7"/>
<rect x="560.9" y="619.10" width="3.0" height="6.67" fill="#0030ff"/>
<rect x="563.9" y="619.10" width="3.0" height="6.67" fill="#0080ff"/>
<rect x="566.9" y="619.10" width="3.0" height="6.67" fill="#10ffef"/>
<rect x="569.9" y="619.10" width="3.0" height="6.67" fill="#dfff20"/>
<rect x="572.9" y="619.10" width="3.0" height="6.67" fill="#ff5000"/>
<rect x="575.9" y="619.10" width="3.0" height="6.67" fill="#af0000"/>
<rect x="578.9" y="619.10" width="3.0" height="6.67" fill="#800000"/>
<rect x="581.9" y="619.10" width="3.0" height="6.67" fill="#9f0000"/>
<rect x="584.9" y="619.10" width="3.0" height="6.67" fill="#ff3000"/>
<rect x="587.9" y="619.10" width="1.6" height="6.67" fill="#ffff00"/>
<rect x="524.9" y="625.17" width="6.0" height="6.67" fill="#0000bb"/>
<rect x="530.9" y="625.17" width="3.0" height="6.67" fill="#0000bf"/>
<rect x="533.9" y="625.17" width="3.0" height="6.67" fill="#0000c7"/>
<rect x="536.9" y="625.17" width="3.0" height="6.67" fill="#0000cf"/>
<rect x="539.9" y="625.17" width="3.0" height="6.67" fill="#0000e3"/>
<rect x="542.9" y="625.17" width="3.0" height="6.67" fill="#000cff"/>
<rect x="545.9" y="625.17" width="3.0" height="6.67" fill="#0050ff"/>
<rect x="548.9" y="625.17" width="3.0" height="6.67" fill="#00bfff"/>
<rect x="551.9" y="625.17" width="3.0" height="6.67" fill="#80ff80"/>
<rect x="554.9" y="625.17" width="3.0" height="6.67" fill="#ff9f00"/>
<rect x="557.9" y="625.17" width="3.0" height="6.67" fill="#bf0000"/>
<rect x="560.9" y="625.17" width="9.0" height="6.67" fill="#800000"/>
<rect x="569.9" y="625.17" width="3.0" height="6.67" fill="#ff1000"/>
<rect x="572.9" y="625.17" width="3.0" height="6.67" fill="#ffef00"/>
<rect x="575.9" y="625.17" width="3.0" height="6.67" fill="#40ffbf"/>
<rect x="578.9" y="625.17" width="3.0" height="6.67" fill="#008fff"/>
<rect x="581.9" y="625.17" width="3.0" height="6.67" fill="#0020ff"/>
<rect x="584.9" y="625.17" width="3.0" height="6.67" fill="#0000db"/>
<rect x="587.9" y="625.17" width="1.6" height="6.67" fill="#0000bb"/>
<rect x="506.9" y="631.24" width="3.0" height="6.67" fill="#0000b7"/>
<rect x="509.9" y="631.24" width="3.0" height="6.67" fill="#0000bb"/>
<rect x="512.9" y="631.24" width="3.0" height="6.67" fill="#0000bf"/>
<rect x="515.9" y="631.24" width="3.0" height="6.67" fill="#0000c3"/>
<rect x="518.9" y="631.24" width="3.0" height="6.67" fill="#0000cb"/>
<rect x="521.9" y="631.24" width="3.0" height="6.67" fill="#0000d7"/>
<rect x="524.9" y="631.24" width="3.0" height="6.67" fill="#0000f3"/>
<rect x="527.9" y="631.24" width="3.0" height="6.67" fill="#0030ff"/>
<rect x="530.9" y="631.24" width="3.0" height="6.67" fill="#0080ff"/>
<rect x="533.9" y="631.24" width="3.0" height="6.67" fill="#10ffef"/>
<rect x="536.9" y="631.24" width="3.0" height="6.67" fill="#efff10"/>
<rect x="539.9" y="631.24" width="3.0" height="6.67" fill="#ff2000"/>
<rect x="542.9" y="631.24" width="12.0" height="6.67" fill="#800000"/>
<rect x="554.9" y="631.24" width="3.0" height="6.67" fill="#df0000"/>
<rect x="557.9" y="631.24" width="3.0" height="6.67" fill="#ffcf00"/>
<rect x="560.9" y="631.24" width="3.0" height="6.67" fill="#40ffbf"/>
<rect x="563.9" y="631.24" width="3.0" height="6.67" fill="#008fff"/>
<rect x="566.9" y="631.24" width="3.0" height="6.67" fill="#0020ff"/>
<rect x="569.9" y="631.24" width="3.0" height="6.67" fill="#0000db"/>
<rect x="572.9" y="631.24" width="3.0" height="6.67" fill="#0000bb"/>
<rect x="575.9" y="631.24" width="3.0" height="6.67" fill="#0000ab"/>
<rect x="578.9" y="631.24" width="3.0" height="6.67" fill="#0000a3"/>
<rect x="581.9" y="631.24" width="3.0" height="6.67" fill="#00009f"/>
<rect x="584.9" y="631.24" width="4.6" height="6.67" fill="#00009b"/>
<rect x="491.9" y="637.31" width="6.0" height="6.67" fill="#0000bb"/>
<rect x="497.9" y="637.31" width="3.0" height="6.67" fill="#0000bf"/>
<rect x="500.9" y="637.31" width="3.0" height="6.67" fill="#0000c7"/>
<rect x="503.9" y="637.31" width="3.0" height="6.67" fill="#0000cf"/>
<rect x="506.9" y="637.31" width="3.0" height="6.67" fill="#0000df"/>
<rect x="509.9" y="637.31" width="3.0" height="6.67" fill="#0004ff"/>
<rect x="512.9" y="637.31" width="3.0" height="6.67" fill="#0040ff"/>
<rect x="515.9" y="637.31" width="3.0" height="6.67" fill="#00afff"/>
<rect x="518.9" y="637.31" width="3.0" height="6.67" fill="#60ff9f"/>
<rect x="521.9" y="637.31" width="3.0" height="6.67" fill="#ffaf00"/>
<rect x="524.9" y="637.31" width="3.0" height="6.67" fill="#8f0000"/>
<rect x="527.9" y="637.31" width="12.0" height="6.67" fill="#800000"/>
<rect x="539.9" y="637.31" width="3.0" height="6.67" fill="#af0000"/>
<rect x="542.9" y="637.31" width="3.0" height="6.67" fill="#ffbf00"/>
<rect x="545.9" y="637.31" width="3.0" height="6.67" fill="#50ffaf"/>
<rect x="548.9" y="637.31" width="3.0" height="6.67" fill="#008fff"/>
<rect x="551.9" y="637.31" width="3.0" height="6.67" fill="#0020ff"/>
<rect x="554.9" y="637.31" width="3.0" height="6.67" fill="#0000db"/>
<rect x="557.9" y="637.31" width="3.0" height="6.67" fill="#0000bb"/>
<rect x="560.9" y="637.31" width="3.0" height="6.67" fill="#0000ab"/>
<rect x="563.9" y="637.31" width="3.0" height="6.67" fill="#0000a3"/>
<rect x="566.9" y="637.31" width="3.0" height="6.67" fill="#00009f"/>
<rect x="569.9" y="637.31" width="6.0" height="6.67" fill="#00009b"/>
<rect x="473.9" y="643.38" width="3.0" height="6.67" fill="#0000b7"/>
<rect x="476.9" y="643.38" width="3.0" height="6.67" fill="#0000bb"/>
<rect x="479.9" y="643.38" width="3.0" height="6.67" fill="#0000bf"/>
<rect x="482.9" y="643.38" width="3.0" height="6.67" fill="#0000c3"/>
<rect x="485.9" y="643.38" width="3.0" height="6.67" fill="#0000cb"/>
<rect x="488.9" y="643.38" width="3.0" height="6.67" fill="#0000d7"/>
<rect x="491.9" y="643.38" width="3.0" height="6.67" fill="#0000ef"/>
<rect x="494.9" y="643.38" width="3.0" height="6.67" fill="#0020ff"/>
<rect x="497.9" y="643.38" width="3.0" height="6.67" fill="#0070ff"/>
<rect x="500.9" y="643.38" width="3.0" height="6.67" fill="#00ffff"/>
<rect x="503.9" y="643.38" width="3.0" height="6.67" fill="#cfff30"/>
<rect x="506.9" y="643.38" width="3.0" height="6.67" fill="#ff2000"/>
<rect x="509.9" y="643.38" width="15.0" height="6.67" fill="#800000"/>
<rect x="524.9" y="643.38" width="3.0" height="6.67" fill="#af0000"/>
<rect x="527.9" y="643.38" width="3.0" height="6.67" fill="#ffcf00"/>
<rect x="530.9" y="643.38" width="3.0" height="6.67" fill="#30ffcf"/>
<rect x="533.9" y="643.38" width="3.0" height="6.67" fill="#0080ff"/>
<rect x="536.9" y="643.38" width="3.0" height="6.67" fill="#0010ff"/>
<rect x="539.9" y="643.38" width="3.0" height="6.67" fill="#0000d7"/>
<rect x="542.9" y="643.38" width="3.0" height="6.67" fill="#0000bb"/>
<rect x="545.9" y="643.38" width="3.0" height="6.67" fill="#0000ab"/>
<rect x="548.9" y="643.38" width="3.0" height="6.67" fill="#0000a3"/>
<rect x="551.9" y="643.38" width="3.0" height="6.67" fill="#00009f"/>
<rect x="554.9" y="643.38" width="6.0" height="6.67" fill="#00009b"/>
<rect x="458.9" y="649.45" width="3.0" height="6.67" fill="#0000b7"/>
<rect x="461.9" y="649.45" width="3.0" height="6.67" fill="#0000bb"/>
<rect x="464.9" y="649.45" width="3.0" height="6.67" fill="#0000bf"/>
<rect x="467.9" y="649.45" width="3.0" height="6.67" fill="#0000c3"/>
<rect x="470.9" y="649.45" width="3.0" height="6.67" fill="#0000cb"/>
<rect x="473.9" y="649.45" width="3.0" height="6.67" fill="#0000d7"/>
<rect x="476.9" y="649.45" width="3.0" height="6.67" fill="#0000f3"/>
<rect x="479.9" y="649.45" width="3.0" height="6.67" fill="#0030ff"/>
<rect x="482.9" y="649.45" width="3.0" height="6.67" fill="#0080ff"/>
<rect x="485.9" y="649.45" width="3.0" height="6.67" fill="#20ffdf"/>
<rect x="488.9" y="649.45" width="3.0" height="6.67" fill="#ffff00"/>
<rect x="491.9" y="649.45" width="3.0" height="6.67" fill="#cf0000"/>
<rect x="494.9" y="649.45" width="18.0" height="6.67" fill="#800000"/>
<rect x="512.9" y="649.45" width="3.0" height="6.67" fill="#ff9f00"/>
<rect x="515.9" y="649.45" width="3.0" height="6.67" fill="#60ff9f"/>
<rect x="518.9" y="649.45" width="3.0" height="6.67" fill="#009fff"/>
<rect x="521.9" y="649.45" width="3.0" height="6.67" fill="#0020ff"/>
<rect x="524.9" y="649.45" width="3.0" height="6.67" fill="#0000df"/>
<rect x="527.9" y="649.45" width="3.0" height="6.67" fill="#0000bb"/>
<rect x="530.9" y="649.45" width="3.0" height="6.67" fill="#0000ab"/>
<rect x="533.9" y="649.45" width="3.0" height="6.67" fill="#0000a3"/>
<rect x="536.9" y="649.45" width="3.0" height="6.67" fill="#00009f"/>
<rect x="539.9" y="649.45" width="6.0" height="6.67" fill="#00009b"/>
<rect x="443.9" y="655.52" width="6.0" height="6.67" fill="#0000bb"/>
<rect x="449.9" y="655.52" width="3.0" height="6.67" fill="#0000bf"/>
<rect x="452.9" y="655.52" width="3.0" height="6.67" fill="#0000c3"/>
<rect x="455.9" y="655.52" width="3.0" height="6.67" fill="#0000cb"/>
<rect x="458.9" y="655.52" width="3.0" height="6.67" fill="#0000db"/>
<rect x="461.9" y="655.52" width="3.0" height="6.67" fill="#0000f7"/>
<rect x="464.9" y="655.52" width="3.0" height="6.67" fill="#0030ff"/>
<rect x="467.9" y="655.52" width="3.0" height="6.67" fill="#008fff"/>
<rect x="470.9" y="655.52" width="3.0" height="6.67" fill="#30ffcf"/>
<rect x="473.9" y="655.52" width="3.0" height="6.67" fill="#ffdf00"/>
<rect x="476.9" y="655.52" width="3.0" height="6.67" fill="#9f0000"/>
<rect x="479.9" y="655.52" width="18.0" height="6.67" fill="#800000"/>
<rect x="497.9" y="655.52" width="3.0" height="6.67" fill="#ff6000"/>
<rect x="500.9" y="655.52" width="3.0" height="6.67" fill="#8fff70"/>
<rect x="503.9" y="655.52" width="3.0" height="6.67" fill="#00bfff"/>
<rect x="506.9" y="655.52" width="3.0" height="6.67" fill="#0030ff"/>
<rect x="509.9" y="655.52" width="3.0" height="6.67" fill="#0000e7"/>
<rect x="512.9" y="655.52" width="3.0" height="6.67" fill="#0000c3"/>
<rect x="515.9" y="655.52" width="3.0" height="6.67" fill="#0000af"/>
<rect x="518.9" y="655.52" width="3.0" height="6.67" fill="#0000a7"/>
<rect x="521.9" y="655.52" width="6.0" height="6.67" fill="#00009f"/>
<rect x="527.9" y="655.52" width="3.0" height="6.67" fill="#00009b"/>
<rect x="530.9" y="655.52" width="3.0" height="6.67" fill="#000097"/>
<rect x="425.9" y="661.59" width="3.0" height="6.67" fill="#0000b7"/>
<rect x="428.9" y="661.59" width="3.0" height="6.67" fill="#0000bb"/>
<rect x="431.9" y="661.59" width="3.0" height="6.67" fill="#0000bf"/>
<rect x="434.9" y="661.59" width="3.0" height="6.67" fill="#0000c3"/>
<rect x="437.9" y="661.59" width="3.0" height="6.67" fill="#0000c7"/>
<rect x="440.9" y="661.59" width="3.0" height="6.67" fill="#0000d3"/>
<rect x="443.9" y="661.59" width="3.0" height="6.67" fill="#0000e3"/>
<rect x="446.9" y="661.59" width="3.0" height="6.67" fill="#0008ff"/>
<rect x="449.9" y="661.59" width="3.0" height="6.67" fill="#0050ff"/>
<rect x="452.9" y="661.59" width="3.0" height="6.67" fill="#00bfff"/>
<rect x="455.9" y="661.59" width="3.0" height="6.67" fill="#80ff80"/>
<rect x="458.9" y="661.59" width="3.0" height="6.67" fill="#ff6000"/>
<rect x="461.9" y="661.59" width="21.0" height="6.67" fill="#800000"/>
<rect x="482.9" y="661.59" width="3.0" height="6.67" fill="#ff6000"/>
<rect x="485.9" y="661.59" width="3.0" height="6.67" fill="#80ff80"/>
<rect x="488.9" y="661.59" width="3.0" height="6.67" fill="#00afff"/>
<rect x="491.9" y="661.59" width="3.0" height="6.67" fill="#0030ff"/>
<rect x="494.9" y="661.59" width="3.0" height="6.67" fill="#0000e3"/>
<rect x="497.9" y="661.59" width="3.0" height="6.67" fill="#0000bf"/>
<rect x="500.9" y="661.59" width="3.0" height="6.67" fill="#0000af"/>
<rect x="503.9" y="661.59" width="3.0" height="6.67" fill="#0000a7"/>
<rect x="506.9" y="661.59" width="6.0" height="6.67" fill="#00009f"/>
<rect x="512.9" y="661.59" width="3.0" height="6.67" fill="#00009b"/>
<rect x="515.9" y="661.59" width="3.0" height="6.67" fill="#000097"/>
<rect x="410.9" y="667.66" width="3.0" height="6.67" fill="#0000b7"/>
<rect x="413.9" y="667.66" width="3.0" height="6.67" fill="#0000bb"/>
<rect x="416.9" y="667.66" width="3.0" height="6.67" fill="#0000bf"/>
<rect x="419.9" y="667.66" width="3.0" height="6.67" fill="#0000c3"/>
<rect x="422.9" y="667.66" width="3.0" height="6.67" fill="#0000cb"/>
<rect x="425.9" y="667.66" width="3.0" height="6.67" fill="#0000d7"/>
<rect x="428.9" y="667.66" width="3.0" height="6.67" fill="#0000eb"/>
<rect x="431.9" y="667.66" width="3.0" height="6.67" fill="#0020ff"/>
<rect x="434.9" y="667.66" width="3.0" height="6.67" fill="#0070ff"/>
<rect x="437.9" y="667.66" width="3.0" height="6.67" fill="#00ffff"/>
<rect x="440.9" y="667.66" width="3.0" height="6.67" fill="#cfff30"/>
<rect x="443.9" y="667.66" width="3.0" height="6.67" fill="#ef0000"/>
<rect x="446.9" y="667.66" width="21.0" height="6.67" fill="#800000"/>
<rect x="467.9" y="667.66" width="3.0" height="6.67" fill="#ff6000"/>
<rect x="470.9" y="667.66" width="3.0" height="6.67" fill="#80ff80"/>
<rect x="473.9" y="667.66" width="3.0" height="6.67" fill="#00afff"/>
<rect x="476.9" y="667.66" width="3.0" height="6.67" fill="#0030ff"/>
<rect x="479.9" y="667.66" width="3.0" height="6.67" fill="#0000e3"/>
<rect x="482.9" y="667.66" width="3.0" height="6.67" fill="#0000bf"/>
<rect x="485.9" y="667.66" width="3.0" height="6.67" fill="#0000af"/>
<rect x="488.9" y="667.66" width="3.0" height="6.67" fill="#0000a7"/>
<rect x="491.9" y="667.66" width="3.0" height="6.67" fill="#0000a3"/>
<rect x="494.9" y="667.66" width="3.0" height="6.67" fill="#00009f"/>
<rect x="497.9" y="667.66" width="3.0" height="6.67" fill="#00009b"/>
<rect x="500.9" y="667.66" width="3.0" height="6.67" fill="#000097"/>
<rect x="395.9" y="673.73" width="6.0" height="6.67" fill="#0000bb"/>
<rect x="401.9" y="673.73" width="3.0" height="6.67" fill="#0000bf"/>
<rect x="404.9" y="673.73" width="3.0" height="6.67" fill="#0000c7"/>
<rect x="407.9" y="673.73" width="3.0" height="6.67" fill="#0000cb"/>
<rect x="410.9" y="673.73" width="3.0" height="6.67" fill="#0000db"/>
<rect x="413.9" y="673.73" width="3.0" height="6.67" fill="#0000f3"/>
<rect x="416.9" y="673.73" width="3.0" height="6.67" fill="#0030ff"/>
<rect x="419.9" y="673.73" width="3.0" height="6.67" fill="#008fff"/>
<rect x="422.9" y="673.73" width="3.0" height="6.67" fill="#20ffdf"/>
<rect x="425.9" y="673.73" width="3.0" height="6.67" fill="#ffdf00"/>
<rect x="428.9" y="673.73" width="3.0" height="6.67" fill="#8f0000"/>
<rect x="431.9" y="673.73" width="21.0" height="6.67" fill="#800000"/>
<rect x="452.9" y="673.73" width="3.0" height="6.67" fill="#ff4000"/>
<rect x="455.9" y="673.73" width="3.0" height="6.67" fill="#8fff70"/>
<rect x="458.9" y="673.73" width="3.0" height="6.67" fill="#00afff"/>
<rect x="461.9" y="673.73" width="3.0" height="6.67" fill="#0030ff"/>
<rect x="464.9" y="673.73" width="3.0" height="6.67" fill="#0000e7"/>
<rect x="467.9" y="673.73" width="3.0" height="6.67" fill="#0000c3"/>
<rect x="470.9" y="673.73" width="3.0" height="6.67" fill="#0000af"/>
<rect x="473.9" y="673.73" width="3.0" height="6.67" fill="#0000a7"/>
<rect x="476.9" y="673.73" width="3.0" height="6.67" fill="#0000a3"/>
<rect x="479.9" y="673.73" width="3.0" height="6.67" fill="#00009f"/>
<rect x="482.9" y="673.73" width="3.0" height="6.67" fill="#00009b"/>
<rect x="485.9" y="673.73" width="3.0" height="6.67" fill="#000097"/>
<rect x="380.9" y="679.80" width="6.0" height="6.67" fill="#0000bb"/>
<rect x="386.9" y="679.80" width="3.0" height="6.67" fill="#0000bf"/>
<rect x="389.9" y="679.80" width="3.0" height="6.67" fill="#0000c7"/>
<rect x="392.9" y="679.80" width="3.0" height="6.67" fill="#0000cf"/>
<rect x="395.9" y="679.80" width="3.0" height="6.67" fill="#0000db"/>
<rect x="398.9" y="679.80" width="3.0" height="6.67" fill="#0000fb"/>
<rect x="401.9" y="679.80" width="3.0" height="6.67" fill="#0030ff"/>
<rect x="404.9" y="679.80" width="3.0" height="6.67" fill="#009fff"/>
<rect x="407.9" y="679.80" width="3.0" height="6.67" fill="#50ffaf"/>
<rect x="410.9" y="679.80" width="3.0" height="6.67" fill="#ff9f00"/>
<rect x="413.9" y="679.80" width="24.0" height="6.67" fill="#800000"/>
<rect x="437.9" y="679.80" width="3.0" height="6.67" fill="#ff0000"/>
<rect x="440.9" y="679.80" width="3.0" height="6.67" fill="#afff50"/>
<rect x="443.9" y="679.80" width="3.0" height="6.67" fill="#00cfff"/>
<rect x="446.9" y="679.80" width="3.0" height="6.67" fill="#0040ff"/>
<rect x="449.9" y="679.80" width="3.0" height="6.67" fill="#0000ef"/>
<rect x="452.9" y="679.80" width="3.0" height="6.67" fill="#0000c7"/>
<rect x="455.9" y="679.80" width="3.0" height="6.67" fill="#0000b3"/>
<rect x="458.9" y="679.80" width="3.0" height="6.67" fill="#0000a7"/>
<rect x="461.9" y="679.80" width="3.0" height="6.67" fill="#0000a3"/>
<rect x="464.9" y="679.80" width="3.0" height="6.67" fill="#00009f"/>
<rect x="467.9" y="679.80" width="6.0" height="6.67" fill="#00009b"/>
<rect x="365.9" y="685.87" width="3.0" height="6.67" fill="#0000b7"/>
<rect x="368.9" y="685.87" width="3.0" height="6.67" fill="#0000bb"/>
<rect x="371.9" y="685.87" width="3.0" height="6.67" fill="#0000bf"/>
<rect x="374.9" y="685.87" width="3.0" height="6.67" fill="#0000c3"/>
<rect x="377.9" y="685.87" width="3.0" height="6.67" fill="#0000cb"/>
<rect x="380.9" y="685.87" width="3.0" height="6.67" fill="#0000d7"/>
<rect x="383.9" y="685.87" width="3.0" height="6.67" fill="#0000ef"/>
<rect x="386.9" y="685.87" width="3.0" height="6.67" fill="#0020ff"/>
<rect x="389.9" y="685.87" width="3.0" height="6.67" fill="#0080ff"/>
<rect x="392.9" y="685.87" width="3.0" height="6.67" fill="#20ffdf"/>
<rect x="395.9" y="685.87" width="3.0" height="6.67" fill="#ffef00"/>
<rect x="398.9" y="685.87" width="27.0" height="6.67" fill="#800000"/>
<rect x="425.9" y="685.87" width="3.0" height="6.67" fill="#ffaf00"/>
<rect x="428.9" y="685.87" width="3.0" height="6.67" fill="#30ffcf"/>
<rect x="431.9" y="685.87" width="3.0" height="6.67" fill="#0080ff"/>
<rect x="434.9" y="685.87" width="3.0" height="6.67" fill="#0010ff"/>
<rect x="437.9" y="685.87" width="3.0" height="6.67" fill="#0000d7"/>
<rect x="440.9" y="685.87" width="3.0" height="6.67" fill="#0000bb"/>
<rect x="443.9" y="685.87" width="3.0" height="6.67" fill="#0000ab"/>
<rect x="446.9" y="685.87" width="3.0" height="6.67" fill="#0000a3"/>
<rect x="449.9" y="685.87" width="3.0" height="6.67" fill="#00009f"/>
<rect x="452.9" y="685.87" width="6.0" height="6.67" fill="#00009b"/>
<rect x="350.9" y="691.94" width="3.0" height="6.67" fill="#0000b7"/>
<rect x="353.9" y="691.94" width="3.0" height="6.67" fill="#0000bb"/>
<rect x="356.9" y="691.94" width="3.0" height="6.67" fill="#0000bf"/>
<rect x="359.9" y="691.94" width="3.0" height="6.67" fill="#0000c3"/>
<rect x="362.9" y="691.94" width="3.0" height="6.67" fill="#0000c7"/>
<rect x="365.9" y="691.94" width="3.0" height="6.67" fill="#0000d3"/>
<rect x="368.9" y="691.94" width="3.0" height="6.67" fill="#0000e3"/>
<rect x="371.9" y="691.94" width="3.0" height="6.67" fill="#000cff"/>
<rect x="374.9" y="691.94" width="3.0" height="6.67" fill="#0050ff"/>
<rect x="377.9" y="691.94" width="3.0" height="6.67" fill="#00dfff"/>
<rect x="380.9" y="691.94" width="3.0" height="6.67" fill="#afff50"/>
<rect x="383.9" y="691.94" width="3.0" height="6.67" fill="#ff0000"/>
<rect x="386.9" y="691.94" width="24.0" height="6.67" fill="#800000"/>
<rect x="410.9" y="691.94" width="3.0" height="6.67" fill="#af0000"/>
<rect x="413.9" y="691.94" width="3.0" height="6.67" fill="#dfff20"/>
<rect x="416.9" y="691.94" width="3.0" height="6.67" fill="#00dfff"/>
<rect x="419.9" y="691.94" width="3.0" height="6.67" fill="#0050ff"/>
<rect x="422.9" y="691.94" width="3.0" height="6.67" fill="#0000f3"/>
<rect x="425.9" y="691.94" width="3.0" height="6.67" fill="#0000c7"/>
<rect x="428.9" y="691.94" width="3.0" height="6.67" fill="#0000b3"/>
<rect x="431.9" y="691.94" width="3.0" height="6.67" fill="#0000a7"/>
<rect x="434.9" y="691.94" width="3.0" height="6.67" fill="#0000a3"/>
<rect x="437.9" y="691.94" width="3.0" height="6.67" fill="#00009f"/>
<rect x="440.9" y="691.94" width="3.0" height="6.67" fill="#00009b"/>
<rect x="443.9" y="691.94" width="3.0" height="6.67" fill="#000097"/>
<rect x="338.9" y="698.01" width="3.0" height="6.67" fill="#0000b7"/>
<rect x="341.9" y="698.01" width="3.0" height="6.67" fill="#0000bb"/>
<rect x="344.9" y="698.01" width="3.0" height="6.67" fill="#0000bf"/>
<rect x="347.9" y="698.01" width="3.0" height="6.67" fill="#0000c3"/>
<rect x="350.9" y="698.01" width="3.0" height="6.67" fill="#0000cb"/>
<rect x="353.9" y="698.01" width="3.0" height="6.67" fill="#0000d7"/>
<rect x="356.9" y="698.01" width="3.0" height="6.67" fill="#0000f3"/>
<rect x="359.9" y="698.01" width="3.0" height="6.67" fill="#0030ff"/>
<rect x="362.9" y="698.01" width="3.0" height="6.67" fill="#008fff"/>
<rect x="365.9" y="698.01" width="3.0" height="6.67" fill="#40ffbf"/>
<rect x="368.9" y="698.01" width="3.0" height="6.67" fill="#ffaf00"/>
<rect x="371.9" y="698.01" width="27.0" height="6.67" fill="#800000"/>
<rect x="398.9" y="698.01" width="3.0" height="6.67" fill="#ff3000"/>
<rect x="401.9" y="698.01" width="3.0" height="6.67" fill="#80ff80"/>
<rect x="404.9" y="698.01" width="3.0" height="6.67" fill="#00afff"/>
<rect x="407.9" y="698.01" width="3.0" height="6.67" fill="#0020ff"/>
<rect x="410.9" y="698.01" width="3.0" height="6.67" fill="#0000df"/>
<rect x="413.9" y="698.01" width="3.0" height="6.67" fill="#0000bf"/>
<rect x="416.9" y="698.01" width="3.0" height="6.67" fill="#0000af"/>
<rect x="419.9" y="698.01" width="3.0" height="6.67" fill="#0000a7"/>
<rect x="422.9" y="698.01" width="3.0" height="6.67" fill="#00009f"/>
<rect x="425.9" y="698.01" width="6.0" height="6.67" fill="#00009b"/>
<rect x="326.9" y="704.08" width="6.0" height="6.67" fill="#0000bb"/>
<rect x="332.9" y="704.08" width="3.0" height="6.67" fill="#0000bf"/>
<rect x="335.9" y="704.08" width="3.0" height="6.67" fill="#0000c7"/>
<rect x="338.9" y="704.08" width="3.0" height="6.67" fill="#0000cf"/>
<rect x="341.9" y="704.08" width="3.0" height="6.67" fill="#0000df"/>
<rect x="344.9" y="704.08" width="3.0" height="6.67" fill="#0004ff"/>
<rect x="347.9" y="704.08" width="3.0" height="6.67" fill="#0050ff"/>
<rect x="350.9" y="704.08" width="3.0" height="6.67" fill="#00cfff"/>
<rect x="353.9" y="704.08" width="3.0" height="6.67" fill="#9fff60"/>
<rect x="356.9" y="704.08" width="3.0" height="6.67" fill="#ff2000"/>
<rect x="359.9" y="704.08" width="27.0" height="6.67" fill="#800000"/>
<rect x="386.9" y="704.08" width="3.0" height="6.67" fill="#ff8000"/>
<rect x="389.9" y="704.08" width="3.0" height="6.67" fill="#50ffaf"/>
<rect x="392.9" y="704.08" width="3.0" height="6.67" fill="#0080ff"/>
<rect x="395.9" y="704.08" width="3.0" height="6.67" fill="#0010ff"/>
<rect x="398.9" y="704.08" width="3.0" height="6.67" fill="#0000d7"/>
<rect x="401.9" y="704.08" width="3.0" height="6.67" fill="#0000bb"/>
<rect x="404.9" y="704.08" width="3.0" height="6.67" fill="#0000ab"/>
<rect x="407.9" y="704.08" width="3.0" height="6.67" fill="#0000a3"/>
<rect x="410.9" y="704.08" width="3.0" height="6.67" fill="#00009f"/>
<rect x="413.9" y="704.08" width="6.0" height="6.67" fill="#00009b"/>
<rect x="311.9" y="710.15" width="3.0" height="6.67" fill="#0000b7"/>
<rect x="314.9" y="710.15" width="3.0" height="6.67" fill="#0000bb"/>
<rect x="317.9" y="710.15" width="3.0" height="6.67" fill="#0000bf"/>
<rect x="320.9" y="710.15" width="3.0" height="6.67" fill="#0000c3"/>
<rect x="323.9" y="710.15" width="3.0" height="6.67" fill="#0000c7"/>
<rect x="326.9" y="710.15" width="3.0" height="6.67" fill="#0000d3"/>
<rect x="329.9" y="710.15" width="3.0" height="6.67" fill="#0000e7"/>
<rect x="332.9" y="710.15" width="3.0" height="6.67" fill="#0010ff"/>
<rect x="335.9" y="710.15" width="3.0" height="6.67" fill="#0060ff"/>
<rect x="338.9" y="710.15" width="3.0" height="6.67" fill="#00ffff"/>
<rect x="341.9" y="710.15" width="3.0" height="6.67" fill="#efff10"/>
<rect x="344.9" y="710.15" width="3.0" height="6.67" fill="#af0000"/>
<rect x="347.9" y="710.15" width="27.0" height="6.67" fill="#800000"/>
<rect x="374.9" y="710.15" width="3.0" height="6.67" fill="#ffaf00"/>
<rect x="377.9" y="710.15" width="3.0" height="6.67" fill="#30ffcf"/>
<rect x="380.9" y="710.15" width="3.0" height="6.67" fill="#0070ff"/>
<rect x="383.9" y="710.15" width="3.0" height="6.67" fill="#0008ff"/>
<rect x="386.9" y="710.15" width="3.0" height="6.67" fill="#0000d3"/>
<rect x="389.9" y="710.15" width="3.0" height="6.67" fill="#0000b7"/>
<rect x="392.9" y="710.15" width="3.0" height="6.67" fill="#0000ab"/>
<rect x="395.9" y="710.15" width="3.0" height="6.67" fill="#0000a3"/>
<rect x="398.9" y="710.15" width="3.0" height="6.67" fill="#00009f"/>
<rect x="401.9" y="710.15" width="3.0" height="6.67" fill="#00009b"/>
<rect x="404.9" y="710.15" width="3.0" height="6.67" fill="#000097"/>
<rect x="299.9" y="716.22" width="3.0" height="6.67" fill="#0000b7"/>
<rect x="302.9" y="716.22" width="3.0" height="6.67" fill="#0000bb"/>
<rect x="305.9" y="716.22" width="3.0" height="6.67" fill="#0000bf"/>
<rect x="308.9" y="716.22" width="3.0" height="6.67" fill="#0000c3"/>
<rect x="311.9" y="716.22" width="3.0" height="6.67" fill="#0000cb"/>
<rect x="314.9" y="716.22" width="3.0" height="6.67" fill="#0000db"/>
<rect x="317.9" y="716.22" width="3.0" height="6.67" fill="#0000f7"/>
<rect x="320.9" y="716.22" width="3.0" height="6.67" fill="#0030ff"/>
<rect x="323.9" y="716.22" width="3.0" height="6.67" fill="#009fff"/>
<rect x="326.9" y="716.22" width="3.0" height="6.67" fill="#60ff9f"/>
<rect x="329.9" y="716.22" width="3.0" height="6.67" fill="#ff8000"/>
<rect x="332.9" y="716.22" width="30.0" height="6.67" fill="#800000"/>
<rect x="362.9" y="716.22" width="3.0" height="6.67" fill="#ffff00"/>
<rect x="365.9" y="716.22" width="3.0" height="6.67" fill="#00efff"/>
<rect x="368.9" y="716.22" width="3.0" height="6.67" fill="#0050ff"/>
<rect x="371.9" y="716.22" width="3.0" height="6.67" fill="#0000f3"/>
<rect x="374.9" y="716.22" width="3.0" height="6.67" fill="#0000c7"/>
<rect x="377.9" y="716.22" width="3.0" height="6.67" fill="#0000b3"/>
<rect x="380.9" y="716.22" width="3.0" height="6.67" fill="#0000a7"/>
<rect x="383.9" y="716.22" width="3.0" height="6.67" fill="#0000a3"/>
<rect x="386.9" y="716.22" width="3.0" height="6.67" fill="#00009f"/>
<rect x="389.9" y="716.22" width="3.0" height="6.67" fill="#00009b"/>
<rect x="392.9" y="716.22" width="3.0" height="6.67" fill="#000097"/>
<rect x="287.9" y="722.29" width="3.0" height="6.67" fill="#0000b7"/>
<rect x="290.9" y="722.29" width="3.0" height="6.67" fill="#0000bb"/>
<rect x="293.9" y="722.29" width="3.0" height="6.67" fill="#0000bf"/>
<rect x="296.9" y="722.29" width="3.0" height="6.67" fill="#0000c7"/>
<rect x="299.9" y="722.29" width="3.0" height="6.67" fill="#0000cf"/>
<rect x="302.9" y="722.29" width="3.0" height="6.67" fill="#0000df"/>
<rect x="305.9" y="722.29" width="3.0" height="6.67" fill="#0008ff"/>
<rect x="308.9" y="722.29" width="3.0" height="6.67" fill="#0050ff"/>
<rect x="311.9" y="722.29" width="3.0" height="6.67" fill="#00cfff"/>
<rect x="314.9" y="722.29" width="3.0" height="6.67" fill="#afff50"/>
<rect x="317.9" y="722.29" width="3.0" height="6.67" fill="#ef0000"/>
<rect x="320.9" y="722.29" width="27.0" height="6.67" fill="#800000"/>
<rect x="347.9" y="722.29" width="3.0" height="6.67" fill="#cf0000"/>
<rect x="350.9" y="722.29" width="3.0" height="6.67" fill="#bfff40"/>
<rect x="353.9" y="722.29" width="3.0" height="6.67" fill="#00cfff"/>
<rect x="356.9" y="722.29" width="3.0" height="6.67" fill="#0040ff"/>
<rect x="359.9" y="722.29" width="3.0" height="6.67" fill="#0000eb"/>
<rect x="362.9" y="722.29" width="3.0" height="6.67" fill="#0000c3"/>
<rect x="365.9" y="722.29" width="3.0" height="6.67" fill="#0000af"/>
<rect x="368.9" y="722.29" width="3.0" height="6.67" fill="#0000a7"/>
<rect x="371.9" y="722.29" width="3.0" height="6.67" fill="#00009f"/>
<rect x="374.9" y="722.29" width="6.0" height="6.67" fill="#00009b"/>
<rect x="275.9" y="728.36" width="6.0" height="6.67" fill="#0000bb"/>
<rect x="281.9" y="728.36" width="3.0" height="6.67" fill="#0000bf"/>
<rect x="284.9" y="728.36" width="3.0" height="6.67" fill="#0000c7"/>
<rect x="287.9" y="728.36" width="3.0" height="6.67" fill="#0000d3"/>
<rect x="290.9" y="728.36" width="3.0" height="6.67" fill="#0000e7"/>
<rect x="293.9" y="728.36" width="3.0" height="6.67" fill="#0010ff"/>
<rect x="296.9" y="728.36" width="3.0" height="6.67" fill="#0070ff"/>
<rect x="299.9" y="728.36" width="3.0" height="6.67" fill="#00ffff"/>
<rect x="302.9" y="728.36" width="3.0" height="6.67" fill="#ffff00"/>
<rect x="305.9" y="728.36" width="3.0" height="6.67" fill="#8f0000"/>
<rect x="308.9" y="728.36" width="27.0" height="6.67" fill="#800000"/>
<rect x="335.9" y="728.36" width="3.0" height="6.67" fill="#ef0000"/>
<rect x="338.9" y="728.36" width="3.0" height="6.67" fill="#afff50"/>
<rect x="341.9" y="728.36" width="3.0" height="6.67" fill="#00bfff"/>
<rect x="344.9" y="728.36" width="3.0" height="6.67" fill="#0030ff"/>
<rect x="347.9" y="728.36" width="3.0" height="6.67" fill="#0000e3"/>
<rect x="350.9" y="728.36" width="3.0" height="6.67" fill="#0000bf"/>
<rect x="353.9" y="728.36" width="3.0" height="6.67" fill="#0000af"/>
<rect x="356.9" y="728.36" width="3.0" height="6.67" fill="#0000a3"/>
<rect x="359.9" y="728.36" width="3.0" height="6.67" fill="#00009f"/>
<rect x="362.9" y="728.36" width="6.0" height="6.67" fill="#00009b"/>
<rect x="263.9" y="734.43" width="6.0" height="6.67" fill="#0000bb"/>
<rect x="269.9" y="734.43" width="3.0" height="6.67" fill="#0000bf"/>
<rect x="272.9" y="734.43" width="3.0" height="6.67" fill="#0000c7"/>
<rect x="275.9" y="734.43" width="3.0" height="6.67" fill="#0000d3"/>
<rect x="278.9" y="734.43" width="3.0" height="6.67" fill="#0000eb"/>
<rect x="281.9" y="734.43" width="3.0" height="6.67" fill="#0020ff"/>
<rect x="284.9" y="734.43" width="3.0" height="6.67" fill="#0070ff"/>
<rect x="287.9" y="734.43" width="3.0" height="6.67" fill="#20ffdf"/>
<rect x="290.9" y="734.43" width="3.0" height="6.67" fill="#ffdf00"/>
<rect x="293.9" y="734.43" width="30.0" height="6.67" fill="#800000"/>
<rect x="323.9" y="734.43" width="3.0" height="6.67" fill="#cf0000"/>
<rect x="326.9" y="734.43" width="3.0" height="6.67" fill="#bfff40"/>
<rect x="329.9" y="734.43" width="3.0" height="6.67" fill="#00bfff"/>
<rect x="332.9" y="734.43" width="3.0" height="6.67" fill="#0030ff"/>
<rect x="335.9" y="734.43" width="3.0" height="6.67" fill="#0000e7"/>
<rect x="338.9" y="734.43" width="3.0" height="6.67" fill="#0000bf"/>
<rect x="341.9" y="734.43" width="3.0" height="6.67" fill="#0000af"/>
<rect x="344.9" y="734.43" width="3.0" height="6.67" fill="#0000a3"/>
<rect x="347.9" y="734.43" width="3.0" height="6.67" fill="#00009f"/>
<rect x="350.9" y="734.43" width="6.0" height="6.67" fill="#00009b"/>
<rect x="251.9" y="740.50" width="3.0" height="6.67" fill="#0000b7"/>
<rect x="254.9" y="740.50" width="3.0" height="6.67" fill="#0000bb"/>
<rect x="257.9" y="740.50" width="3.0" height="6.67" fill="#0000bf"/>
<rect x="260.9" y="740.50" width="3.0" height="6.67" fill="#0000c7"/>
<rect x="263.9" y="740.50" width="3.0" height="6.67" fill="#0000d3"/>
<rect x="266.9" y="740.50" width="3.0" height="6.67" fill="#0000eb"/>
<rect x="269.9" y="740.50" width="3.0" height="6.67" fill="#0020ff"/>
<rect x="272.9" y="740.50" width="3.0" height="6.67" fill="#0070ff"/>
<rect x="275.9" y="740.50" width="3.0" height="6.67" fill="#20ffdf"/>
<rect x="278.9" y="740.50" width="3.0" height="6.67" fill="#ffdf00"/>
<rect x="281.9" y="740.50" width="33.0" height="6.67" fill="#800000"/>
<rect x="314.9" y="740.50" width="3.0" height="6.67" fill="#efff10"/>
<rect x="317.9" y="740.50" width="3.0" height="6.67" fill="#00efff"/>
<rect x="320.9" y="740.50" width="3.0" height="6.67" fill="#0050ff"/>
<rect x="323.9" y="740.50" width="3.0" height="6.67" fill="#0000ef"/>
<rect x="326.9" y="740.50" width="3.0" height="6.67" fill="#0000c7"/>
<rect x="329.9" y="740.50" width="3.0" height="6.67" fill="#0000af"/>
<rect x="332.9" y="740.50" width="3.0" height="6.67" fill="#0000a7"/>
<rect x="335.9" y="740.50" width="3.0" height="6.67" fill="#00009f"/>
<rect x="338.9" y="740.50" width="6.0" height="6.67" fill="#00009b"/>
<rect x="239.9" y="746.57" width="3.0" height="6.67" fill="#0000b7"/>
<rect x="242.9" y="746.57" width="3.0" height="6.67" fill="#0000bb"/>
<rect x="245.9" y="746.57" width="3.0" height="6.67" fill="#0000bf"/>
<rect x="248.9" y="746.57" width="3.0" height="6.67" fill="#0000c7"/>
<rect x="251.9" y="746.57" width="3.0" height="6.67" fill="#0000cf"/>
<rect x="254.9" y="746.57" width="3.0" height="6.67" fill="#0000e3"/>
<rect x="257.9" y="746.57" width="3.0" height="6.67" fill="#000cff"/>
<rect x="260.9" y="746.57" width="3.0" height="6.67" fill="#0060ff"/>
<rect x="263.9" y="746.57" width="3.0" height="6.67" fill="#00efff"/>
<rect x="266.9" y="746.57" width="3.0" height="6.67" fill="#efff10"/>
<rect x="269.9" y="746.57" width="3.0" height="6.67" fill="#9f0000"/>
<rect x="272.9" y="746.57" width="30.0" height="6.67" fill="#800000"/>
<rect x="302.9" y="746.57" width="3.0" height="6.67" fill="#ff8000"/>
<rect x="305.9" y="746.57" width="3.0" height="6.67" fill="#40ffbf"/>
<rect x="308.9" y="746.57" width="3.0" height="6.67" fill="#0080ff"/>
<rect x="311.9" y="746.57" width="3.0" height="6.67" fill="#000cff"/>
<rect x="314.9" y="746.57" width="3.0" height="6.67" fill="#0000d3"/>
<rect x="317.9" y="746.57" width="3.0" height="6.67" fill="#0000b7"/>
<rect x="320.9" y="746.57" width="3.0" height="6.67" fill="#0000a7"/>
<rect x="323.9" y="746.57" width="3.0" height="6.67" fill="#0000a3"/>
<rect x="326.9" y="746.57" width="3.0" height="6.67" fill="#00009f"/>
<rect x="329.9" y="746.57" width="3.0" height="6.67" fill="#00009b"/>
<rect x="332.9" y="746.57" width="3.0" height="6.67" fill="#000097"/>
<rect x="227.9" y="752.64" width="3.0" height="6.67" fill="#0000b7"/>
<rect x="230.9" y="752.64" width="3.0" height="6.67" fill="#0000bb"/>
<rect x="233.9" y="752.64" width="3.0" height="6.67" fill="#0000bf"/>
<rect x="236.9" y="752.64" width="3.0" height="6.67" fill="#0000c3"/>
<rect x="239.9" y="752.64" width="3.0" height="6.67" fill="#0000cb"/>
<rect x="242.9" y="752.64" width="3.0" height="6.67" fill="#0000db"/>
<rect x="245.9" y="752.64" width="3.0" height="6.67" fill="#0000fb"/>
<rect x="248.9" y="752.64" width="3.0" height="6.67" fill="#0040ff"/>
<rect x="251.9" y="752.64" width="3.0" height="6.67" fill="#00afff"/>
<rect x="254.9" y="752.64" width="3.0" height="6.67" fill="#8fff70"/>
<rect x="257.9" y="752.64" width="3.0" height="6.67" fill="#ff3000"/>
<rect x="260.9" y="752.64" width="30.0" height="6.67" fill="#800000"/>
<rect x="290.9" y="752.64" width="3.0" height="6.67" fill="#af0000"/>
<rect x="293.9" y="752.64" width="3.0" height="6.67" fill="#cfff30"/>
<rect x="296.9" y="752.64" width="3.0" height="6.67" fill="#00cfff"/>
<rect x="299.9" y="752.64" width="3.0" height="6.67" fill="#0040ff"/>
<rect x="302.9" y="752.64" width="3.0" height="6.67" fill="#0000e7"/>
<rect x="305.9" y="752.64" width="3.0" height="6.67" fill="#0000bf"/>
<rect x="308.9" y="752.64" width="3.0" height="6.67" fill="#0000af"/>
<rect x="311.9" y="752.64" width="3.0" height="6.67" fill="#0000a3"/>
<rect x="314.9" y="752.64" width="3.0" height="6.67" fill="#00009f"/>
<rect x="317.9" y="752.64" width="3.0" height="6.67" fill="#00009b"/>
<rect x="320.9" y="752.64" width="3.0" height="6.67" fill="#000097"/>
<rect x="218.9" y="758.71" width="3.0" height="6.67" fill="#0000b7"/>
<rect x="221.9" y="758.71" width="3.0" height="6.67" fill="#0000bb"/>
<rect x="224.9" y="758.71" width="3.0" height="6.67" fill="#0000bf"/>
<rect x="227.9" y="758.71" width="3.0" height="6.67" fill="#0000c7"/>
<rect x="230.9" y="758.71" width="3.0" height="6.67" fill="#0000cf"/>
<rect x="233.9" y="758.71" width="3.0" height="6.67" fill="#0000e3"/>
<rect x="236.9" y="758.71" width="3.0" height="6.67" fill="#0010ff"/>
<rect x="239.9" y="758.71" width="3.0" height="6.67" fill="#0060ff"/>
<rect x="242.9" y="758.71" width="3.0" height="6.67" fill="#00ffff"/>
<rect x="245.9" y="758.71" width="3.0" height="6.67" fill="#ffef00"/>
<rect x="248.9" y="758.71" width="33.0" height="6.67" fill="#800000"/>
<rect x="281.9" y="758.71" width="3.0" height="6.67" fill="#ff2000"/>
<rect x="284.9" y="758.71" width="3.0" height="6.67" fill="#70ff8f"/>
<rect x="287.9" y="758.71" width="3.0" height="6.67" fill="#008fff"/>
<rect x="290.9" y="758.71" width="3.0" height="6.67" fill="#0020ff"/>
<rect x="293.9" y="758.71" width="3.0" height="6.67" fill="#0000d7"/>
<rect x="296.9" y="758.71" width="3.0" height="6.67" fill="#0000b7"/>
<rect x="299.9" y="758.71" width="3.0" height="6.67" fill="#0000ab"/>
<rect x="302.9" y="758.71" width="3.0" height="6.67" fill="#0000a3"/>
<rect x="305.9" y="758.71" width="3.0" height="6.67" fill="#00009f"/>
<rect x="308.9" y="758.71" width="3.0" height="6.67" fill="#00009b"/>
<rect x="311.9" y="758.71" width="3.0" height="6.67" fill="#000097"/>
<rect x="209.9" y="764.78" width="3.0" height="6.67" fill="#0000b7"/>
<rect x="212.9" y="764.78" width="3.0" height="6.67" fill="#0000bb"/>
<rect x="215.9" y="764.78" width="3.0" height="6.67" fill="#0000bf"/>
<rect x="218.9" y="764.78" width="3.0" height="6.67" fill="#0000c7"/>
<rect x="221.9" y="764.78" width="3.0" height="6.67" fill="#0000d3"/>
<rect x="224.9" y="764.78" width="3.0" height="6.67" fill="#0000eb"/>
<rect x="227.9" y="764.78" width="3.0" height="6.67" fill="#0020ff"/>
<rect x="230.9" y="764.78" width="3.0" height="6.67" fill="#008fff"/>
<rect x="233.9" y="764.78" width="3.0" height="6.67" fill="#50ffaf"/>
<rect x="236.9" y="764.78" width="3.0" height="6.67" fill="#ff8000"/>
<rect x="239.9" y="764.78" width="33.0" height="6.67" fill="#800000"/>
<rect x="272.9" y="764.78" width="3.0" height="6.67" fill="#ff6000"/>
<rect x="275.9" y="764.78" width="3.0" height="6.67" fill="#40ffbf"/>
<rect x="278.9" y="764.78" width="3.0" height="6.67" fill="#0070ff"/>
<rect x="281.9" y="764.78" width="3.0" height="6.67" fill="#0008ff"/>
<rect x="284.9" y="764.78" width="3.0" height="6.67" fill="#0000cf"/>
<rect x="287.9" y="764.78" width="3.0" height="6.67" fill="#0000b3"/>
<rect x="290.9" y="764.78" width="3.0" height="6.67" fill="#0000a7"/>
<rect x="293.9" y="764.78" width="3.0" height="6.67" fill="#00009f"/>
<rect x="296.9" y="764.78" width="6.0" height="6.67" fill="#00009b"/>
<rect x="200.9" y="770.85" width="3.0" height="6.67" fill="#0000b7"/>
<rect x="203.9" y="770.85" width="3.0" height="6.67" fill="#0000bb"/>
<rect x="206.9" y="770.85" width="3.0" height="6.67" fill="#0000bf"/>
<rect x="209.9" y="770.85" width="3.0" height="6.67" fill="#0000c7"/>
<rect x="212.9" y="770.85" width="3.0" height="6.67" fill="#0000d3"/>
<rect x="215.9" y="770.85" width="3.0" height="6.67" fill="#0000ef"/>
<rect x="218.9" y="770.85" width="3.0" height="6.67" fill="#0030ff"/>
<rect x="221.9" y="770.85" width="3.0" height="6.67" fill="#009fff"/>
<rect x="224.9" y="770.85" width="3.0" height="6.67" fill="#70ff8f"/>
<rect x="227.9" y="770.85" width="3.0" height="6.67" fill="#ff3000"/>
<rect x="230.9" y="770.85" width="33.0" height="6.67" fill="#800000"/>
<rect x="263.9" y="770.85" width="3.0" height="6.67" fill="#ff6000"/>
<rect x="266.9" y="770.85" width="3.0" height="6.67" fill="#40ffbf"/>
<rect x="269.9" y="770.85" width="3.0" height="6.67" fill="#0070ff"/>
<rect x="272.9" y="770.85" width="3.0" height="6.67" fill="#0004ff"/>
<rect x="275.9" y="770.85" width="3.0" height="6.67" fill="#0000cb"/>
<rect x="278.9" y="770.85" width="3.0" height="6.67" fill="#0000b3"/>
<rect x="281.9" y="770.85" width="3.0" height="6.67" fill="#0000a7"/>
<rect x="284.9" y="770.85" width="3.0" height="6.67" fill="#00009f"/>
<rect x="287.9" y="770.85" width="6.0" height="6.67" fill="#00009b"/>
<rect x="191.9" y="776.92" width="3.0" height="6.67" fill="#0000b7"/>
<rect x="194.9" y="776.92" width="3.0" height="6.67" fill="#0000bb"/>
<rect x="197.9" y="776.92" width="3.0" height="6.67" fill="#0000bf"/>
<rect x="200.9" y="776.92" width="3.0" height="6.67" fill="#0000c7"/>
<rect x="203.9" y="776.92" width="3.0" height="6.67" fill="#0000d3"/>
<rect x="206.9" y="776.92" width="3.0" height="6.67" fill="#0000eb"/>
<rect x="209.9" y="776.92" width="3.0" height="6.67" fill="#0020ff"/>
<rect x="212.9" y="776.92" width="3.0" height="6.67" fill="#008fff"/>
<rect x="215.9" y="776.92" width="3.0" height="6.67" fill="#50ffaf"/>
<rect x="218.9" y="776.92" width="3.0" height="6.67" fill="#ff6000"/>
<rect x="221.9" y="776.92" width="33.0" height="6.67" fill="#800000"/>
<rect x="254.9" y="776.92" width="3.0" height="6.67" fill="#ef0000"/>
<rect x="257.9" y="776.92" width="3.0" height="6.67" fill="#80ff80"/>
<rect x="260.9" y="776.92" width="3.0" height="6.67" fill="#008fff"/>
<rect x="263.9" y="776.92" width="3.0" height="6.67" fill="#0010ff"/>
<rect x="266.9" y="776.92" width="3.0" height="6.67" fill="#0000d3"/>
<rect x="269.9" y="776.92" width="3.0" height="6.67" fill="#0000b7"/>
<rect x="272.9" y="776.92" width="3.0" height="6.67" fill="#0000a7"/>
<rect x="275.9" y="776.92" width="3.0" height="6.67" fill="#00009f"/>
<rect x="278.9" y="776.92" width="6.0" height="6.67" fill="#00009b"/>
<rect x="182.9" y="782.99" width="3.0" height="6.67" fill="#0000b7"/>
<rect x="185.9" y="782.99" width="3.0" height="6.67" fill="#0000bb"/>
<rect x="188.9" y="782.99" width="3.0" height="6.67" fill="#0000bf"/>
<rect x="191.9" y="782.99" width="3.0" height="6.67" fill="#0000c3"/>
<rect x="194.9" y="782.99" width="3.0" height="6.67" fill="#0000cb"/>
<rect x="197.9" y="782.99" width="3.0" height="6.67" fill="#0000df"/>
<rect x="200.9" y="782.99" width="3.0" height="6.67" fill="#0008ff"/>
<rect x="203.9" y="782.99" width="3.0" height="6.67" fill="#0060ff"/>
<rect x="206.9" y="782.99" width="3.0" height="6.67" fill="#10ffef"/>
<rect x="209.9" y="782.99" width="3.0" height="6.67" fill="#ffbf00"/>
<rect x="212.9" y="782.99" width="36.0" height="6.67" fill="#800000"/>
<rect x="248.9" y="782.99" width="3.0" height="6.67" fill="#ffef00"/>
<rect x="251.9" y="782.99" width="3.0" height="6.67" fill="#00dfff"/>
<rect x="254.9" y="782.99" width="3.0" height="6.67" fill="#0040ff"/>
<rect x="257.9" y="782.99" width="3.0" height="6.67" fill="#0000e3"/>
<rect x="260.9" y="782.99" width="3.0" height="6.67" fill="#0000bf"/>
<rect x="263.9" y="782.99" width="3.0" height="6.67" fill="#0000ab"/>
<rect x="266.9" y="782.99" width="3.0" height="6.67" fill="#0000a3"/>
<rect x="269.9" y="782.99" width="3.0" height="6.67" fill="#00009f"/>
<rect x="272.9" y="782.99" width="3.0" height="6.67" fill="#00009b"/>
<rect x="275.9" y="782.99" width="3.0" height="6.67" fill="#000097"/>
<rect x="176.9" y="789.06" width="3.0" height="6.67" fill="#0000b7"/>
<rect x="179.9" y="789.06" width="3.0" height="6.67" fill="#0000bb"/>
<rect x="182.9" y="789.06" width="3.0" height="6.67" fill="#0000bf"/>
<rect x="185.9" y="789.06" width="3.0" height="6.67" fill="#0000c7"/>
<rect x="188.9" y="789.06" width="3.0" height="6.67" fill="#0000d3"/>
<rect x="191.9" y="789.06" width="3.0" height="6.67" fill="#0000f3"/>
<rect x="194.9" y="789.06" width="3.0" height="6.67" fill="#0030ff"/>
<rect x="197.9" y="789.06" width="3.0" height="6.67" fill="#00afff"/>
<rect x="200.9" y="789.06" width="3.0" height="6.67" fill="#afff50"/>
<rect x="203.9" y="789.06" width="3.0" height="6.67" fill="#af0000"/>
<rect x="206.9" y="789.06" width="33.0" height="6.67" fill="#800000"/>
<rect x="239.9" y="789.06" width="3.0" height="6.67" fill="#ef0000"/>
<rect x="242.9" y="789.06" width="3.0" height="6.67" fill="#70ff8f"/>
<rect x="245.9" y="789.06" width="3.0" height="6.67" fill="#0080ff"/>
<rect x="248.9" y="789.06" width="3.0" height="6.67" fill="#0008ff"/>
<rect x="251.9" y="789.06" width="3.0" height="6.67" fill="#0000cb"/>
<rect x="254.9" y="789.06" width="3.0" height="6.67" fill="#0000b3"/>
<rect x="257.9" y="789.06" width="3.0" height="6.67" fill="#0000a7"/>
<rect x="260.9" y="789.06" width="3.0" height="6.67" fill="#00009f"/>
<rect x="263.9" y="789.06" width="6.0" height="6.67" fill="#00009b"/>
<rect x="167.9" y="795.13" width="3.0" height="6.67" fill="#0000b7"/>
<rect x="170.9" y="795.13" width="3.0" height="6.67" fill="#0000bb"/>
<rect x="173.9" y="795.13" width="3.0" height="6.67" fill="#0000bf"/>
<rect x="176.9" y="795.13" width="3.0" height="6.67" fill="#0000c3"/>
<rect x="179.9" y="795.13" width="3.0" height="6.67" fill="#0000cb"/>
<rect x="182.9" y="795.13" width="3.0" height="6.67" fill="#0000df"/>
<rect x="185.9" y="795.13" width="3.0" height="6.67" fill="#0004ff"/>
<rect x="188.9" y="795.13" width="3.0" height="6.67" fill="#0060ff"/>
<rect x="191.9" y="795.13" width="3.0" height="6.67" fill="#10ffef"/>
<rect x="194.9" y="795.13" width="3.0" height="6.67" fill="#ffaf00"/>
<rect x="197.9" y="795.13" width="36.0" height="6.67" fill="#800000"/>
<rect x="233.9" y="795.13" width="3.0" height="6.67" fill="#ff8f00"/>
<rect x="236.9" y="795.13" width="3.0" height="6.67" fill="#10ffef"/>
<rect x="239.9" y="795.13" width="3.0" height="6.67" fill="#0050ff"/>
<rect x="242.9" y="795.13" width="3.0" height="6.67" fill="#0000eb"/>
<rect x="245.9" y="795.13" width="3.0" height="6.67" fill="#0000bf"/>
<rect x="248.9" y="795.13" width="3.0" height="6.67" fill="#0000ab"/>
<rect x="251.9" y="795.13" width="3.0" height="6.67" fill="#0000a3"/>
<rect x="254.9" y="795.13" width="3.0" height="6.67" fill="#00009f"/>
<rect x="257.9" y="795.13" width="3.0" height="6.67" fill="#00009b"/>
<rect x="260.9" y="795.13" width="3.0" height="6.67" fill="#000097"/>
<rect x="161.9" y="801.20" width="3.0" height="6.67" fill="#0000b7"/>
<rect x="164.9" y="801.20" width="3.0" height="6.67" fill="#0000bb"/>
<rect x="167.9" y="801.20" width="3.0" height="6.67" fill="#0000bf"/>
<rect x="170.9" y="801.20" width="3.0" height="6.67" fill="#0000c3"/>
<rect x="173.9" y="801.20" width="3.0" height="6.67" fill="#0000cf"/>
<rect x="176.9" y="801.20" width="3.0" height="6.67" fill="#0000e3"/>
<rect x="179.9" y="801.20" width="3.0" height="6.67" fill="#0010ff"/>
<rect x="182.9" y="801.20" width="3.0" height="6.67" fill="#0080ff"/>
<rect x="185.9" y="801.20" width="3.0" height="6.67" fill="#50ffaf"/>
<rect x="188.9" y="801.20" width="3.0" height="6.67" fill="#ff2000"/>
<rect x="191.9" y="801.20" width="36.0" height="6.67" fill="#800000"/>
<rect x="227.9" y="801.20" width="3.0" height="6.67" fill="#ffcf00"/>
<rect x="230.9" y="801.20" width="3.0" height="6.67" fill="#00dfff"/>
<rect x="233.9" y="801.20" width="3.0" height="6.67" fill="#0030ff"/>
<rect x="236.9" y="801.20" width="3.0" height="6.67" fill="#0000df"/>
<rect x="239.9" y="801.20" width="3.0" height="6.67" fill="#0000bb"/>
<rect x="242.9" y="801.20" width="3.0" height="6.67" fill="#0000ab"/>
<rect x="245.9" y="801.20" width="3.0" height="6.67" fill="#0000a3"/>
<rect x="248.9" y="801.20" width="3.0" height="6.67" fill="#00009f"/>
<rect x="251.9" y="801.20" width="3.0" height="6.67" fill="#00009b"/>
<rect x="254.9" y="801.20" width="3.0" height="6.67" fill="#000097"/>
<rect x="155.9" y="807.27" width="3.0" height="6.67" fill="#0000bb"/>
<rect x="158.9" y="807.27" width="3.0" height="6.67" fill="#0000bf"/>
<rect x="161.9" y="807.27" width="3.0" height="6.67" fill="#0000c3"/>
<rect x="164.9" y="807.27" width="3.0" height="6.67" fill="#0000c7"/>
<rect x="167.9" y="807.27" width="3.0" height="6.67" fill="#0000d7"/>
<rect x="170.9" y="807.27" width="3.0" height="6.67" fill="#0000f7"/>
<rect x="173.9" y="807.27" width="3.0" height="6.67" fill="#0040ff"/>
<rect x="176.9" y="807.27" width="3.0" height="6.67" fill="#00dfff"/>
<rect x="179.9" y="807.27" width="3.0" height="6.67" fill="#ffef00"/>
<rect x="182.9" y="807.27" width="36.0" height="6.67" fill="#800000"/>
<rect x="218.9" y="807.27" width="3.0" height="6.67" fill="#af0000"/>
<rect x="221.9" y="807.27" width="3.0" height="6.67" fill="#80ff80"/>
<rect x="224.9" y="807.27" width="3.0" height="6.67" fill="#0080ff"/>
<rect x="227.9" y="807.27" width="3.0" height="6.67" fill="#0004ff"/>
<rect x="230.9" y="807.27" width="3.0" height="6.67" fill="#0000c7"/>
<rect x="233.9" y="807.27" width="3.0" height="6.67" fill="#0000af"/>
<rect x="236.9" y="807.27" width="3.0" height="6.67" fill="#0000a7"/>
<rect x="239.9" y="807.27" width="3.0" height="6.67" fill="#00009f"/>
<rect x="242.9" y="807.27" width="6.0" height="6.67" fill="#00009b"/>
<rect x="146.9" y="813.34" width="9.0" height="6.67" fill="#0000bf"/>
<rect x="155.9" y="813.34" width="3.0" height="6.67" fill="#0000c3"/>
<rect x="158.9" y="813.34" width="3.0" height="6.67" fill="#0000cf"/>
<rect x="161.9" y="813.34" width="3.0" height="6.67" fill="#0000e3"/>
<rect x="164.9" y="813.34" width="3.0" height="6.67" fill="#0010ff"/>
<rect x="167.9" y="813.34" width="3.0" height="6.67" fill="#0070ff"/>
<rect x="170.9" y="813.34" width="3.0" height="6.67" fill="#50ffaf"/>
<rect x="173.9" y="813.34" width="3.0" height="6.67" fill="#ff2000"/>
<rect x="176.9" y="813.34" width="36.0" height="6.67" fill="#800000"/>
<rect x="212.9" y="813.34" width="3.0" height="6.67" fill="#ff7000"/>
<rect x="215.9" y="813.34" width="3.0" height="6.67" fill="#10ffef"/>
<rect x="218.9" y="813.34" width="3.0" height="6.67" fill="#0040ff"/>
<rect x="221.9" y="813.34" width="3.0" height="6.67" fill="#0000e7"/>
<rect x="224.9" y="813.34" width="3.0" height="6.67" fill="#0000bb"/>
<rect x="227.9" y="813.34" width="3.0" height="6.67" fill="#0000ab"/>
<rect x="230.9" y="813.34" width="3.0" height="6.67" fill="#0000a3"/>
<rect x="233.9" y="813.34" width="3.0" height="6.67" fill="#00009f"/>
<rect x="236.9" y="813.34" width="3.0" height="6.67" fill="#00009b"/>
<rect x="239.9" y="813.34" width="3.0" height="6.67" fill="#000097"/>
<rect x="140.9" y="819.41" width="12.0" height="6.67" fill="#0000c7"/>
<rect x="152.9" y="819.41" width="3.0" height="6.67" fill="#0000cf"/>
<rect x="155.9" y="819.41" width="3.0" height="6.67" fill="#0000e7"/>
<rect x="158.9" y="819.41" width="3.0" height="6.67" fill="#0020ff"/>
<rect x="161.9" y="819.41" width="3.0" height="6.67" fill="#008fff"/>
<rect x="164.9" y="819.41" width="3.0" height="6.67" fill="#80ff80"/>
<rect x="167.9" y="819.41" width="3.0" height="6.67" fill="#bf0000"/>
<rect x="170.9" y="819.41" width="36.0" height="6.67" fill="#800000"/>
<rect x="206.9" y="819.41" width="3.0" height="6.67" fill="#ffaf00"/>
<rect x="209.9" y="819.41" width="3.0" height="6.67" fill="#00efff"/>
<rect x="212.9" y="819.41" width="3.0" height="6.67" fill="#0030ff"/>
<rect x="215.9" y="819.41" width="3.0" height="6.67" fill="#0000db"/>
<rect x="218.9" y="819.41" width="3.0" height="6.67" fill="#0000b7"/>
<rect x="221.9" y="819.41" width="3.0" height="6.67" fill="#0000a7"/>
<rect x="224.9" y="819.41" width="3.0" height="6.67" fill="#0000a3"/>
<rect x="227.9" y="819.41" width="3.0" height="6.67" fill="#00009f"/>
<rect x="230.9" y="819.41" width="3.0" height="6.67" fill="#00009b"/>
<rect x="233.9" y="819.41" width="3.0" height="6.67" fill="#000097"/>
<rect x="134.9" y="825.48" width="12.0" height="6.67" fill="#0000cf"/>
<rect x="146.9" y="825.48" width="3.0" height="6.67" fill="#0000d3"/>
<rect x="149.9" y="825.48" width="3.0" height="6.67" fill="#0000e7"/>
<rect x="152.9" y="825.48" width="3.0" height="6.67" fill="#0020ff"/>
<rect x="155.9" y="825.48" width="3.0" height="6.67" fill="#008fff"/>
<rect x="158.9" y="825.48" width="3.0" height="6.67" fill="#80ff80"/>
<rect x="161.9" y="825.48" width="3.0" height="6.67" fill="#bf0000"/>
<rect x="164.9" y="825.48" width="36.0" height="6.67" fill="#800000"/>
<rect x="200.9" y="825.48" width="3.0" height="6.67" fill="#ffaf00"/>
<rect x="203.9" y="825.48" width="3.0" height="6.67" fill="#00dfff"/>
<rect x="206.9" y="825.48" width="3.0" height="6.67" fill="#0030ff"/>
<rect x="209.9" y="825.48" width="3.0" height="6.67" fill="#0000db"/>
<rect x="212.9" y="825.48" width="3.0" height="6.67" fill="#0000b7"/>
<rect x="215.9" y="825.48" width="3.0" height="6.67" fill="#0000a7"/>
<rect x="218.9" y="825.48" width="3.0" height="6.67" fill="#0000a3"/>
<rect x="221.9" y="825.48" width="3.0" height="6.67" fill="#00009f"/>
<rect x="224.9" y="825.48" width="3.0" height="6.67" fill="#00009b"/>
<rect x="227.9" y="825.48" width="3.0" height="6.67" fill="#000097"/>
<rect x="128.9" y="831.55" width="6.0" height="6.67" fill="#0000cf"/>
<rect x="134.9" y="831.55" width="3.0" height="6.67" fill="#0000d3"/>
<rect x="137.9" y="831.55" width="3.0" height="6.67" fill="#0000d7"/>
<rect x="140.9" y="831.55" width="3.0" height="6.67" fill="#0000db"/>
<rect x="143.9" y="831.55" width="3.0" height="6.67" fill="#0000eb"/>
<rect x="146.9" y="831.55" width="3.0" height="6.67" fill="#0010ff"/>
<rect x="149.9" y="831.55" width="3.0" height="6.67" fill="#0070ff"/>
<rect x="152.9" y="831.55" width="3.0" height="6.67" fill="#50ffaf"/>
<rect x="155.9" y="831.55" width="3.0" height="6.67" fill="#ff1000"/>
<rect x="158.9" y="831.55" width="36.0" height="6.67" fill="#800000"/>
<rect x="194.9" y="831.55" width="3.0" height="6.67" fill="#ff7000"/>
<rect x="197.9" y="831.55" width="3.0" height="6.67" fill="#00ffff"/>
<rect x="200.9" y="831.55" width="3.0" height="6.67" fill="#0040ff"/>
<rect x="203.9" y="831.55" width="3.0" height="6.67" fill="#0000df"/>
<rect x="206.9" y="831.55" width="3.0" height="6.67" fill="#0000bb"/>
<rect x="209.9" y="831.55" width="3.0" height="6.67" fill="#0000ab"/>
<rect x="212.9" y="831.55" width="3.0" height="6.67" fill="#0000a3"/>
<rect x="215.9" y="831.55" width="3.0" height="6.67" fill="#00009f"/>
<rect x="218.9" y="831.55" width="3.0" height="6.67" fill="#00009b"/>
<rect x="221.9" y="831.55" width="3.0" height="6.67" fill="#000097"/>
<rect x="125.9" y="837.62" width="3.0" height="6.67" fill="#0000cb"/>
<rect x="128.9" y="837.62" width="3.0" height="6.67" fill="#0000d3"/>
<rect x="131.9" y="837.62" width="3.0" height="6.67" fill="#0000d7"/>
<rect x="134.9" y="837.62" width="3.0" height="6.67" fill="#0000db"/>
<rect x="137.9" y="837.62" width="3.0" height="6.67" fill="#0000e7"/>
<rect x="140.9" y="837.62" width="3.0" height="6.67" fill="#0000ff"/>
<rect x="143.9" y="837.62" width="3.0" height="6.67" fill="#0040ff"/>
<rect x="146.9" y="837.62" width="3.0" height="6.67" fill="#00cfff"/>
<rect x="149.9" y="837.62" width="3.0" height="6.67" fill="#ffef00"/>
<rect x="152.9" y="837.62" width="39.0" height="6.67" fill="#800000"/>
<rect x="191.9" y="837.62" width="3.0" height="6.67" fill="#9fff60"/>
<rect x="194.9" y="837.62" width="3.0" height="6.67" fill="#0080ff"/>
<rect x="197.9" y="837.62" width="3.0" height="6.67" fill="#0000ff"/>
<rect x="200.9" y="837.62" width="3.0" height="6.67" fill="#0000c7"/>
<rect x="203.9" y="837.62" width="3.0" height="6.67" fill="#0000af"/>
<rect x="206.9" y="837.62" width="3.0" height="6.67" fill="#0000a3"/>
<rect x="209.9" y="837.62" width="3.0" height="6.67" fill="#00009f"/>
<rect x="212.9" y="837.62" width="6.0" height="6.67" fill="#00009b"/>
<rect x="119.9" y="843.69" width="3.0" height="5.15" fill="#0000bf"/>
<rect x="122.9" y="843.69" width="3.0" height="5.15" fill="#0000cb"/>
<rect x="125.9" y="843.69" width="3.0" height="5.15" fill="#0000cf"/>
<rect x="128.9" y="843.69" width="3.0" height="5.15" fill="#0000d7"/>
<rect x="131.9" y="843.69" width="3.0" height="5.15" fill="#0000df"/>
<rect x="134.9" y="843.69" width="3.0" height="5.15" fill="#0000eb"/>
<rect x="137.9" y="843.69" width="3.0" height="5.15" fill="#000cff"/>
<rect x="140.9" y="843.69" width="3.0" height="5.15" fill="#0050ff"/>
<rect x="143.9" y="843.69" width="3.0" height="5.15" fill="#00ffff"/>
<rect x="146.9" y="843.69" width="3.0" height="5.15" fill="#ff8f00"/>
<rect x="149.9" y="843.69" width="36.0" height="5.15" fill="#800000"/>
<rect x="185.9" y="843.69" width="3.0" height="5.15" fill="#cf0000"/>
<rect x="188.9" y="843.69" width="3.0" height="5.15" fill="#50ffaf"/>
<rect x="191.9" y="843.69" width="3.0" height="5.15" fill="#0060ff"/>
<rect x="194.9" y="843.69" width="3.0" height="5.15" fill="#0000ef"/>
<rect x="197.9" y="843.69" width="3.0" height="5.15" fill="#0000bf"/>
<rect x="200.9" y="843.69" width="3.0" height="5.15" fill="#0000ab"/>
<rect x="203.9" y="843.69" width="3.0" height="5.15" fill="#0000a3"/>
<rect x="206.9" y="843.69" width="3.0" height="5.15" fill="#00009f"/>
<rect x="209.9" y="843.69" width="3.0" height="5.15" fill="#00009b"/>
<rect x="212.9" y="843.69" width="3.0" height="5.15" fill="#000097"/>
<rect x="116.9" y="848.24" width="3.0" height="5.15" fill="#0000af"/>
<rect x="119.9" y="848.24" width="3.0" height="5.15" fill="#0000c3"/>
<rect x="122.9" y="848.24" width="3.0" height="5.15" fill="#0000cb"/>
<rect x="125.9" y="848.24" width="3.0" height="5.15" fill="#0000d3"/>
<rect x="128.9" y="848.24" width="3.0" height="5.15" fill="#0000df"/>
<rect x="131.9" y="848.24" width="3.0" height="5.15" fill="#0000eb"/>
<rect x="134.9" y="848.24" width="3.0" height="5.15" fill="#000cff"/>
<rect x="137.9" y="848.24" width="3.0" height="5.15" fill="#0050ff"/>
<rect x="140.9" y="848.24" width="3.0" height="5.15" fill="#00ffff"/>
<rect x="143.9" y="848.24" width="3.0" height="5.15" fill="#ff9f00"/>
<rect x="146.9" y="848.24" width="36.0" height="5.15" fill="#800000"/>
<rect x="182.9" y="848.24" width="3.0" height="5.15" fill="#bf0000"/>
<rect x="185.9" y="848.24" width="3.0" height="5.15" fill="#60ff9f"/>
<rect x="188.9" y="848.24" width="3.0" height="5.15" fill="#0060ff"/>
<rect x="191.9" y="848.24" width="3.0" height="5.15" fill="#0000ef"/>
<rect x="194.9" y="848.24" width="3.0" height="5.15" fill="#0000bf"/>
<rect x="197.9" y="848.24" width="3.0" height="5.15" fill="#0000ab"/>
<rect x="200.9" y="848.24" width="3.0" height="5.15" fill="#0000a3"/>
<rect x="203.9" y="848.24" width="3.0" height="5.15" fill="#00009f"/>
<rect x="206.9" y="848.24" width="3.0" height="5.15" fill="#00009b"/>
<rect x="209.9" y="848.24" width="3.0" height="5.15" fill="#000097"/>
<rect x="116.9" y="852.78" width="3.0" height="5.15" fill="#0000b3"/>
<rect x="119.9" y="852.78" width="3.0" height="5.15" fill="#0000c3"/>
<rect x="122.9" y="852.78" width="3.0" height="5.15" fill="#0000cf"/>
<rect x="125.9" y="852.78" width="3.0" height="5.15" fill="#0000db"/>
<rect x="128.9" y="852.78" width="3.0" height="5.15" fill="#0000eb"/>
<rect x="131.9" y="852.78" width="3.0" height="5.15" fill="#0008ff"/>
<rect x="134.9" y="852.78" width="3.0" height="5.15" fill="#0050ff"/>
<rect x="137.9" y="852.78" width="3.0" height="5.15" fill="#00efff"/>
<rect x="140.9" y="852.78" width="3.0" height="5.15" fill="#ffcf00"/>
<rect x="143.9" y="852.78" width="39.0" height="5.15" fill="#800000"/>
<rect x="182.9" y="852.78" width="3.0" height="5.15" fill="#80ff80"/>
<rect x="185.9" y="852.78" width="3.0" height="5.15" fill="#0070ff"/>
<rect x="188.9" y="852.78" width="3.0" height="5.15" fill="#0000f3"/>
<rect x="191.9" y="852.78" width="3.0" height="5.15" fill="#0000c3"/>
<rect x="194.9" y="852.78" width="3.0" height="5.15" fill="#0000ab"/>
<rect x="197.9" y="852.78" width="3.0" height="5.15" fill="#0000a3"/>
<rect x="200.9" y="852.78" width="3.0" height="5.15" fill="#00009f"/>
<rect x="203.9" y="852.78" width="6.0" height="5.15" fill="#00009b"/>
<rect x="113.9" y="857.33" width="3.0" height="5.15" fill="#0000a7"/>
<rect x="116.9" y="857.33" width="3.0" height="5.15" fill="#0000b7"/>
<rect x="119.9" y="857.33" width="3.0" height="5.15" fill="#0000c7"/>
<rect x="122.9" y="857.33" width="3.0" height="5.15" fill="#0000d7"/>
<rect x="125.9" y="857.33" width="3.0" height="5.15" fill="#0000e3"/>
<rect x="128.9" y="857.33" width="3.0" height="5.15" fill="#0000ff"/>
<rect x="131.9" y="857.33" width="3.0" height="5.15" fill="#0040ff"/>
<rect x="134.9" y="857.33" width="3.0" height="5.15" fill="#00cfff"/>
<rect x="137.9" y="857.33" width="3.0" height="5.15" fill="#ffff00"/>
<rect x="140.9" y="857.33" width="39.0" height="5.15" fill="#800000"/>
<rect x="179.9" y="857.33" width="3.0" height="5.15" fill="#9fff60"/>
<rect x="182.9" y="857.33" width="3.0" height="5.15" fill="#0080ff"/>
<rect x="185.9" y="857.33" width="3.0" height="5.15" fill="#0000fb"/>
<rect x="188.9" y="857.33" width="3.0" height="5.15" fill="#0000c3"/>
<rect x="191.9" y="857.33" width="3.0" height="5.15" fill="#0000af"/>
<rect x="194.9" y="857.33" width="3.0" height="5.15" fill="#0000a3"/>
<rect x="197.9" y="857.33" width="3.0" height="5.15" fill="#00009f"/>
<rect x="200.9" y="857.33" width="6.0" height="5.15" fill="#00009b"/>
<rect x="110.9" y="861.88" width="3.0" height="5.15" fill="#00009f"/>
<rect x="113.9" y="861.88" width="3.0" height="5.15" fill="#0000ab"/>
<rect x="116.9" y="861.88" width="3.0" height="5.15" fill="#0000bb"/>
<rect x="119.9" y="861.88" width="3.0" height="5.15" fill="#0000cb"/>
<rect x="122.9" y="861.88" width="3.0" height="5.15" fill="#0000df"/>
<rect x="125.9" y="861.88" width="3.0" height="5.15" fill="#0000f7"/>
<rect x="128.9" y="861.88" width="3.0" height="5.15" fill="#0030ff"/>
<rect x="131.9" y="861.88" width="3.0" height="5.15" fill="#00bfff"/>
<rect x="134.9" y="861.88" width="3.0" height="5.15" fill="#cfff30"/>
<rect x="137.9" y="861.88" width="39.0" height="5.15" fill="#800000"/>
<rect x="176.9" y="861.88" width="3.0" height="5.15" fill="#cfff30"/>
<rect x="179.9" y="861.88" width="3.0" height="5.15" fill="#008fff"/>
<rect x="182.9" y="861.88" width="3.0" height="5.15" fill="#0004ff"/>
<rect x="185.9" y="861.88" width="3.0" height="5.15" fill="#0000c7"/>
<rect x="188.9" y="861.88" width="3.0" height="5.15" fill="#0000af"/>
<rect x="191.9" y="861.88" width="3.0" height="5.15" fill="#0000a7"/>
<rect x="194.9" y="861.88" width="3.0" height="5.15" fill="#00009f"/>
<rect x="197.9" y="861.88" width="6.0" height="5.15" fill="#00009b"/>
<rect x="107.9" y="866.42" width="3.0" height="5.15" fill="#00009f"/>
<rect x="110.9" y="866.42" width="3.0" height="5.15" fill="#0000a3"/>
<rect x="113.9" y="866.42" width="3.0" height="5.15" fill="#0000ab"/>
<rect x="116.9" y="866.42" width="3.0" height="5.15" fill="#0000bf"/>
<rect x="119.9" y="866.42" width="3.0" height="5.15" fill="#0000d3"/>
<rect x="122.9" y="866.42" width="3.0" height="5.15" fill="#0000ef"/>
<rect x="125.9" y="866.42" width="3.0" height="5.15" fill="#0020ff"/>
<rect x="128.9" y="866.42" width="3.0" height="5.15" fill="#008fff"/>
<rect x="131.9" y="866.42" width="3.0" height="5.15" fill="#8fff70"/>
<rect x="134.9" y="866.42" width="39.0" height="5.15" fill="#800000"/>
<rect x="173.9" y="866.42" width="3.0" height="5.15" fill="#ffdf00"/>
<rect x="176.9" y="866.42" width="3.0" height="5.15" fill="#00afff"/>
<rect x="179.9" y="866.42" width="3.0" height="5.15" fill="#0010ff"/>
<rect x="182.9" y="866.42" width="3.0" height="5.15" fill="#0000cb"/>
<rect x="185.9" y="866.42" width="3.0" height="5.15" fill="#0000b3"/>
<rect x="188.9" y="866.42" width="3.0" height="5.15" fill="#0000a7"/>
<rect x="191.9" y="866.42" width="3.0" height="5.15" fill="#00009f"/>
<rect x="194.9" y="866.42" width="6.0" height="5.15" fill="#00009b"/>
<rect x="104.9" y="870.97" width="3.0" height="5.15" fill="#00009f"/>
<rect x="107.9" y="870.97" width="3.0" height="5.15" fill="#0000a3"/>
<rect x="110.9" y="870.97" width="3.0" height="5.15" fill="#0000a7"/>
<rect x="113.9" y="870.97" width="3.0" height="5.15" fill="#0000af"/>
<rect x="116.9" y="870.97" width="3.0" height="5.15" fill="#0000c3"/>
<rect x="119.9" y="870.97" width="3.0" height="5.15" fill="#0000e3"/>
<rect x="122.9" y="870.97" width="3.0" height="5.15" fill="#0010ff"/>
<rect x="125.9" y="870.97" width="3.0" height="5.15" fill="#0070ff"/>
<rect x="128.9" y="870.97" width="3.0" height="5.15" fill="#50ffaf"/>
<rect x="131.9" y="870.97" width="3.0" height="5.15" fill="#ff0000"/>
<rect x="134.9" y="870.97" width="36.0" height="5.15" fill="#800000"/>
<rect x="170.9" y="870.97" width="3.0" height="5.15" fill="#ff7000"/>
<rect x="173.9" y="870.97" width="3.0" height="5.15" fill="#00efff"/>
<rect x="176.9" y="870.97" width="3.0" height="5.15" fill="#0030ff"/>
<rect x="179.9" y="870.97" width="3.0" height="5.15" fill="#0000d7"/>
<rect x="182.9" y="870.97" width="3.0" height="5.15" fill="#0000b7"/>
<rect x="185.9" y="870.97" width="3.0" height="5.15" fill="#0000a7"/>
<rect x="188.9" y="870.97" width="3.0" height="5.15" fill="#0000a3"/>
<rect x="191.9" y="870.97" width="3.0" height="5.15" fill="#00009f"/>
<rect x="194.9" y="870.97" width="3.0" height="5.15" fill="#00009b"/>
<rect x="197.9" y="870.97" width="3.0" height="5.15" fill="#000097"/>
<rect x="104.9" y="875.51" width="3.0" height="5.15" fill="#00009f"/>
<rect x="107.9" y="875.51" width="3.0" height="5.15" fill="#0000a3"/>
<rect x="110.9" y="875.51" width="3.0" height="5.15" fill="#0000a7"/>
<rect x="113.9" y="875.51" width="3.0" height="5.15" fill="#0000b3"/>
<rect x="116.9" y="875.51" width="3.0" height="5.15" fill="#0000cb"/>
<rect x="119.9" y="875.51" width="3.0" height="5.15" fill="#0000f7"/>
<rect x="122.9" y="875.51" width="3.0" height="5.15" fill="#0040ff"/>
<rect x="125.9" y="875.51" width="3.0" height="5.15" fill="#00efff"/>
<rect x="128.9" y="875.51" width="3.0" height="5.15" fill="#ffaf00"/>
<rect x="131.9" y="875.51" width="36.0" height="5.15" fill="#800000"/>
<rect x="167.9" y="875.51" width="3.0" height="5.15" fill="#8f0000"/>
<rect x="170.9" y="875.51" width="3.0" height="5.15" fill="#60ff9f"/>
<rect x="173.9" y="875.51" width="3.0" height="5.15" fill="#0060ff"/>
<rect x="176.9" y="875.51" width="3.0" height="5.15" fill="#0000eb"/>
<rect x="179.9" y="875.51" width="3.0" height="5.15" fill="#0000bf"/>
<rect x="182.9" y="875.51" width="3.0" height="5.15" fill="#0000ab"/>
<rect x="185.9" y="875.51" width="3.0" height="5.15" fill="#0000a3"/>
<rect x="188.9" y="875.51" width="3.0" height="5.15" fill="#00009f"/>
<rect x="191.9" y="875.51" width="6.0" height="5.15" fill="#00009b"/>
<rect x="101.9" y="880.06" width="3.0" height="5.15" fill="#00009f"/>
<rect x="104.9" y="880.06" width="3.0" height="5.15" fill="#0000a3"/>
<rect x="107.9" y="880.06" width="3.0" height="5.15" fill="#0000a7"/>
<rect x="110.9" y="880.06" width="3.0" height="5.15" fill="#0000ab"/>
<rect x="113.9" y="880.06" width="3.0" height="5.15" fill="#0000bb"/>
<rect x="116.9" y="880.06" width="3.0" height="5.15" fill="#0000db"/>
<rect x="119.9" y="880.06" width="3.0" height="5.15" fill="#0010ff"/>
<rect x="122.9" y="880.06" width="3.0" height="5.15" fill="#008fff"/>
<rect x="125.9" y="880.06" width="3.0" height="5.15" fill="#9fff60"/>
<rect x="128.9" y="880.06" width="39.0" height="5.15" fill="#800000"/>
<rect x="167.9" y="880.06" width="3.0" height="5.15" fill="#ffdf00"/>
<rect x="170.9" y="880.06" width="3.0" height="5.15" fill="#00bfff"/>
<rect x="173.9" y="880.06" width="3.0" height="5.15" fill="#0010ff"/>
<rect x="176.9" y="880.06" width="3.0" height="5.15" fill="#0000cb"/>
<rect x="179.9" y="880.06" width="3.0" height="5.15" fill="#0000b3"/>
<rect x="182.9" y="880.06" width="3.0" height="5.15" fill="#0000a7"/>
<rect x="185.9" y="880.06" width="3.0" height="5.15" fill="#00009f"/>
<rect x="188.9" y="880.06" width="6.0" height="5.15" fill="#00009b"/>
<rect x="98.9" y="884.61" width="3.0" height="5.15" fill="#00009b"/>
<rect x="101.9" y="884.61" width="3.0" height="5.15" fill="#00009f"/>
<rect x="104.9" y="884.61" width="3.0" height="5.15" fill="#0000a3"/>
<rect x="107.9" y="884.61" width="3.0" height="5.15" fill="#0000a7"/>
<rect x="110.9" y="884.61" width="3.0" height="5.15" fill="#0000af"/>
<rect x="113.9" y="884.61" width="3.0" height="5.15" fill="#0000c3"/>
<rect x="116.9" y="884.61" width="3.0" height="5.15" fill="#0000eb"/>
<rect x="119.9" y="884.61" width="3.0" height="5.15" fill="#0040ff"/>
<rect x="122.9" y="884.61" width="3.0" height="5.15" fill="#00ffff"/>
<rect x="125.9" y="884.61" width="3.0" height="5.15" fill="#ff8000"/>
<rect x="128.9" y="884.61" width="36.0" height="5.15" fill="#800000"/>
<rect x="164.9" y="884.61" width="3.0" height="5.15" fill="#bf0000"/>
<rect x="167.9" y="884.61" width="3.0" height="5.15" fill="#50ffaf"/>
<rect x="170.9" y="884.61" width="3.0" height="5.15" fill="#0050ff"/>
<rect x="173.9" y="884.61" width="3.0" height="5.15" fill="#0000e7"/>
<rect x="176.9" y="884.61" width="3.0" height="5.15" fill="#0000bb"/>
<rect x="179.9" y="884.61" width="3.0" height="5.15" fill="#0000ab"/>
<rect x="182.9" y="884.61" width="3.0" height="5.15" fill="#0000a3"/>
<rect x="185.9" y="884.61" width="3.0" height="5.15" fill="#00009f"/>
<rect x="188.9" y="884.61" width="3.0" height="5.15" fill="#00009b"/>
<rect x="191.9" y="884.61" width="3.0" height="5.15" fill="#000097"/>
<rect x="98.9" y="889.15" width="6.0" height="5.15" fill="#00009f"/>
<rect x="104.9" y="889.15" width="3.0" height="5.15" fill="#0000a3"/>
<rect x="107.9" y="889.15" width="3.0" height="5.15" fill="#0000ab"/>
<rect x="110.9" y="889.15" width="3.0" height="5.15" fill="#0000b3"/>
<rect x="113.9" y="889.15" width="3.0" height="5.15" fill="#0000cf"/>
<rect x="116.9" y="889.15" width="3.0" height="5.15" fill="#000cff"/>
<rect x="119.9" y="889.15" width="3.0" height="5.15" fill="#008fff"/>
<rect x="122.9" y="889.15" width="3.0" height="5.15" fill="#9fff60"/>
<rect x="125.9" y="889.15" width="39.0" height="5.15" fill="#800000"/>
<rect x="164.9" y="889.15" width="3.0" height="5.15" fill="#ffdf00"/>
<rect x="167.9" y="889.15" width="3.0" height="5.15" fill="#00bfff"/>
<rect x="170.9" y="889.15" width="3.0" height="5.15" fill="#0010ff"/>
<rect x="173.9" y="889.15" width="3.0" height="5.15" fill="#0000cb"/>
<rect x="176.9" y="889.15" width="3.0" height="5.15" fill="#0000af"/>
<rect x="179.9" y="889.15" width="3.0" height="5.15" fill="#0000a7"/>
<rect x="182.9" y="889.15" width="3.0" height="5.15" fill="#00009f"/>
<rect x="185.9" y="889.15" width="6.0" height="5.15" fill="#00009b"/>
</g></g>
<path d="M66.8,62.6H78.0M66.8,118.4H78.0M66.8,174.6H78.0M66.8,233.0H78.0M66.8,291.5H78.0M589.5,140.2H601M589.5,221.9H601M589.5,305.0H601M66.8,342.2H76.1M66.8,398.6H76.1M66.8,455.6H76.1M66.8,513.4H76.1M66.8,572.7H76.1M589.5,418.8H601M589.5,501.9H601M589.5,584.1H601M66.8,621.9H77.9M66.8,678.9H77.9M66.8,735.3H77.9M66.8,793.1H77.9M66.8,852.4H77.9M589.5,693.6H601M589.5,776.5H601M589.5,858.9H601M119.3,49V58.8M214.3,49V58.8M306.7,49V58.8M396.7,49V58.8M486.7,49V58.8M122.5,894V903.8M218.2,894V903.8M310.9,894V903.8M402.7,894V903.8M493.3,894V903.8" stroke="#8a8a8a" stroke-width="1" fill="none" filter="url(#tb)"/>
<g filter="url(#tb)">
<g fill="#262626" font-size="19.3" transform="scale(0.970,1)">
<text x="66.2" y="70.3" text-anchor="end">700</text>
<text x="66.2" y="182.3" text-anchor="end">500</text>
<text x="66.2" y="299.2" text-anchor="end">300</text>
<text x="650.5" y="147.9" text-anchor="end">100</text>
<text x="650.5" y="229.6" text-anchor="end">75</text>
<text x="650.5" y="312.7" text-anchor="end">50</text>
<text x="66.2" y="349.9" text-anchor="end">700</text>
<text x="66.2" y="463.3" text-anchor="end">500</text>
<text x="66.2" y="580.4" text-anchor="end">300</text>
<text x="650.5" y="426.5" text-anchor="end">100</text>
<text x="650.5" y="509.6" text-anchor="end">75</text>
<text x="650.5" y="591.8" text-anchor="end">50</text>
<text x="66.2" y="629.6" text-anchor="end">700</text>
<text x="66.2" y="743.0" text-anchor="end">500</text>
<text x="66.2" y="860.1" text-anchor="end">300</text>
<text x="650.5" y="701.3" text-anchor="end">100</text>
<text x="650.5" y="784.2" text-anchor="end">75</text>
<text x="650.5" y="866.6" text-anchor="end">50</text>
</g>
<g fill="#262626" font-size="19.3" text-anchor="middle">
<text x="122" y="38.5">0</text><text x="396.3" y="38.4">1</text>
<text x="123.1" y="926">0</text>
<text x="312.7" y="926">4</text>
<text x="494.5" y="926">8</text>
</g>
<g fill="#161616" stroke="#161616" stroke-width="0.4" font-size="22.3">
<text x="199.4" y="18.4" textLength="260.4" lengthAdjust="spacing">Compensation Field (Td)</text>
<text x="206.3" y="949.6" textLength="275" lengthAdjust="spacing">Compensation Voltage (V)</text>
<text transform="translate(18.4,599) rotate(-90)" textLength="246.7" lengthAdjust="spacing">Separation Voltage (V)</text>
<text transform="translate(640.6,367.1) rotate(90)" textLength="230.2" lengthAdjust="spacing">Separation Field (Td)</text>
</g>
</g>
<g filter="url(#tb)">
<g fill="#fff" font-weight="bold" font-size="25.8" text-anchor="middle">
<text x="560.7" y="92.4">A</text>
<text x="561.1" y="391.5">B</text>
<text x="560.3" y="678.9">C</text>
</g>
<g fill="#fff" font-weight="bold" font-size="18.4">
<text x="262.4" y="302.6">H<tspan font-size="10.5" dy="-7">+</tspan><tspan dy="7">(H</tspan><tspan font-size="12" dy="4.8">2</tspan><tspan dy="-4.8">O)</tspan><tspan font-size="12" dy="4.6">3.95</tspan></text>
<text x="350.8" y="568.9">H<tspan font-size="10.5" dy="-7">+</tspan><tspan dy="7">(H</tspan><tspan font-size="12" dy="4.8">2</tspan><tspan dy="-4.8">O)</tspan><tspan font-size="12" dy="4.6">5.83</tspan></text>
<text x="429.4" y="802.5">H<tspan font-size="10.5" dy="-7">+</tspan><tspan dy="7">(H</tspan><tspan font-size="12" dy="4.8">2</tspan><tspan dy="-4.8">O)</tspan><tspan font-size="12" dy="4.6">6.5</tspan></text>
</g>
<path d="M252.3,286.7L195.2,239.6" stroke="#fff" stroke-width="2.6" fill="none"/>
<path d="M187.1,232.9L198.9,236.7L193.0,243.8z" fill="#fff"/>
<path d="M341.8,546.8L285.0,500.3" stroke="#fff" stroke-width="2.6" fill="none"/>
<path d="M276.9,493.6L288.7,497.3L282.9,504.4z" fill="#fff"/>
<path d="M421.8,781.4L365.0,735.1" stroke="#fff" stroke-width="2.6" fill="none"/>
<path d="M356.9,728.5L368.7,732.2L362.9,739.3z" fill="#fff"/>
</g>
</svg></body></html>
